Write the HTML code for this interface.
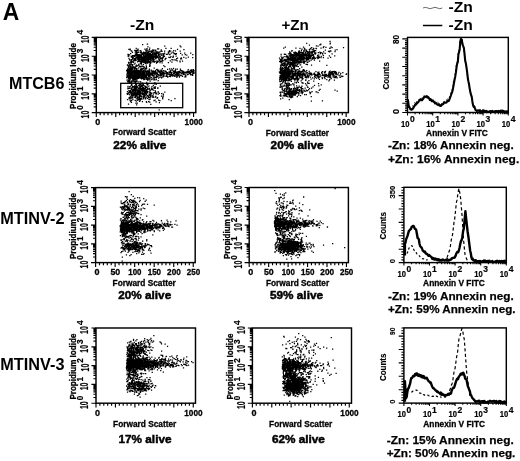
<!DOCTYPE html>
<html lang="en"><head><meta charset="utf-8"><title>Figure A</title>
<style>html,body{margin:0;padding:0;background:#fff;}body{width:520px;height:461px;overflow:hidden;}svg{display:block;filter:blur(0.35px);}</style>
</head><body>
<svg width="520" height="461" viewBox="0 0 520 461" font-family="'Liberation Sans', Arial, Helvetica, sans-serif">
<rect x="96.30" y="37.40" width="99.50" height="75.20" fill="none" stroke="#000" stroke-width="1.45"/>
<path d="M96.30 112.60L96.30 116.90M100.19 112.60L100.19 115.20M104.08 112.60L104.08 115.20M107.97 112.60L107.97 115.20M111.86 112.60L111.86 115.20M115.75 112.60L115.75 116.90M119.64 112.60L119.64 115.20M123.53 112.60L123.53 115.20M127.42 112.60L127.42 115.20M131.31 112.60L131.31 115.20M135.21 112.60L135.21 116.90M139.10 112.60L139.10 115.20M142.99 112.60L142.99 115.20M146.88 112.60L146.88 115.20M150.77 112.60L150.77 115.20M154.66 112.60L154.66 116.90M158.55 112.60L158.55 115.20M162.44 112.60L162.44 115.20M166.33 112.60L166.33 115.20M170.22 112.60L170.22 115.20M174.11 112.60L174.11 116.90M178.00 112.60L178.00 115.20M181.89 112.60L181.89 115.20M185.78 112.60L185.78 115.20M189.67 112.60L189.67 115.20M193.56 112.60L193.56 116.90M91.70 112.60L96.30 112.60M93.70 106.94L96.30 106.94M93.70 103.63L96.30 103.63M93.70 101.28L96.30 101.28M93.70 99.46L96.30 99.46M93.70 97.97L96.30 97.97M93.70 96.71L96.30 96.71M93.70 95.62L96.30 95.62M93.70 94.66L96.30 94.66M91.70 93.80L96.30 93.80M93.70 88.14L96.30 88.14M93.70 84.83L96.30 84.83M93.70 82.48L96.30 82.48M93.70 80.66L96.30 80.66M93.70 79.17L96.30 79.17M93.70 77.91L96.30 77.91M93.70 76.82L96.30 76.82M93.70 75.86L96.30 75.86M91.70 75.00L96.30 75.00M93.70 69.34L96.30 69.34M93.70 66.03L96.30 66.03M93.70 63.68L96.30 63.68M93.70 61.86L96.30 61.86M93.70 60.37L96.30 60.37M93.70 59.11L96.30 59.11M93.70 58.02L96.30 58.02M93.70 57.06L96.30 57.06M91.70 56.20L96.30 56.20M93.70 50.54L96.30 50.54M93.70 47.23L96.30 47.23M93.70 44.88L96.30 44.88M93.70 43.06L96.30 43.06M93.70 41.57L96.30 41.57M93.70 40.31L96.30 40.31M93.70 39.22L96.30 39.22M93.70 38.26L96.30 38.26M91.70 37.40L96.30 37.40" stroke="#000" stroke-width="1.15" fill="none"/>
<text x="88.80" y="118.50" font-size="10.2" font-weight="bold" text-anchor="start" fill="#000" textLength="7.80" lengthAdjust="spacingAndGlyphs" transform="rotate(-90 88.80 118.50)"  stroke="#000" stroke-width="0.2">10</text>
<text x="83.30" y="109.70" font-size="9.4" font-weight="bold" text-anchor="start" fill="#000" textLength="4.60" lengthAdjust="spacingAndGlyphs" transform="rotate(-90 83.30 109.70)"  stroke="#000" stroke-width="0.2">0</text>
<text x="88.80" y="99.70" font-size="10.2" font-weight="bold" text-anchor="start" fill="#000" textLength="7.80" lengthAdjust="spacingAndGlyphs" transform="rotate(-90 88.80 99.70)"  stroke="#000" stroke-width="0.2">10</text>
<text x="83.30" y="90.90" font-size="9.4" font-weight="bold" text-anchor="start" fill="#000" textLength="4.60" lengthAdjust="spacingAndGlyphs" transform="rotate(-90 83.30 90.90)"  stroke="#000" stroke-width="0.2">1</text>
<text x="88.80" y="80.90" font-size="10.2" font-weight="bold" text-anchor="start" fill="#000" textLength="7.80" lengthAdjust="spacingAndGlyphs" transform="rotate(-90 88.80 80.90)"  stroke="#000" stroke-width="0.2">10</text>
<text x="83.30" y="72.10" font-size="9.4" font-weight="bold" text-anchor="start" fill="#000" textLength="4.60" lengthAdjust="spacingAndGlyphs" transform="rotate(-90 83.30 72.10)"  stroke="#000" stroke-width="0.2">2</text>
<text x="88.80" y="62.10" font-size="10.2" font-weight="bold" text-anchor="start" fill="#000" textLength="7.80" lengthAdjust="spacingAndGlyphs" transform="rotate(-90 88.80 62.10)"  stroke="#000" stroke-width="0.2">10</text>
<text x="83.30" y="53.30" font-size="9.4" font-weight="bold" text-anchor="start" fill="#000" textLength="4.60" lengthAdjust="spacingAndGlyphs" transform="rotate(-90 83.30 53.30)"  stroke="#000" stroke-width="0.2">3</text>
<text x="88.80" y="43.30" font-size="10.2" font-weight="bold" text-anchor="start" fill="#000" textLength="7.80" lengthAdjust="spacingAndGlyphs" transform="rotate(-90 88.80 43.30)"  stroke="#000" stroke-width="0.2">10</text>
<text x="83.30" y="34.50" font-size="9.4" font-weight="bold" text-anchor="start" fill="#000" textLength="4.60" lengthAdjust="spacingAndGlyphs" transform="rotate(-90 83.30 34.50)"  stroke="#000" stroke-width="0.2">4</text>
<text x="76.30" y="76.00" font-size="9.6" font-weight="bold" text-anchor="middle" fill="#000" textLength="66.00" lengthAdjust="spacingAndGlyphs" transform="rotate(-90 76.30 76.00)"  stroke="#000" stroke-width="0.3">Propidium Iodide</text>
<text x="97.80" y="124.90" font-size="9" font-weight="bold" text-anchor="middle" fill="#000"  stroke="#000" stroke-width="0.3">0</text>
<text x="193.76" y="124.90" font-size="9" font-weight="bold" text-anchor="middle" fill="#000" textLength="18.30" lengthAdjust="spacingAndGlyphs"  stroke="#000" stroke-width="0.3">1000</text>
<text x="144.50" y="135.40" font-size="9.0" font-weight="bold" text-anchor="middle" fill="#000" textLength="63.30" lengthAdjust="spacingAndGlyphs"  stroke="#000" stroke-width="0.3">Forward Scatter</text>
<path d="M143.1 59.3h1.25M155.4 58.4h1.25M155.4 58.0h1.25M142.2 58.0h1.25M130.4 61.6h1.25M147.5 62.2h1.25M137.4 56.1h1.25M162.4 57.9h1.25M148.2 58.4h1.25M147.7 54.9h1.25M139.8 54.9h1.25M148.3 57.5h1.25M141.3 54.0h1.25M136.9 55.8h1.25M149.2 51.4h1.25M135.6 55.9h1.25M144.4 54.3h1.25M152.3 59.2h1.25M151.4 60.2h1.25M137.9 52.3h1.25M150.9 54.5h1.25M135.5 55.3h1.25M157.0 48.8h1.25M143.7 56.2h1.25M128.3 49.3h1.25M143.5 60.9h1.25M155.3 57.0h1.25M147.7 57.9h1.25M150.0 58.9h1.25M147.9 55.9h1.25M127.6 56.3h1.25M150.1 54.6h1.25M133.6 64.1h1.25M148.6 58.8h1.25M146.5 61.4h1.25M145.3 57.5h1.25M137.5 61.3h1.25M141.4 53.4h1.25M144.0 56.2h1.25M148.8 49.5h1.25M138.3 60.1h1.25M143.2 56.4h1.25M146.7 59.2h1.25M145.6 57.2h1.25M152.3 58.7h1.25M154.1 52.9h1.25M145.3 60.6h1.25M157.9 61.2h1.25M135.3 58.9h1.25M152.0 58.7h1.25M147.9 55.1h1.25M155.9 55.0h1.25M143.3 57.1h1.25M163.2 54.8h1.25M144.8 60.8h1.25M146.9 52.6h1.25M142.3 59.8h1.25M162.9 55.1h1.25M151.5 51.2h1.25M137.0 57.5h1.25M152.5 57.1h1.25M137.4 49.2h1.25M170.1 51.0h1.25M141.2 59.5h1.25M147.4 59.4h1.25M159.3 51.9h1.25M136.1 52.5h1.25M134.9 51.2h1.25M145.4 53.0h1.25M147.3 53.8h1.25M154.3 55.8h1.25M159.0 54.2h1.25M149.0 58.4h1.25M147.1 55.1h1.25M158.4 55.5h1.25M140.8 57.0h1.25M158.2 55.2h1.25M154.2 54.9h1.25M148.2 54.7h1.25M143.6 60.0h1.25M144.8 61.1h1.25M152.5 54.8h1.25M128.5 54.5h1.25M154.6 54.3h1.25M143.6 57.2h1.25M145.7 57.5h1.25M150.2 60.5h1.25M137.9 56.7h1.25M130.6 56.2h1.25M139.1 56.7h1.25M146.9 52.7h1.25M146.6 48.9h1.25M137.3 55.0h1.25M141.9 53.7h1.25M160.7 49.8h1.25M148.4 58.4h1.25M151.4 57.9h1.25M137.7 52.1h1.25M153.4 61.4h1.25M157.0 62.3h1.25M149.6 65.8h1.25M150.4 60.1h1.25M142.2 59.5h1.25M145.1 56.5h1.25M143.8 57.6h1.25M137.7 54.7h1.25M161.2 55.3h1.25M151.0 58.5h1.25M146.7 54.2h1.25M127.9 62.4h1.25M145.1 59.3h1.25M132.8 55.7h1.25M158.2 58.2h1.25M164.5 59.5h1.25M146.6 55.6h1.25M161.8 58.9h1.25M139.3 61.7h1.25M144.8 59.2h1.25M145.7 59.0h1.25M151.1 57.5h1.25M140.2 63.5h1.25M139.7 57.6h1.25M152.2 57.0h1.25M144.2 52.6h1.25M149.4 53.3h1.25M149.9 53.6h1.25M135.6 48.3h1.25M152.3 51.6h1.25M138.5 59.7h1.25M147.7 58.0h1.25M145.2 59.4h1.25M155.2 50.1h1.25M144.0 60.0h1.25M140.3 58.2h1.25M143.5 66.8h1.25M138.9 56.9h1.25M142.3 60.7h1.25M137.9 60.6h1.25M148.6 61.1h1.25M145.0 58.8h1.25M147.2 57.3h1.25M146.7 62.0h1.25M145.4 51.8h1.25M151.9 54.1h1.25M150.5 56.6h1.25M143.7 56.5h1.25M155.2 53.1h1.25M147.3 55.2h1.25M128.3 58.4h1.25M150.9 52.4h1.25M139.7 52.5h1.25M150.1 57.2h1.25M158.9 60.4h1.25M136.6 54.2h1.25M144.6 57.3h1.25M145.3 52.8h1.25M143.6 56.2h1.25M145.3 58.7h1.25M144.6 54.8h1.25M155.8 55.7h1.25M131.8 59.0h1.25M135.8 54.4h1.25M149.5 59.1h1.25M141.5 62.0h1.25M152.0 57.8h1.25M140.6 52.4h1.25M135.4 57.6h1.25M159.4 61.4h1.25M166.3 54.3h1.25M129.3 60.2h1.25M138.6 58.7h1.25M151.2 55.9h1.25M152.3 60.2h1.25M156.6 61.4h1.25M156.0 52.6h1.25M153.7 54.0h1.25M155.8 56.5h1.25M143.8 59.3h1.25M138.4 64.2h1.25M145.5 50.1h1.25M158.1 53.6h1.25M143.2 60.8h1.25M157.4 56.2h1.25M138.9 59.0h1.25M159.1 60.3h1.25M151.6 55.6h1.25M139.5 57.5h1.25M163.4 53.7h1.25M131.8 52.3h1.25M131.7 56.5h1.25M144.3 53.3h1.25M140.8 55.2h1.25M149.6 56.0h1.25M141.2 60.1h1.25M152.3 56.2h1.25M141.8 62.0h1.25M148.0 58.9h1.25M154.1 54.1h1.25M170.5 48.3h1.25M149.1 58.8h1.25M143.2 58.7h1.25M144.8 62.0h1.25M145.4 53.4h1.25M136.7 57.3h1.25M152.1 57.8h1.25M152.9 59.7h1.25M149.5 54.9h1.25M145.5 60.9h1.25M162.1 53.8h1.25M147.7 57.1h1.25M153.5 54.0h1.25M154.3 56.5h1.25M153.5 50.1h1.25M145.4 59.0h1.25M131.9 57.5h1.25M143.1 52.1h1.25M134.4 59.3h1.25M146.7 54.5h1.25M140.7 55.1h1.25M145.2 62.5h1.25M148.0 57.9h1.25M137.6 56.0h1.25M144.3 57.0h1.25M153.0 53.8h1.25M145.8 66.6h1.25M144.7 58.0h1.25M141.1 54.1h1.25M135.2 50.7h1.25M153.4 57.3h1.25M142.9 55.2h1.25M144.6 52.9h1.25M153.0 56.0h1.25M146.1 59.7h1.25M139.2 66.4h1.25M147.8 59.4h1.25M134.2 50.3h1.25M140.5 59.2h1.25M147.2 58.0h1.25M130.3 63.3h1.25M142.0 44.7h1.25M142.6 59.5h1.25M145.3 56.3h1.25M139.1 60.2h1.25M145.7 57.4h1.25M132.0 65.7h1.25M151.4 56.2h1.25M152.6 50.4h1.25M155.1 57.7h1.25M150.5 55.6h1.25M147.2 56.5h1.25M151.2 50.9h1.25M148.5 57.2h1.25M144.7 63.4h1.25M141.6 60.0h1.25M140.2 55.7h1.25M142.4 60.2h1.25M146.1 48.9h1.25M147.2 56.8h1.25M140.2 59.5h1.25M150.2 51.1h1.25M147.1 52.1h1.25M141.8 60.7h1.25M150.6 57.9h1.25M145.4 58.5h1.25M137.8 56.7h1.25M165.3 48.3h1.25M148.9 57.8h1.25M142.9 53.5h1.25M134.5 60.6h1.25M145.2 50.0h1.25M157.9 61.1h1.25M137.4 56.4h1.25M147.5 59.7h1.25M156.0 62.7h1.25M141.2 60.8h1.25M138.9 57.6h1.25M129.6 49.1h1.25M128.9 59.6h1.25M147.6 56.5h1.25M149.6 58.5h1.25M127.4 54.4h1.25M151.9 53.7h1.25M149.1 48.1h1.25M135.1 55.1h1.25M142.0 59.0h1.25M145.0 62.2h1.25M145.8 57.7h1.25M142.9 55.3h1.25M150.0 63.1h1.25M149.2 57.6h1.25M133.2 56.5h1.25M152.5 61.5h1.25M143.8 60.4h1.25M140.9 62.0h1.25M129.8 62.2h1.25M141.5 59.4h1.25M145.7 57.6h1.25M130.6 61.5h1.25M152.8 53.8h1.25M156.7 56.7h1.25M148.7 56.1h1.25M138.0 61.0h1.25M143.1 61.8h1.25M153.5 59.3h1.25M151.2 56.2h1.25M168.3 51.8h1.25M164.8 58.4h1.25M155.7 53.5h1.25M153.8 62.0h1.25M131.0 62.4h1.25M148.0 59.4h1.25M136.6 57.5h1.25M145.6 63.1h1.25M156.6 57.5h1.25M162.1 57.5h1.25M136.2 55.2h1.25M142.1 61.1h1.25M133.6 60.6h1.25M143.6 57.6h1.25M138.8 57.9h1.25M147.2 53.0h1.25M141.2 57.8h1.25M141.8 58.2h1.25M142.8 57.3h1.25M158.1 59.2h1.25M142.4 57.4h1.25M129.5 64.8h1.25M164.1 46.1h1.25M147.7 54.8h1.25M153.4 62.2h1.25M153.0 58.0h1.25M155.8 63.0h1.25M147.4 55.2h1.25M150.8 55.5h1.25M137.5 57.7h1.25M147.6 59.0h1.25M137.2 50.7h1.25M146.3 55.3h1.25M139.8 55.0h1.25M134.2 56.4h1.25M167.8 62.5h1.25M132.7 62.3h1.25M157.2 56.0h1.25M146.3 53.1h1.25M145.3 56.0h1.25M145.1 62.5h1.25M134.0 55.3h1.25M147.7 57.0h1.25M138.2 55.1h1.25M149.2 55.7h1.25M144.3 56.6h1.25M142.8 58.8h1.25M147.3 61.9h1.25M148.9 61.9h1.25M159.4 62.6h1.25M147.8 58.3h1.25M156.2 51.7h1.25M145.3 57.8h1.25M137.6 56.5h1.25M145.6 65.2h1.25M136.4 57.2h1.25M160.0 58.3h1.25M149.2 61.7h1.25M135.0 52.8h1.25M142.6 60.3h1.25M157.5 52.1h1.25M162.7 56.1h1.25M130.9 59.7h1.25M146.0 58.9h1.25M153.3 57.4h1.25M139.5 50.9h1.25M144.2 62.0h1.25M148.0 52.6h1.25M130.7 50.9h1.25M146.5 56.7h1.25M146.7 63.2h1.25M145.2 53.9h1.25M142.2 59.9h1.25M136.0 53.8h1.25M155.4 55.8h1.25M139.6 50.7h1.25M143.5 52.6h1.25M148.3 62.0h1.25M149.6 55.8h1.25M161.6 61.2h1.25M146.7 57.8h1.25M140.9 52.7h1.25M145.1 55.9h1.25M134.5 63.2h1.25M148.0 56.1h1.25M164.0 51.2h1.25M146.6 58.8h1.25M154.9 50.9h1.25M151.2 52.1h1.25M148.7 57.9h1.25M147.6 60.1h1.25M152.2 57.0h1.25M143.5 53.9h1.25M155.8 55.4h1.25M143.7 56.7h1.25M131.1 60.8h1.25M142.2 53.0h1.25M147.9 55.8h1.25M145.6 57.3h1.25M147.3 46.9h1.25M134.9 58.3h1.25M149.6 60.8h1.25M148.8 54.4h1.25M144.1 59.8h1.25M141.0 57.6h1.25M159.2 59.3h1.25M148.3 51.9h1.25M138.0 59.9h1.25M161.5 59.9h1.25M147.3 59.8h1.25M136.6 57.9h1.25M146.4 61.2h1.25M145.8 51.0h1.25M140.7 60.3h1.25M152.7 52.1h1.25M150.1 60.3h1.25M141.3 56.6h1.25M150.4 55.0h1.25M140.9 63.0h1.25M148.3 58.7h1.25M140.3 61.6h1.25M142.6 59.5h1.25M144.8 55.5h1.25M152.5 58.8h1.25M149.4 51.1h1.25M149.6 61.8h1.25M147.8 60.5h1.25M132.5 62.1h1.25M132.6 58.2h1.25M153.1 60.5h1.25M144.3 49.2h1.25M132.0 55.5h1.25M147.3 62.9h1.25M147.5 51.4h1.25M139.9 52.9h1.25M140.5 62.4h1.25M131.6 61.4h1.25M140.7 55.5h1.25M133.3 59.6h1.25M136.0 50.3h1.25M136.6 52.6h1.25M140.2 57.0h1.25M155.5 54.8h1.25M135.4 55.9h1.25M132.6 57.8h1.25M136.2 57.4h1.25M148.8 62.4h1.25M145.7 55.3h1.25M143.5 58.3h1.25M144.2 57.7h1.25M133.1 60.9h1.25M144.8 59.9h1.25M155.6 54.7h1.25M148.2 53.5h1.25M156.1 61.0h1.25M138.6 54.6h1.25M148.9 66.3h1.25M134.7 52.8h1.25M138.0 58.4h1.25M157.4 61.2h1.25M149.6 54.5h1.25M145.2 61.1h1.25M159.8 56.1h1.25M145.6 60.3h1.25M133.8 60.4h1.25M131.9 64.7h1.25M161.2 58.4h1.25M146.4 55.1h1.25M144.3 56.8h1.25M157.9 54.6h1.25M149.4 58.1h1.25M146.7 53.7h1.25M158.5 52.4h1.25M154.9 53.2h1.25M136.0 51.1h1.25M148.5 54.9h1.25M130.8 57.2h1.25M153.9 53.4h1.25M145.9 59.2h1.25M154.8 57.9h1.25M134.8 58.3h1.25M146.0 56.8h1.25M134.0 59.1h1.25M150.1 53.8h1.25M148.8 56.6h1.25M144.0 56.6h1.25M136.8 50.1h1.25M156.1 55.8h1.25M147.3 56.5h1.25M139.6 55.3h1.25M138.6 60.9h1.25M146.2 54.6h1.25M135.3 60.2h1.25M140.9 64.2h1.25M138.2 57.7h1.25M158.3 55.3h1.25M141.5 60.3h1.25M134.4 55.4h1.25M159.3 57.6h1.25M142.6 57.1h1.25M151.2 56.8h1.25M135.1 54.6h1.25M155.8 53.6h1.25M135.7 53.9h1.25M142.8 55.1h1.25M130.6 60.0h1.25M146.4 58.0h1.25M156.6 53.5h1.25M152.3 50.8h1.25M145.0 60.4h1.25M141.4 61.1h1.25M148.1 56.5h1.25M149.8 57.3h1.25M127.4 54.9h1.25M154.2 56.8h1.25M168.8 51.4h1.25M141.8 58.4h1.25M146.6 59.2h1.25M159.0 56.3h1.25M149.2 56.6h1.25M146.5 57.6h1.25M146.1 63.2h1.25M160.1 58.0h1.25M154.3 51.8h1.25M135.6 53.8h1.25M151.7 55.5h1.25M145.1 56.7h1.25M135.7 52.4h1.25M139.9 63.2h1.25M152.0 53.4h1.25M137.4 61.4h1.25M143.1 55.5h1.25M136.9 61.9h1.25M137.6 59.6h1.25M160.2 53.8h1.25M144.5 58.5h1.25M140.5 51.0h1.25M139.2 55.8h1.25M152.1 54.3h1.25M130.0 53.7h1.25M145.3 57.4h1.25M134.8 60.3h1.25M147.4 56.3h1.25M152.2 49.8h1.25M142.8 64.6h1.25M137.4 50.3h1.25M155.2 58.8h1.25M150.0 62.7h1.25M146.6 62.1h1.25M139.4 58.2h1.25M145.5 50.6h1.25M159.3 59.6h1.25M146.6 61.9h1.25M153.6 53.6h1.25M140.4 56.3h1.25M151.3 61.9h1.25M137.0 56.4h1.25M147.0 58.0h1.25M142.4 58.7h1.25M146.6 55.0h1.25M139.3 61.4h1.25M172.2 57.4h1.25M133.8 58.5h1.25M147.1 53.2h1.25M147.2 50.3h1.25M145.3 58.2h1.25M147.0 58.5h1.25M128.3 55.9h1.25M164.0 53.1h1.25M138.0 55.6h1.25M152.1 55.9h1.25M131.1 51.2h1.25M137.7 60.3h1.25M172.6 52.6h1.25M152.1 57.3h1.25M161.4 51.3h1.25M160.5 57.9h1.25M129.6 49.9h1.25M154.6 61.4h1.25M142.0 54.7h1.25M145.6 55.4h1.25M145.2 59.1h1.25M148.6 59.3h1.25M144.7 56.7h1.25M146.2 58.1h1.25M149.2 65.4h1.25M149.2 55.6h1.25M162.3 60.7h1.25M138.5 54.8h1.25M149.9 53.1h1.25M149.4 58.9h1.25M142.8 52.8h1.25M150.2 54.7h1.25M149.4 59.3h1.25M142.6 59.4h1.25M161.5 62.8h1.25M175.1 54.3h1.25M167.7 52.0h1.25M169.5 57.7h1.25M149.2 64.2h1.25M175.8 53.6h1.25M174.4 53.6h1.25M163.1 65.7h1.25M174.9 50.9h1.25M192.2 54.6h1.25M176.0 58.6h1.25M174.2 59.9h1.25M179.4 61.0h1.25M172.8 56.1h1.25M161.4 51.4h1.25M175.5 60.1h1.25M176.9 49.4h1.25M187.7 57.2h1.25M170.7 53.1h1.25M160.6 61.4h1.25M169.4 54.5h1.25M149.3 55.7h1.25M179.5 61.8h1.25M176.9 58.0h1.25M184.7 54.6h1.25M165.8 54.3h1.25M180.3 46.8h1.25M168.8 50.5h1.25M192.1 57.7h1.25M158.2 54.7h1.25M169.2 54.3h1.25M172.5 57.1h1.25M171.3 62.2h1.25M185.4 58.2h1.25M186.2 55.1h1.25M154.4 53.6h1.25M183.3 49.6h1.25M180.6 57.9h1.25M170.3 56.6h1.25M181.0 58.8h1.25M180.0 58.9h1.25M181.9 61.2h1.25M162.6 57.3h1.25M160.5 53.8h1.25M173.1 50.7h1.25M165.4 58.4h1.25M179.5 45.8h1.25M173.5 53.4h1.25M157.6 57.3h1.25M167.3 54.2h1.25M169.1 54.5h1.25M190.1 53.1h1.25M158.0 48.8h1.25M173.6 53.8h1.25M169.7 60.8h1.25M147.3 52.0h1.25M171.3 59.6h1.25M180.0 53.4h1.25M168.0 52.8h1.25M184.1 53.1h1.25M158.1 55.6h1.25M175.5 56.1h1.25M163.8 56.4h1.25M183.2 57.3h1.25M160.4 51.0h1.25M176.6 60.8h1.25M156.9 52.8h1.25M168.3 57.4h1.25M160.6 54.2h1.25M181.6 54.8h1.25M172.4 59.8h1.25M164.3 66.6h1.25M172.3 52.1h1.25M179.6 51.2h1.25M162.4 57.4h1.25M128.2 75.2h1.25M129.2 83.1h1.25M134.6 71.5h1.25M160.3 70.7h1.25M152.7 73.5h1.25M156.6 69.4h1.25M175.1 76.2h1.25M154.9 77.5h1.25M139.7 77.9h1.25M156.5 72.9h1.25M144.6 71.2h1.25M151.6 75.8h1.25M135.8 70.5h1.25M156.8 72.8h1.25M139.7 71.7h1.25M129.0 74.5h1.25M143.3 79.7h1.25M163.0 76.4h1.25M189.6 74.2h1.25M126.1 77.6h1.25M142.5 66.6h1.25M141.3 73.8h1.25M140.4 68.8h1.25M134.7 73.1h1.25M134.5 78.7h1.25M128.0 71.9h1.25M136.1 69.5h1.25M192.6 72.9h1.25M137.5 65.7h1.25M141.0 66.1h1.25M129.6 69.4h1.25M140.2 82.0h1.25M170.9 72.4h1.25M169.7 70.3h1.25M129.3 72.6h1.25M130.0 78.0h1.25M145.8 71.4h1.25M146.1 72.0h1.25M136.5 74.4h1.25M162.8 70.8h1.25M139.7 71.2h1.25M132.1 71.0h1.25M143.0 70.6h1.25M128.5 77.2h1.25M128.0 79.1h1.25M140.7 75.7h1.25M127.2 69.0h1.25M155.3 71.9h1.25M129.6 79.0h1.25M128.0 77.8h1.25M137.8 71.2h1.25M137.5 70.8h1.25M131.6 81.8h1.25M133.4 76.0h1.25M159.7 72.6h1.25M139.6 77.9h1.25M131.4 69.2h1.25M133.3 77.3h1.25M139.1 74.4h1.25M134.8 71.2h1.25M141.1 77.7h1.25M136.2 75.3h1.25M134.5 74.4h1.25M130.1 73.1h1.25M147.7 75.8h1.25M129.3 73.2h1.25M161.9 72.7h1.25M137.6 76.9h1.25M134.6 68.2h1.25M135.3 76.0h1.25M139.9 73.1h1.25M137.9 77.3h1.25M171.9 75.9h1.25M135.1 73.8h1.25M167.1 76.6h1.25M140.3 71.2h1.25M135.6 73.0h1.25M142.6 72.5h1.25M129.8 77.1h1.25M133.6 72.8h1.25M134.8 72.3h1.25M132.9 76.5h1.25M128.6 75.0h1.25M132.5 67.2h1.25M168.7 76.3h1.25M128.7 73.5h1.25M147.7 74.4h1.25M136.5 70.8h1.25M163.4 70.7h1.25M145.7 74.3h1.25M152.4 74.9h1.25M126.7 75.9h1.25M133.1 74.2h1.25M126.7 71.6h1.25M162.5 76.8h1.25M151.1 73.6h1.25M134.5 77.5h1.25M161.8 74.0h1.25M164.4 71.9h1.25M126.8 73.8h1.25M130.6 75.5h1.25M153.6 77.3h1.25M153.4 75.8h1.25M132.5 81.1h1.25M179.1 75.8h1.25M152.7 75.6h1.25M127.0 69.0h1.25M137.1 65.9h1.25M154.6 73.2h1.25M150.1 74.5h1.25M141.6 73.7h1.25M136.5 74.9h1.25M133.3 77.4h1.25M131.3 78.0h1.25M140.4 66.5h1.25M133.0 76.5h1.25M128.9 70.6h1.25M141.8 72.6h1.25M129.6 71.2h1.25M154.9 70.6h1.25M128.3 72.8h1.25M127.1 77.2h1.25M130.3 72.5h1.25M133.7 70.0h1.25M134.9 74.4h1.25M127.6 71.5h1.25M128.2 63.3h1.25M137.3 75.3h1.25M176.3 75.7h1.25M145.6 77.8h1.25M131.5 71.6h1.25M126.4 74.8h1.25M130.0 66.7h1.25M163.3 74.9h1.25M161.4 73.1h1.25M133.8 76.4h1.25M135.1 79.7h1.25M135.1 75.0h1.25M142.6 71.7h1.25M160.1 72.3h1.25M139.5 66.8h1.25M129.3 72.2h1.25M149.2 77.3h1.25M137.6 75.1h1.25M137.5 73.4h1.25M151.5 79.0h1.25M156.8 73.8h1.25M132.5 71.4h1.25M134.1 70.1h1.25M147.8 76.6h1.25M132.9 66.8h1.25M142.4 72.5h1.25M133.7 75.6h1.25M191.2 72.0h1.25M159.2 77.1h1.25M132.9 75.7h1.25M186.9 71.5h1.25M134.3 74.3h1.25M126.4 75.9h1.25M127.7 79.0h1.25M135.2 70.5h1.25M142.5 72.1h1.25M128.3 77.1h1.25M128.3 80.9h1.25M131.7 77.4h1.25M139.3 76.0h1.25M131.0 72.1h1.25M143.6 73.0h1.25M136.4 77.0h1.25M141.9 75.2h1.25M154.2 79.8h1.25M128.0 81.4h1.25M135.8 77.9h1.25M155.7 79.5h1.25M155.8 75.5h1.25M130.7 71.9h1.25M169.8 76.7h1.25M167.0 69.3h1.25M129.6 70.5h1.25M134.2 74.2h1.25M128.5 68.0h1.25M152.6 77.9h1.25M144.4 72.1h1.25M141.8 74.2h1.25M148.4 72.3h1.25M130.2 67.0h1.25M128.3 76.1h1.25M128.2 74.5h1.25M132.7 71.5h1.25M135.5 78.1h1.25M149.3 78.3h1.25M185.3 75.1h1.25M139.8 74.0h1.25M158.1 75.2h1.25M148.6 74.1h1.25M138.8 77.2h1.25M167.1 77.1h1.25M127.5 72.4h1.25M143.7 75.6h1.25M129.6 71.0h1.25M135.7 76.7h1.25M126.0 70.6h1.25M138.2 72.3h1.25M126.8 77.2h1.25M132.3 78.0h1.25M132.0 69.7h1.25M142.3 74.5h1.25M145.9 67.6h1.25M134.9 72.5h1.25M181.7 76.4h1.25M133.1 74.2h1.25M146.0 68.8h1.25M141.9 72.8h1.25M133.7 74.4h1.25M139.0 72.0h1.25M134.5 75.7h1.25M142.7 71.2h1.25M129.6 76.6h1.25M151.8 74.7h1.25M181.3 71.8h1.25M127.5 81.0h1.25M143.2 76.6h1.25M137.1 73.4h1.25M127.3 65.5h1.25M131.8 74.5h1.25M129.5 73.0h1.25M136.1 79.1h1.25M144.3 76.6h1.25M152.4 70.7h1.25M144.3 78.7h1.25M134.2 76.8h1.25M130.0 66.3h1.25M177.1 72.9h1.25M133.8 73.7h1.25M148.6 69.5h1.25M127.1 72.7h1.25M134.0 74.3h1.25M144.1 73.5h1.25M177.8 75.5h1.25M133.9 75.4h1.25M129.3 77.7h1.25M159.5 77.0h1.25M141.3 70.2h1.25M144.3 71.6h1.25M152.9 73.5h1.25M155.8 77.8h1.25M155.5 76.5h1.25M140.7 73.2h1.25M128.7 78.0h1.25M155.6 73.9h1.25M126.4 80.2h1.25M127.1 68.8h1.25M182.1 73.7h1.25M129.1 76.4h1.25M129.4 79.2h1.25M156.0 74.0h1.25M146.1 82.3h1.25M158.1 71.6h1.25M128.2 74.5h1.25M127.2 71.3h1.25M127.1 70.6h1.25M136.4 80.9h1.25M130.9 69.4h1.25M132.0 71.3h1.25M154.3 74.5h1.25M133.0 76.2h1.25M129.3 73.6h1.25M166.6 73.3h1.25M132.5 79.7h1.25M139.2 75.2h1.25M144.1 72.5h1.25M143.2 75.3h1.25M134.8 72.1h1.25M165.7 75.5h1.25M132.9 80.2h1.25M128.2 74.2h1.25M129.1 73.6h1.25M127.9 76.5h1.25M134.2 78.4h1.25M151.1 79.5h1.25M131.2 66.8h1.25M149.3 77.0h1.25M137.1 74.7h1.25M128.4 73.5h1.25M128.8 71.6h1.25M129.1 74.7h1.25M139.8 76.0h1.25M176.1 74.7h1.25M130.7 81.2h1.25M132.3 72.2h1.25M132.0 74.7h1.25M136.4 74.1h1.25M134.9 79.0h1.25M141.6 74.0h1.25M149.3 79.5h1.25M136.1 72.9h1.25M136.7 77.0h1.25M136.4 73.1h1.25M131.8 73.9h1.25M135.3 73.8h1.25M162.9 75.2h1.25M173.7 76.4h1.25M146.7 75.1h1.25M133.5 73.9h1.25M164.3 73.7h1.25M143.8 76.0h1.25M153.1 73.6h1.25M150.8 71.0h1.25M148.5 75.9h1.25M145.7 71.6h1.25M132.0 73.0h1.25M138.7 73.0h1.25M130.9 69.3h1.25M178.3 71.7h1.25M159.4 73.2h1.25M129.7 75.5h1.25M161.0 71.3h1.25M166.3 75.7h1.25M159.9 74.3h1.25M129.2 73.7h1.25M158.4 74.9h1.25M137.9 76.6h1.25M149.6 75.2h1.25M138.9 75.4h1.25M148.7 69.0h1.25M140.6 73.9h1.25M135.5 77.0h1.25M130.4 72.5h1.25M151.2 73.3h1.25M133.7 74.0h1.25M146.1 79.4h1.25M130.4 67.9h1.25M135.2 76.6h1.25M137.6 70.1h1.25M136.4 77.7h1.25M159.2 72.2h1.25M177.6 75.0h1.25M133.9 70.4h1.25M154.1 71.3h1.25M172.2 75.3h1.25M162.5 72.3h1.25M138.7 76.5h1.25M140.2 71.5h1.25M148.1 73.5h1.25M148.7 70.8h1.25M155.2 73.9h1.25M127.5 71.8h1.25M128.0 79.1h1.25M127.0 77.1h1.25M150.7 72.8h1.25M136.7 73.8h1.25M134.0 67.1h1.25M133.4 73.5h1.25M165.0 71.2h1.25M126.9 72.1h1.25M166.2 75.1h1.25M130.4 66.8h1.25M141.3 71.2h1.25M143.4 76.2h1.25M158.2 75.4h1.25M126.9 81.9h1.25M141.1 70.2h1.25M132.3 76.2h1.25M132.8 72.1h1.25M138.0 67.8h1.25M137.6 74.5h1.25M146.3 73.0h1.25M165.6 76.3h1.25M177.0 74.7h1.25M158.1 70.0h1.25M132.9 73.8h1.25M162.3 76.9h1.25M128.0 80.5h1.25M156.5 76.2h1.25M131.8 72.6h1.25M149.0 74.3h1.25M132.8 74.2h1.25M142.3 77.9h1.25M174.5 72.1h1.25M158.0 78.0h1.25M135.8 77.0h1.25M130.9 74.4h1.25M127.8 67.7h1.25M148.6 74.7h1.25M161.1 77.6h1.25M182.0 76.2h1.25M132.7 70.2h1.25M179.0 75.9h1.25M139.1 76.6h1.25M127.7 69.8h1.25M132.2 79.2h1.25M177.6 71.7h1.25M144.1 76.5h1.25M147.2 73.1h1.25M134.0 71.2h1.25M129.8 74.6h1.25M133.0 77.9h1.25M141.9 75.4h1.25M144.0 72.9h1.25M127.9 73.9h1.25M128.7 70.6h1.25M147.6 72.4h1.25M129.6 76.8h1.25M167.2 73.0h1.25M129.1 80.1h1.25M139.6 77.5h1.25M128.4 71.5h1.25M140.0 74.1h1.25M130.3 71.6h1.25M131.4 75.1h1.25M139.8 74.1h1.25M139.3 73.3h1.25M142.8 72.8h1.25M129.2 71.2h1.25M126.5 70.0h1.25M170.1 75.2h1.25M143.2 74.1h1.25M150.7 77.5h1.25M131.5 65.2h1.25M145.1 68.6h1.25M159.6 71.3h1.25M176.6 76.3h1.25M182.2 72.3h1.25M131.5 75.7h1.25M148.6 75.3h1.25M130.3 76.5h1.25M133.9 85.8h1.25M138.9 72.0h1.25M156.1 77.3h1.25M130.3 70.3h1.25M163.3 73.9h1.25M134.5 72.2h1.25M193.4 72.5h1.25M161.1 70.2h1.25M172.9 73.6h1.25M143.7 67.8h1.25M160.8 74.7h1.25M190.7 70.6h1.25M184.2 76.8h1.25M131.7 80.1h1.25M131.2 75.0h1.25M139.4 77.2h1.25M149.0 73.0h1.25M157.4 71.3h1.25M182.7 74.4h1.25M147.0 71.0h1.25M134.2 68.1h1.25M144.4 77.3h1.25M134.0 74.4h1.25M145.2 76.5h1.25M127.7 72.9h1.25M147.5 78.3h1.25M128.4 73.2h1.25M129.9 72.7h1.25M189.1 73.0h1.25M144.7 75.4h1.25M135.9 65.0h1.25M161.4 75.2h1.25M129.7 77.6h1.25M138.0 74.6h1.25M128.0 71.0h1.25M165.5 71.6h1.25M170.7 73.5h1.25M127.5 70.7h1.25M134.9 71.0h1.25M145.9 71.1h1.25M173.4 75.3h1.25M134.9 74.9h1.25M148.9 73.6h1.25M137.7 73.7h1.25M153.6 68.0h1.25M133.7 79.4h1.25M129.0 80.8h1.25M143.1 76.7h1.25M146.4 74.6h1.25M154.6 72.8h1.25M158.6 72.6h1.25M150.6 71.2h1.25M132.4 76.2h1.25M157.4 76.5h1.25M128.9 66.0h1.25M152.7 73.1h1.25M133.4 76.5h1.25M130.0 70.4h1.25M133.6 81.7h1.25M128.2 73.5h1.25M192.1 75.3h1.25M130.4 77.1h1.25M146.1 71.9h1.25M133.4 77.2h1.25M142.2 78.1h1.25M153.8 73.3h1.25M140.9 76.7h1.25M145.8 73.4h1.25M160.9 77.8h1.25M134.6 76.3h1.25M127.3 72.6h1.25M153.9 72.5h1.25M128.2 70.2h1.25M146.6 77.9h1.25M155.7 72.9h1.25M182.3 73.6h1.25M158.6 71.4h1.25M130.0 76.9h1.25M148.0 71.1h1.25M128.7 73.0h1.25M139.8 74.7h1.25M147.9 71.1h1.25M132.3 72.0h1.25M156.9 74.5h1.25M153.9 72.4h1.25M171.6 76.2h1.25M146.8 70.8h1.25M128.7 72.0h1.25M132.3 68.3h1.25M144.4 74.8h1.25M130.9 71.1h1.25M148.4 78.9h1.25M149.9 72.9h1.25M162.4 73.6h1.25M128.9 74.0h1.25M127.1 69.1h1.25M128.2 74.6h1.25M133.9 78.6h1.25M130.8 74.4h1.25M159.0 72.1h1.25M126.5 73.9h1.25M136.9 72.9h1.25M145.8 73.1h1.25M140.2 69.4h1.25M131.0 81.9h1.25M190.9 69.9h1.25M138.0 75.4h1.25M150.5 71.2h1.25M136.2 74.6h1.25M130.2 73.3h1.25M130.3 69.2h1.25M130.3 73.2h1.25M185.1 75.9h1.25M127.2 70.7h1.25M132.0 69.3h1.25M129.4 65.9h1.25M126.8 64.9h1.25M134.7 78.8h1.25M128.0 69.6h1.25M129.2 74.4h1.25M174.4 71.7h1.25M138.8 74.5h1.25M142.5 72.2h1.25M130.6 73.7h1.25M150.6 74.3h1.25M159.3 75.2h1.25M128.7 76.3h1.25M135.4 73.9h1.25M161.4 74.3h1.25M169.8 71.5h1.25M127.3 71.3h1.25M139.1 77.9h1.25M130.5 74.0h1.25M128.1 82.0h1.25M140.1 75.2h1.25M133.6 74.0h1.25M144.9 74.8h1.25M130.5 68.5h1.25M129.1 69.0h1.25M147.4 79.6h1.25M141.8 74.5h1.25M137.4 77.1h1.25M141.4 68.9h1.25M139.8 73.9h1.25M137.1 72.6h1.25M137.5 81.8h1.25M127.7 66.2h1.25M141.8 72.1h1.25M149.7 74.2h1.25M148.8 72.5h1.25M138.0 71.5h1.25M147.4 77.4h1.25M136.8 73.4h1.25M128.5 70.2h1.25M138.7 74.1h1.25M134.3 77.0h1.25M136.3 72.7h1.25M139.7 69.8h1.25M133.2 71.5h1.25M153.2 79.8h1.25M134.2 74.8h1.25M145.5 67.8h1.25M131.8 75.8h1.25M142.9 77.4h1.25M136.5 73.1h1.25M145.7 77.1h1.25M127.6 73.0h1.25M127.5 70.2h1.25M134.8 67.1h1.25M143.0 68.6h1.25M129.8 67.1h1.25M140.0 71.9h1.25M134.1 76.7h1.25M143.5 75.7h1.25M149.7 63.6h1.25M135.5 76.2h1.25M142.1 73.8h1.25M142.7 72.0h1.25M139.0 66.0h1.25M132.7 73.2h1.25M132.0 78.2h1.25M143.9 72.1h1.25M128.6 64.7h1.25M137.9 76.4h1.25M142.6 73.7h1.25M141.3 73.4h1.25M131.6 68.4h1.25M136.5 70.8h1.25M148.5 74.5h1.25M135.1 82.8h1.25M134.1 70.6h1.25M137.6 73.8h1.25M138.8 74.9h1.25M148.4 72.5h1.25M137.0 71.3h1.25M133.7 77.0h1.25M143.0 72.1h1.25M151.1 74.8h1.25M145.2 68.4h1.25M136.2 74.0h1.25M140.3 72.3h1.25M126.3 70.7h1.25M138.6 74.8h1.25M127.7 77.0h1.25M136.9 74.8h1.25M138.9 72.0h1.25M128.0 77.9h1.25M137.8 70.8h1.25M132.5 73.2h1.25M138.2 70.7h1.25M136.9 70.9h1.25M137.9 77.0h1.25M130.7 70.3h1.25M147.6 75.2h1.25M136.6 74.4h1.25M143.0 76.2h1.25M139.7 74.5h1.25M139.0 75.8h1.25M138.6 74.4h1.25M141.5 74.6h1.25M138.8 72.1h1.25M130.5 73.1h1.25M140.0 71.6h1.25M134.6 81.6h1.25M136.0 72.1h1.25M134.1 75.7h1.25M133.8 74.9h1.25M131.4 73.8h1.25M130.9 70.0h1.25M137.3 77.7h1.25M133.8 71.9h1.25M148.8 71.5h1.25M137.9 78.3h1.25M141.2 74.7h1.25M132.3 74.2h1.25M136.3 68.7h1.25M126.5 76.6h1.25M141.9 72.7h1.25M147.5 73.2h1.25M139.1 71.4h1.25M130.9 74.2h1.25M132.8 76.8h1.25M135.5 72.8h1.25M144.3 79.3h1.25M131.6 71.8h1.25M136.6 75.3h1.25M138.9 75.1h1.25M136.9 75.7h1.25M128.5 74.6h1.25M128.0 67.4h1.25M134.1 82.0h1.25M153.2 76.0h1.25M143.0 73.8h1.25M152.2 72.0h1.25M130.9 70.0h1.25M136.8 78.8h1.25M141.8 66.2h1.25M137.5 74.8h1.25M131.8 72.5h1.25M136.2 76.1h1.25M135.8 68.5h1.25M129.6 67.8h1.25M133.3 71.7h1.25M137.7 70.9h1.25M141.6 72.9h1.25M153.0 71.7h1.25M135.7 70.1h1.25M136.8 71.6h1.25M137.7 76.3h1.25M141.7 76.3h1.25M145.7 75.7h1.25M129.7 71.9h1.25M131.8 74.4h1.25M148.3 74.1h1.25M142.2 69.1h1.25M130.5 64.5h1.25M137.1 70.5h1.25M141.1 69.1h1.25M143.9 70.1h1.25M146.2 73.9h1.25M135.9 74.9h1.25M142.1 78.4h1.25M137.2 76.3h1.25M138.0 73.4h1.25M155.8 69.7h1.25M131.4 77.3h1.25M128.4 75.5h1.25M139.5 74.0h1.25M145.8 76.2h1.25M135.2 79.9h1.25M131.3 77.0h1.25M145.6 71.5h1.25M143.4 78.1h1.25M135.2 71.0h1.25M137.5 72.0h1.25M140.9 78.8h1.25M137.9 71.0h1.25M131.0 69.5h1.25M140.1 78.0h1.25M132.4 71.5h1.25M127.6 75.6h1.25M149.0 74.6h1.25M133.5 78.5h1.25M132.0 78.4h1.25M139.5 75.7h1.25M142.3 68.4h1.25M138.3 70.5h1.25M135.9 72.3h1.25M138.5 74.1h1.25M147.2 80.3h1.25M131.2 74.1h1.25M126.7 73.3h1.25M134.3 69.2h1.25M138.8 74.3h1.25M130.3 73.8h1.25M137.6 76.6h1.25M133.2 67.5h1.25M133.6 72.3h1.25M132.2 71.3h1.25M153.8 72.6h1.25M148.5 76.0h1.25M133.2 74.1h1.25M153.5 78.7h1.25M133.1 79.5h1.25M138.8 74.4h1.25M142.7 78.9h1.25M134.2 75.1h1.25M140.3 73.2h1.25M135.4 65.9h1.25M134.2 77.4h1.25M136.0 71.6h1.25M140.1 73.1h1.25M133.2 75.8h1.25M140.7 71.0h1.25M175.0 71.3h1.25M157.6 74.7h1.25M174.0 72.9h1.25M156.9 70.5h1.25M165.4 76.3h1.25M174.3 74.8h1.25M168.9 74.5h1.25M178.8 77.1h1.25M160.3 70.0h1.25M176.2 77.3h1.25M193.1 72.8h1.25M178.6 71.7h1.25M160.0 75.5h1.25M165.7 72.6h1.25M163.4 76.0h1.25M179.7 72.3h1.25M174.8 70.1h1.25M165.7 73.5h1.25M179.8 69.2h1.25M170.9 74.2h1.25M174.2 73.4h1.25M176.0 73.7h1.25M175.0 71.7h1.25M159.2 75.0h1.25M169.7 75.5h1.25M152.2 73.8h1.25M166.9 76.6h1.25M186.9 74.6h1.25M162.8 72.7h1.25M187.3 71.1h1.25M168.6 74.4h1.25M173.5 72.1h1.25M189.7 73.6h1.25M173.0 71.0h1.25M155.2 72.5h1.25M170.5 74.1h1.25M177.8 71.7h1.25M187.1 72.9h1.25M169.0 68.8h1.25M172.2 74.6h1.25M180.7 75.2h1.25M172.4 72.1h1.25M189.5 73.0h1.25M185.2 76.8h1.25M176.7 69.2h1.25M182.0 72.4h1.25M151.8 72.9h1.25M188.0 72.4h1.25M169.7 72.6h1.25M179.2 71.1h1.25M174.9 74.5h1.25M163.1 72.8h1.25M185.4 73.1h1.25M175.3 71.6h1.25M168.6 72.9h1.25M181.5 72.3h1.25M172.0 69.9h1.25M173.2 71.5h1.25M178.6 72.7h1.25M171.0 73.3h1.25M180.2 70.3h1.25M160.2 73.7h1.25M165.7 75.8h1.25M177.4 74.1h1.25M168.5 71.9h1.25M176.3 73.8h1.25M170.1 75.1h1.25M163.6 73.3h1.25M149.0 73.4h1.25M180.1 75.4h1.25M177.5 73.6h1.25M186.3 72.6h1.25M166.2 73.8h1.25M170.5 73.7h1.25M174.3 72.9h1.25M174.0 71.2h1.25M185.2 72.1h1.25M171.2 75.3h1.25M172.9 68.4h1.25M161.1 75.8h1.25M161.4 71.5h1.25M188.4 72.2h1.25M177.6 73.9h1.25M176.2 72.6h1.25M162.6 73.3h1.25M183.4 71.9h1.25M189.6 71.8h1.25M170.0 74.6h1.25M177.3 71.6h1.25M167.4 74.2h1.25M166.8 72.6h1.25M178.2 72.0h1.25M182.5 73.2h1.25M177.5 72.0h1.25M183.4 73.5h1.25M170.9 68.9h1.25M151.8 71.7h1.25M185.8 72.1h1.25M175.1 69.2h1.25M150.6 70.0h1.25M180.7 73.3h1.25M171.4 70.4h1.25M179.0 74.0h1.25M161.8 68.6h1.25M187.0 72.7h1.25M175.2 74.4h1.25M192.6 72.9h1.25M178.1 74.0h1.25M175.1 72.3h1.25M174.2 72.5h1.25M191.7 70.0h1.25M182.8 74.3h1.25M192.2 73.4h1.25M190.0 72.0h1.25M185.3 73.2h1.25M189.8 70.4h1.25M188.8 73.4h1.25M187.6 74.4h1.25M188.6 71.4h1.25M187.2 72.1h1.25M191.9 71.7h1.25M192.9 72.8h1.25M193.4 70.7h1.25M190.1 74.6h1.25M191.7 74.3h1.25M184.2 74.6h1.25M192.8 69.5h1.25M193.0 70.8h1.25M188.4 72.1h1.25M190.4 74.9h1.25M188.7 72.1h1.25M191.2 71.7h1.25M184.1 72.5h1.25M185.2 75.1h1.25M192.2 73.7h1.25M191.1 70.8h1.25M191.9 75.4h1.25M182.7 71.4h1.25M187.6 69.6h1.25M183.1 72.7h1.25M192.5 71.6h1.25M186.5 71.5h1.25M193.3 73.4h1.25M189.9 73.5h1.25M190.8 69.9h1.25M193.3 71.0h1.25M192.6 71.9h1.25M190.0 72.4h1.25M192.7 72.9h1.25M181.4 70.5h1.25M126.9 99.6h1.25M132.2 96.2h1.25M144.3 91.2h1.25M139.7 92.0h1.25M141.2 96.6h1.25M144.6 86.5h1.25M159.7 86.0h1.25M138.7 91.6h1.25M137.9 91.6h1.25M147.0 88.6h1.25M143.8 92.0h1.25M140.5 90.1h1.25M137.1 100.4h1.25M130.1 101.6h1.25M137.9 90.3h1.25M142.4 91.6h1.25M138.2 94.2h1.25M129.0 83.0h1.25M149.2 91.6h1.25M145.2 97.5h1.25M128.6 98.8h1.25M141.5 93.7h1.25M127.3 87.8h1.25M129.0 91.7h1.25M130.8 94.5h1.25M146.1 93.4h1.25M139.0 88.7h1.25M139.0 93.6h1.25M133.6 94.3h1.25M140.7 98.0h1.25M130.3 93.3h1.25M135.0 90.2h1.25M144.6 93.7h1.25M134.1 88.3h1.25M142.4 94.8h1.25M148.7 88.3h1.25M139.9 92.9h1.25M145.0 86.8h1.25M136.9 90.8h1.25M137.0 93.5h1.25M136.9 86.9h1.25M134.9 87.9h1.25M152.4 96.7h1.25M140.1 96.0h1.25M148.5 95.2h1.25M135.8 94.6h1.25M140.1 96.0h1.25M134.8 92.8h1.25M145.9 94.7h1.25M142.6 97.7h1.25M141.0 88.5h1.25M142.1 87.4h1.25M134.9 92.0h1.25M135.6 86.6h1.25M150.2 93.7h1.25M143.8 94.2h1.25M128.4 88.4h1.25M136.4 88.0h1.25M135.3 103.2h1.25M142.1 91.8h1.25M145.8 87.3h1.25M147.0 87.0h1.25M130.6 96.1h1.25M145.5 92.8h1.25M145.3 91.7h1.25M142.1 83.6h1.25M149.4 90.6h1.25M134.2 90.7h1.25M132.0 92.2h1.25M128.8 91.4h1.25M137.3 96.7h1.25M129.1 94.8h1.25M132.9 91.1h1.25M135.0 84.8h1.25M138.9 101.4h1.25M134.4 94.3h1.25M135.2 84.3h1.25M138.2 88.9h1.25M134.7 94.6h1.25M139.1 85.0h1.25M140.1 99.1h1.25M134.0 86.5h1.25M138.4 93.3h1.25M157.6 94.0h1.25M129.4 82.2h1.25M139.7 95.6h1.25M142.2 85.2h1.25M134.7 94.2h1.25M135.0 83.1h1.25M144.2 88.5h1.25M130.8 102.3h1.25M142.1 94.7h1.25M142.8 88.8h1.25M144.9 89.0h1.25M139.8 87.8h1.25M145.4 89.2h1.25M134.0 90.0h1.25M133.1 94.4h1.25M130.0 96.9h1.25M134.3 86.5h1.25M149.9 92.6h1.25M137.4 94.5h1.25M143.4 90.1h1.25M132.9 90.1h1.25M133.9 97.2h1.25M135.0 91.7h1.25M135.8 95.8h1.25M141.8 90.6h1.25M139.7 100.1h1.25M132.5 89.7h1.25M142.7 84.5h1.25M140.2 87.1h1.25M145.7 93.2h1.25M129.6 86.6h1.25M131.7 90.6h1.25M143.4 93.8h1.25M133.7 92.5h1.25M141.5 92.8h1.25M130.6 93.9h1.25M136.1 87.0h1.25M143.1 96.2h1.25M128.4 97.8h1.25M143.8 89.1h1.25M131.5 88.2h1.25M154.9 97.1h1.25M147.0 95.8h1.25M135.6 95.1h1.25M134.7 95.5h1.25M133.9 95.1h1.25M133.0 86.5h1.25M134.2 93.5h1.25M138.6 90.8h1.25M149.8 90.2h1.25M130.3 91.9h1.25M143.8 97.2h1.25M138.2 97.8h1.25M135.3 90.1h1.25M135.1 96.7h1.25M128.4 92.4h1.25M134.7 97.7h1.25M129.1 86.9h1.25M140.2 96.3h1.25M127.3 88.9h1.25M136.7 90.2h1.25M155.9 93.8h1.25M138.0 88.5h1.25M145.0 98.9h1.25M154.5 92.7h1.25M144.3 86.2h1.25M142.1 89.6h1.25M137.9 92.6h1.25M141.4 92.5h1.25M142.0 93.5h1.25M135.7 101.1h1.25M154.3 82.5h1.25M140.5 88.5h1.25M143.3 85.5h1.25M153.1 97.0h1.25M127.4 86.4h1.25M136.2 87.3h1.25M134.0 92.6h1.25M136.4 98.6h1.25M138.9 98.3h1.25M139.6 94.7h1.25M132.7 95.5h1.25M151.2 93.0h1.25M143.8 89.0h1.25M131.8 97.4h1.25M131.2 94.7h1.25M146.2 89.5h1.25M139.9 89.1h1.25M130.5 97.9h1.25M137.0 97.7h1.25M131.7 95.7h1.25M138.3 91.9h1.25M138.4 99.7h1.25M130.3 88.3h1.25M139.8 88.4h1.25M141.3 85.6h1.25M128.4 94.2h1.25M140.1 93.6h1.25M134.5 91.7h1.25M143.7 88.7h1.25M142.8 96.8h1.25M129.6 92.6h1.25M143.3 90.6h1.25M139.8 86.4h1.25M141.4 99.0h1.25M138.0 88.8h1.25M134.5 88.6h1.25M148.7 94.2h1.25M144.2 96.2h1.25M150.3 96.6h1.25M144.2 92.8h1.25M138.7 93.6h1.25M138.8 95.3h1.25M129.6 97.1h1.25M142.8 93.8h1.25M137.1 93.6h1.25M143.5 78.2h1.25M151.1 93.4h1.25M145.6 90.0h1.25M155.1 96.3h1.25M131.3 93.4h1.25M142.9 87.6h1.25M133.7 87.2h1.25M133.8 90.4h1.25M140.8 90.5h1.25M154.0 83.9h1.25M131.4 87.5h1.25M134.9 92.2h1.25M136.0 85.2h1.25M131.9 87.0h1.25M146.8 92.4h1.25M133.2 89.6h1.25M135.8 88.8h1.25M135.5 96.8h1.25M147.9 96.3h1.25M140.3 91.4h1.25M135.6 93.7h1.25M131.0 91.8h1.25M132.5 91.3h1.25M132.8 94.8h1.25M145.3 91.1h1.25M142.5 88.2h1.25M138.1 93.8h1.25M126.9 94.4h1.25M144.0 96.0h1.25M153.6 88.4h1.25M131.6 90.2h1.25M128.7 88.4h1.25M142.0 90.9h1.25M138.5 91.0h1.25M144.7 95.2h1.25M141.9 94.2h1.25M142.9 93.3h1.25M147.8 97.7h1.25M138.7 94.9h1.25M150.6 93.8h1.25M146.0 90.3h1.25M141.0 90.3h1.25M135.3 86.6h1.25M137.2 96.6h1.25M133.1 93.1h1.25M137.0 95.0h1.25M150.4 95.7h1.25M139.3 93.9h1.25M126.8 91.6h1.25M154.5 90.7h1.25M144.2 90.7h1.25M134.9 90.0h1.25M130.6 85.7h1.25M151.9 95.8h1.25M138.2 97.6h1.25M127.2 93.3h1.25M136.9 90.1h1.25M132.0 86.6h1.25M145.7 101.7h1.25M132.3 93.7h1.25M138.1 85.7h1.25M130.6 89.7h1.25M157.2 88.4h1.25M147.2 91.6h1.25M139.5 98.7h1.25M151.9 88.8h1.25M137.3 99.1h1.25M136.0 95.5h1.25M146.7 85.0h1.25M140.9 93.9h1.25M140.4 95.5h1.25M145.5 97.3h1.25M142.6 88.7h1.25M136.9 94.9h1.25M146.8 92.1h1.25M153.6 92.5h1.25M157.8 91.8h1.25M138.7 92.7h1.25M136.3 86.4h1.25M138.9 95.3h1.25M149.1 97.6h1.25M135.5 84.4h1.25M133.1 91.0h1.25M143.0 97.9h1.25M140.7 86.0h1.25M150.9 88.2h1.25M130.9 100.3h1.25M144.2 94.1h1.25M148.6 89.3h1.25M150.8 89.0h1.25M126.5 93.5h1.25M146.8 95.5h1.25M138.9 98.2h1.25M141.6 93.4h1.25M129.5 100.7h1.25M148.0 101.7h1.25M146.1 93.9h1.25M131.1 92.3h1.25M134.0 90.2h1.25M131.3 92.0h1.25M132.2 91.7h1.25M143.8 91.7h1.25M142.1 91.9h1.25M152.7 90.1h1.25M137.7 91.5h1.25M138.0 97.6h1.25M131.8 90.7h1.25M135.9 92.9h1.25M141.9 86.4h1.25M138.9 90.5h1.25M135.7 88.9h1.25M146.1 83.9h1.25M132.3 89.9h1.25M139.5 86.0h1.25M147.1 89.0h1.25M147.0 92.6h1.25M135.9 80.9h1.25M128.2 92.6h1.25M133.7 82.0h1.25M132.2 99.6h1.25M139.2 90.8h1.25M140.5 88.9h1.25M140.5 98.3h1.25M133.5 89.5h1.25M151.3 89.7h1.25M138.9 96.9h1.25M131.1 98.0h1.25M144.7 92.2h1.25M142.9 90.8h1.25M131.2 95.0h1.25M144.9 93.3h1.25M143.0 94.5h1.25M135.4 90.8h1.25M134.6 91.7h1.25M141.0 89.1h1.25M140.8 89.0h1.25M148.2 86.0h1.25M140.1 84.6h1.25M149.5 81.2h1.25M147.3 83.6h1.25M134.2 86.0h1.25M133.3 90.4h1.25M134.9 91.2h1.25M143.1 89.8h1.25M137.0 89.9h1.25M139.4 88.2h1.25M136.2 98.9h1.25M140.5 89.5h1.25M129.8 98.8h1.25M150.0 94.9h1.25M137.2 90.3h1.25M130.9 84.5h1.25M137.0 92.1h1.25M139.4 99.2h1.25M140.8 86.7h1.25M143.9 94.8h1.25M136.3 98.5h1.25M136.0 94.8h1.25M133.2 88.1h1.25M154.4 87.1h1.25M138.6 93.8h1.25M139.3 89.4h1.25M147.4 91.5h1.25M147.2 84.3h1.25M146.4 96.0h1.25M148.5 88.9h1.25M132.6 91.5h1.25M146.4 89.7h1.25M149.6 99.1h1.25M144.2 88.7h1.25M153.1 93.1h1.25M128.9 97.4h1.25M138.9 87.1h1.25M143.2 98.9h1.25M156.3 98.0h1.25M133.3 94.9h1.25M152.7 85.4h1.25M136.4 93.3h1.25M128.9 91.1h1.25M146.5 91.3h1.25M134.8 93.1h1.25M130.9 89.0h1.25M138.8 95.5h1.25M139.4 93.1h1.25M131.4 97.8h1.25M139.9 99.1h1.25M129.8 90.6h1.25M149.0 94.3h1.25M137.9 93.3h1.25M135.8 89.3h1.25M136.8 91.9h1.25M134.5 89.4h1.25M139.3 94.5h1.25M142.1 87.6h1.25M130.9 98.0h1.25M134.5 88.3h1.25M146.1 102.4h1.25M128.3 90.6h1.25M136.0 94.4h1.25M146.9 92.2h1.25M141.2 85.2h1.25M155.5 101.8h1.25M151.5 89.4h1.25M133.6 89.9h1.25M127.9 104.1h1.25M155.5 93.1h1.25M137.7 99.5h1.25M158.8 102.5h1.25M153.9 88.2h1.25M154.5 90.5h1.25M162.7 94.0h1.25M154.9 86.9h1.25M151.4 86.6h1.25M137.6 92.5h1.25M156.7 98.1h1.25M162.5 96.6h1.25M146.8 92.6h1.25M168.2 99.6h1.25M160.9 96.2h1.25M150.2 104.3h1.25M149.2 102.1h1.25M144.8 92.6h1.25M155.3 93.8h1.25M149.9 97.0h1.25M155.5 93.3h1.25M152.7 94.8h1.25M152.2 97.4h1.25M149.3 95.9h1.25M153.4 100.6h1.25M148.4 99.7h1.25M151.6 89.5h1.25M157.3 87.8h1.25M150.3 96.4h1.25M149.1 92.6h1.25M155.8 93.1h1.25M154.5 100.2h1.25M145.1 98.7h1.25M159.3 100.6h1.25M161.1 93.6h1.25M162.7 95.0h1.25M162.1 98.9h1.25M154.9 91.8h1.25M157.4 92.0h1.25M154.6 88.4h1.25M147.0 98.3h1.25M136.0 104.8h1.25M158.0 100.0h1.25M170.6 100.5h1.25M153.3 87.2h1.25M158.8 93.4h1.25M151.6 89.7h1.25M136.4 98.4h1.25M164.2 92.0h1.25M131.8 95.6h1.25M150.8 93.7h1.25M174.3 98.7h1.25M141.4 76.6h1.25M135.5 60.4h1.25M146.9 71.6h1.25M140.5 68.4h1.25M144.4 73.2h1.25M158.6 109.9h1.25M138.8 85.1h1.25M130.6 63.2h1.25M134.4 80.2h1.25M157.0 97.7h1.25M137.0 74.2h1.25M144.8 68.5h1.25M138.1 92.4h1.25M146.3 79.2h1.25M144.8 87.5h1.25M147.5 70.9h1.25M132.1 58.1h1.25M132.2 97.9h1.25M141.9 88.4h1.25M146.7 44.2h1.25M138.6 84.0h1.25M137.0 59.2h1.25M128.7 62.8h1.25M144.6 87.9h1.25M129.2 86.7h1.25M141.7 77.0h1.25M135.6 65.2h1.25M129.4 71.2h1.25M157.6 80.5h1.25M134.9 92.2h1.25M157.1 87.8h1.25M137.8 88.0h1.25M140.6 64.0h1.25M139.2 101.1h1.25M140.5 73.0h1.25M153.2 76.1h1.25M139.5 81.6h1.25M153.9 87.9h1.25M134.0 74.0h1.25M130.7 82.7h1.25M136.7 71.4h1.25M130.2 92.2h1.25M135.7 66.6h1.25M145.9 74.5h1.25M145.3 86.6h1.25M131.5 68.9h1.25M146.5 89.7h1.25M132.6 94.9h1.25M129.7 77.0h1.25M134.6 100.4h1.25M136.6 91.9h1.25M140.7 85.3h1.25M139.4 89.4h1.25M138.0 64.8h1.25M149.5 75.8h1.25M131.5 85.0h1.25M144.5 69.9h1.25M141.4 88.6h1.25M136.7 77.8h1.25M133.9 80.0h1.25M141.8 101.5h1.25M133.9 86.7h1.25M135.6 89.8h1.25M141.1 58.5h1.25M134.6 72.7h1.25M141.3 86.6h1.25M143.2 62.5h1.25M135.7 81.4h1.25M136.6 103.2h1.25M132.0 68.0h1.25M136.0 83.7h1.25M146.9 44.1h1.25M134.0 68.4h1.25M162.1 97.5h1.25M130.3 70.2h1.25M144.6 93.7h1.25M131.1 77.5h1.25M142.1 83.2h1.25M134.3 50.7h1.25M155.6 84.4h1.25" stroke="#000" stroke-width="1.25" fill="none"/>
<rect x="120.70" y="83.30" width="62.00" height="24.40" fill="none" stroke="#000" stroke-width="1.3"/>
<rect x="249.00" y="37.40" width="99.40" height="75.20" fill="none" stroke="#000" stroke-width="1.45"/>
<path d="M249.00 112.60L249.00 116.90M252.89 112.60L252.89 115.20M256.77 112.60L256.77 115.20M260.66 112.60L260.66 115.20M264.55 112.60L264.55 115.20M268.43 112.60L268.43 116.90M272.32 112.60L272.32 115.20M276.21 112.60L276.21 115.20M280.09 112.60L280.09 115.20M283.98 112.60L283.98 115.20M287.87 112.60L287.87 116.90M291.75 112.60L291.75 115.20M295.64 112.60L295.64 115.20M299.53 112.60L299.53 115.20M303.41 112.60L303.41 115.20M307.30 112.60L307.30 116.90M311.19 112.60L311.19 115.20M315.07 112.60L315.07 115.20M318.96 112.60L318.96 115.20M322.85 112.60L322.85 115.20M326.73 112.60L326.73 116.90M330.62 112.60L330.62 115.20M334.51 112.60L334.51 115.20M338.39 112.60L338.39 115.20M342.28 112.60L342.28 115.20M346.17 112.60L346.17 116.90M244.40 112.60L249.00 112.60M246.40 106.94L249.00 106.94M246.40 103.63L249.00 103.63M246.40 101.28L249.00 101.28M246.40 99.46L249.00 99.46M246.40 97.97L249.00 97.97M246.40 96.71L249.00 96.71M246.40 95.62L249.00 95.62M246.40 94.66L249.00 94.66M244.40 93.80L249.00 93.80M246.40 88.14L249.00 88.14M246.40 84.83L249.00 84.83M246.40 82.48L249.00 82.48M246.40 80.66L249.00 80.66M246.40 79.17L249.00 79.17M246.40 77.91L249.00 77.91M246.40 76.82L249.00 76.82M246.40 75.86L249.00 75.86M244.40 75.00L249.00 75.00M246.40 69.34L249.00 69.34M246.40 66.03L249.00 66.03M246.40 63.68L249.00 63.68M246.40 61.86L249.00 61.86M246.40 60.37L249.00 60.37M246.40 59.11L249.00 59.11M246.40 58.02L249.00 58.02M246.40 57.06L249.00 57.06M244.40 56.20L249.00 56.20M246.40 50.54L249.00 50.54M246.40 47.23L249.00 47.23M246.40 44.88L249.00 44.88M246.40 43.06L249.00 43.06M246.40 41.57L249.00 41.57M246.40 40.31L249.00 40.31M246.40 39.22L249.00 39.22M246.40 38.26L249.00 38.26M244.40 37.40L249.00 37.40" stroke="#000" stroke-width="1.15" fill="none"/>
<text x="242.20" y="118.50" font-size="10.2" font-weight="bold" text-anchor="start" fill="#000" textLength="7.80" lengthAdjust="spacingAndGlyphs" transform="rotate(-90 242.20 118.50)"  stroke="#000" stroke-width="0.2">10</text>
<text x="236.70" y="109.70" font-size="9.4" font-weight="bold" text-anchor="start" fill="#000" textLength="4.60" lengthAdjust="spacingAndGlyphs" transform="rotate(-90 236.70 109.70)"  stroke="#000" stroke-width="0.2">0</text>
<text x="242.20" y="99.70" font-size="10.2" font-weight="bold" text-anchor="start" fill="#000" textLength="7.80" lengthAdjust="spacingAndGlyphs" transform="rotate(-90 242.20 99.70)"  stroke="#000" stroke-width="0.2">10</text>
<text x="236.70" y="90.90" font-size="9.4" font-weight="bold" text-anchor="start" fill="#000" textLength="4.60" lengthAdjust="spacingAndGlyphs" transform="rotate(-90 236.70 90.90)"  stroke="#000" stroke-width="0.2">1</text>
<text x="242.20" y="80.90" font-size="10.2" font-weight="bold" text-anchor="start" fill="#000" textLength="7.80" lengthAdjust="spacingAndGlyphs" transform="rotate(-90 242.20 80.90)"  stroke="#000" stroke-width="0.2">10</text>
<text x="236.70" y="72.10" font-size="9.4" font-weight="bold" text-anchor="start" fill="#000" textLength="4.60" lengthAdjust="spacingAndGlyphs" transform="rotate(-90 236.70 72.10)"  stroke="#000" stroke-width="0.2">2</text>
<text x="242.20" y="62.10" font-size="10.2" font-weight="bold" text-anchor="start" fill="#000" textLength="7.80" lengthAdjust="spacingAndGlyphs" transform="rotate(-90 242.20 62.10)"  stroke="#000" stroke-width="0.2">10</text>
<text x="236.70" y="53.30" font-size="9.4" font-weight="bold" text-anchor="start" fill="#000" textLength="4.60" lengthAdjust="spacingAndGlyphs" transform="rotate(-90 236.70 53.30)"  stroke="#000" stroke-width="0.2">3</text>
<text x="242.20" y="43.30" font-size="10.2" font-weight="bold" text-anchor="start" fill="#000" textLength="7.80" lengthAdjust="spacingAndGlyphs" transform="rotate(-90 242.20 43.30)"  stroke="#000" stroke-width="0.2">10</text>
<text x="236.70" y="34.50" font-size="9.4" font-weight="bold" text-anchor="start" fill="#000" textLength="4.60" lengthAdjust="spacingAndGlyphs" transform="rotate(-90 236.70 34.50)"  stroke="#000" stroke-width="0.2">4</text>
<text x="229.70" y="76.00" font-size="9.6" font-weight="bold" text-anchor="middle" fill="#000" textLength="66.00" lengthAdjust="spacingAndGlyphs" transform="rotate(-90 229.70 76.00)"  stroke="#000" stroke-width="0.3">Propidium Iodide</text>
<text x="250.50" y="124.90" font-size="9" font-weight="bold" text-anchor="middle" fill="#000"  stroke="#000" stroke-width="0.3">0</text>
<text x="346.37" y="124.90" font-size="9" font-weight="bold" text-anchor="middle" fill="#000" textLength="18.30" lengthAdjust="spacingAndGlyphs"  stroke="#000" stroke-width="0.3">1000</text>
<text x="297.40" y="135.50" font-size="9.0" font-weight="bold" text-anchor="middle" fill="#000" textLength="63.30" lengthAdjust="spacingAndGlyphs"  stroke="#000" stroke-width="0.3">Forward Scatter</text>
<path d="M295.3 60.0h1.25M298.8 55.8h1.25M307.2 51.7h1.25M290.4 53.4h1.25M306.3 60.4h1.25M301.9 58.6h1.25M304.9 58.9h1.25M287.6 58.6h1.25M305.7 57.9h1.25M313.2 48.9h1.25M279.7 59.9h1.25M303.6 58.5h1.25M304.2 54.4h1.25M293.0 58.3h1.25M303.0 50.8h1.25M295.3 60.0h1.25M294.1 55.3h1.25M309.0 61.1h1.25M301.3 54.2h1.25M280.4 60.6h1.25M287.9 63.9h1.25M309.1 51.1h1.25M292.2 61.0h1.25M300.5 54.4h1.25M306.8 64.6h1.25M302.4 52.9h1.25M287.2 58.9h1.25M317.6 58.2h1.25M307.8 59.9h1.25M303.3 51.7h1.25M299.1 57.7h1.25M298.8 55.6h1.25M298.5 55.6h1.25M311.8 51.7h1.25M289.3 59.8h1.25M300.9 52.0h1.25M296.3 54.0h1.25M283.4 66.0h1.25M284.8 61.6h1.25M310.9 51.9h1.25M301.2 55.5h1.25M293.3 52.3h1.25M312.9 54.7h1.25M300.7 58.2h1.25M294.1 60.9h1.25M317.9 57.6h1.25M287.1 58.5h1.25M289.9 57.3h1.25M313.9 53.2h1.25M302.5 57.7h1.25M305.4 58.9h1.25M311.1 47.6h1.25M298.1 58.5h1.25M309.7 57.0h1.25M291.5 55.0h1.25M292.4 64.2h1.25M295.0 54.4h1.25M297.0 58.9h1.25M292.7 57.3h1.25M312.6 50.2h1.25M291.2 59.2h1.25M295.3 48.2h1.25M307.5 56.1h1.25M293.5 57.6h1.25M285.6 66.6h1.25M295.4 60.3h1.25M281.1 57.5h1.25M281.2 59.4h1.25M302.2 56.3h1.25M310.7 55.3h1.25M297.6 58.6h1.25M296.5 62.5h1.25M303.5 54.8h1.25M308.5 56.2h1.25M297.4 61.2h1.25M299.1 63.0h1.25M317.2 58.5h1.25M294.5 55.4h1.25M330.0 57.4h1.25M309.3 53.7h1.25M287.9 53.8h1.25M299.2 56.9h1.25M292.4 57.9h1.25M291.4 59.8h1.25M288.3 57.6h1.25M311.6 58.2h1.25M297.0 64.3h1.25M302.5 55.4h1.25M298.1 53.0h1.25M308.8 56.1h1.25M312.1 57.5h1.25M299.6 61.1h1.25M293.6 61.3h1.25M303.3 59.8h1.25M289.3 65.0h1.25M309.5 58.5h1.25M302.0 56.2h1.25M292.8 55.8h1.25M284.2 56.6h1.25M281.9 61.7h1.25M291.7 60.0h1.25M288.9 58.4h1.25M285.9 55.8h1.25M283.1 48.2h1.25M308.1 54.4h1.25M302.4 55.1h1.25M301.5 56.9h1.25M280.5 61.9h1.25M311.8 52.9h1.25M300.3 57.7h1.25M310.3 56.1h1.25M303.8 63.2h1.25M307.2 55.2h1.25M289.8 58.6h1.25M305.6 56.4h1.25M306.8 53.3h1.25M293.3 63.2h1.25M311.8 59.0h1.25M286.8 59.3h1.25M321.2 52.9h1.25M296.2 52.7h1.25M317.0 55.6h1.25M291.5 56.8h1.25M309.0 53.6h1.25M292.4 61.5h1.25M320.1 52.5h1.25M308.6 55.8h1.25M294.8 52.1h1.25M299.1 55.8h1.25M314.5 58.3h1.25M290.0 59.0h1.25M304.4 58.6h1.25M308.5 55.4h1.25M302.1 52.6h1.25M301.4 49.2h1.25M312.9 57.8h1.25M293.3 61.5h1.25M308.1 57.2h1.25M310.0 55.4h1.25M279.9 60.4h1.25M282.8 63.6h1.25M304.6 54.5h1.25M296.6 53.5h1.25M293.8 58.0h1.25M295.7 59.8h1.25M294.2 52.9h1.25M302.3 62.3h1.25M292.2 57.1h1.25M291.1 60.7h1.25M307.5 52.2h1.25M301.5 59.5h1.25M306.0 57.3h1.25M288.6 56.0h1.25M297.4 57.9h1.25M299.1 55.8h1.25M300.3 62.3h1.25M309.8 56.0h1.25M297.1 61.3h1.25M305.8 56.3h1.25M292.8 62.0h1.25M296.7 58.6h1.25M296.8 53.9h1.25M300.0 64.8h1.25M303.1 63.0h1.25M306.6 59.0h1.25M304.5 58.6h1.25M290.8 54.7h1.25M294.8 59.3h1.25M308.7 49.7h1.25M313.6 57.5h1.25M293.7 60.5h1.25M306.0 50.2h1.25M305.2 55.3h1.25M294.1 56.2h1.25M312.8 58.6h1.25M303.2 58.9h1.25M289.3 56.1h1.25M297.8 55.4h1.25M301.5 59.4h1.25M306.3 57.7h1.25M295.2 57.0h1.25M286.9 57.5h1.25M308.9 58.2h1.25M313.5 57.7h1.25M286.8 57.6h1.25M307.6 54.7h1.25M299.3 53.2h1.25M280.5 54.3h1.25M298.1 55.3h1.25M290.6 60.1h1.25M300.7 62.6h1.25M282.9 63.0h1.25M336.4 49.6h1.25M296.3 63.2h1.25M308.3 54.4h1.25M309.4 56.2h1.25M295.9 59.7h1.25M303.5 57.6h1.25M290.5 62.5h1.25M293.4 59.8h1.25M292.2 61.3h1.25M279.0 61.6h1.25M302.5 58.6h1.25M289.3 61.4h1.25M284.9 61.9h1.25M288.8 55.8h1.25M296.2 58.9h1.25M284.1 59.4h1.25M297.4 54.5h1.25M292.7 66.4h1.25M294.1 65.8h1.25M296.1 62.1h1.25M303.1 58.4h1.25M307.3 57.6h1.25M293.3 52.6h1.25M305.3 54.3h1.25M297.4 59.9h1.25M303.7 57.3h1.25M278.9 58.2h1.25M286.0 60.5h1.25M295.7 66.1h1.25M283.3 60.3h1.25M311.2 53.9h1.25M302.0 55.5h1.25M305.9 59.4h1.25M286.2 61.0h1.25M295.1 54.0h1.25M310.1 48.3h1.25M301.6 56.9h1.25M290.0 60.1h1.25M302.4 55.8h1.25M319.2 52.2h1.25M306.8 58.4h1.25M299.2 55.3h1.25M299.3 57.4h1.25M312.1 58.3h1.25M304.3 55.4h1.25M298.1 58.8h1.25M306.9 57.6h1.25M287.5 64.1h1.25M284.7 59.8h1.25M287.7 57.9h1.25M305.5 51.6h1.25M300.4 58.0h1.25M301.2 55.8h1.25M298.6 53.7h1.25M293.4 57.6h1.25M307.6 59.4h1.25M298.6 57.2h1.25M305.7 55.8h1.25M301.1 55.9h1.25M308.4 53.0h1.25M312.0 55.3h1.25M299.3 53.3h1.25M300.3 62.3h1.25M303.9 58.3h1.25M288.2 58.6h1.25M290.9 57.8h1.25M303.9 54.0h1.25M303.5 60.9h1.25M281.3 61.8h1.25M288.6 59.4h1.25M302.7 53.3h1.25M295.7 60.8h1.25M290.4 58.7h1.25M287.8 59.7h1.25M309.4 49.1h1.25M297.7 59.1h1.25M318.1 55.0h1.25M291.8 62.1h1.25M303.0 59.6h1.25M291.8 54.7h1.25M299.3 60.1h1.25M288.9 55.9h1.25M289.2 59.1h1.25M308.9 54.1h1.25M293.4 60.5h1.25M285.8 59.8h1.25M298.0 56.2h1.25M293.4 54.1h1.25M294.8 58.3h1.25M305.0 52.3h1.25M313.8 60.1h1.25M306.1 60.9h1.25M307.7 52.1h1.25M307.7 57.9h1.25M294.5 60.0h1.25M297.3 57.5h1.25M301.2 56.0h1.25M301.6 59.9h1.25M294.5 58.6h1.25M283.9 54.4h1.25M316.5 57.4h1.25M308.9 54.1h1.25M295.8 56.1h1.25M290.5 63.7h1.25M289.5 60.0h1.25M296.0 55.7h1.25M282.4 61.2h1.25M293.9 67.8h1.25M298.9 54.6h1.25M313.3 56.5h1.25M282.2 61.3h1.25M304.3 61.5h1.25M290.1 65.6h1.25M281.2 60.5h1.25M287.7 62.6h1.25M295.9 58.9h1.25M310.5 52.6h1.25M302.9 54.5h1.25M289.3 55.5h1.25M295.5 64.8h1.25M298.6 50.9h1.25M289.3 61.2h1.25M309.0 51.9h1.25M287.7 63.9h1.25M289.6 59.4h1.25M293.1 55.9h1.25M320.4 48.1h1.25M292.8 58.6h1.25M308.7 57.6h1.25M298.5 54.3h1.25M300.8 56.7h1.25M300.1 56.3h1.25M291.3 56.2h1.25M287.7 57.0h1.25M305.1 54.5h1.25M300.4 52.3h1.25M301.4 57.7h1.25M289.9 62.3h1.25M302.7 61.5h1.25M281.7 58.7h1.25M299.4 48.3h1.25M304.1 48.4h1.25M286.9 56.1h1.25M292.8 61.4h1.25M299.4 54.6h1.25M301.2 57.6h1.25M320.4 57.5h1.25M281.9 65.2h1.25M290.0 56.5h1.25M305.8 55.5h1.25M291.9 59.1h1.25M320.6 56.4h1.25M300.1 56.6h1.25M302.6 59.0h1.25M298.1 54.0h1.25M287.3 62.2h1.25M304.2 55.9h1.25M288.4 58.6h1.25M313.0 56.2h1.25M305.6 55.0h1.25M292.3 62.8h1.25M292.4 55.6h1.25M294.7 62.1h1.25M294.7 53.4h1.25M302.1 57.8h1.25M300.4 59.3h1.25M285.3 66.6h1.25M297.9 60.0h1.25M292.0 54.7h1.25M303.5 51.8h1.25M285.7 56.9h1.25M306.1 58.0h1.25M287.2 63.4h1.25M300.8 50.3h1.25M288.9 62.5h1.25M299.0 59.3h1.25M315.4 48.4h1.25M303.1 57.0h1.25M307.9 52.4h1.25M287.5 61.2h1.25M289.6 58.5h1.25M307.1 52.7h1.25M293.9 62.9h1.25M301.2 55.0h1.25M288.9 58.4h1.25M284.9 60.6h1.25M299.6 59.6h1.25M300.1 54.9h1.25M301.9 57.3h1.25M292.5 58.8h1.25M307.4 54.7h1.25M286.7 61.9h1.25M307.9 52.8h1.25M296.2 60.3h1.25M303.2 53.9h1.25M291.0 58.3h1.25M297.1 55.8h1.25M299.9 57.5h1.25M289.4 55.4h1.25M290.8 55.5h1.25M309.4 54.5h1.25M316.9 55.9h1.25M299.9 60.9h1.25M291.2 57.8h1.25M305.1 61.1h1.25M291.5 50.6h1.25M293.4 55.4h1.25M305.8 51.0h1.25M296.0 65.7h1.25M306.7 55.1h1.25M289.0 53.4h1.25M287.6 60.7h1.25M290.3 55.6h1.25M299.4 57.6h1.25M314.2 58.5h1.25M303.2 55.1h1.25M298.0 52.5h1.25M286.7 57.4h1.25M284.6 60.1h1.25M284.0 63.2h1.25M289.1 51.9h1.25M288.2 58.7h1.25M308.6 58.1h1.25M302.1 55.3h1.25M301.9 53.3h1.25M301.4 60.0h1.25M296.0 54.3h1.25M304.7 53.9h1.25M299.7 61.4h1.25M287.7 63.6h1.25M324.5 53.4h1.25M304.2 57.5h1.25M305.2 53.0h1.25M296.0 62.3h1.25M289.8 66.4h1.25M299.2 62.2h1.25M282.6 60.0h1.25M289.1 58.5h1.25M280.5 56.0h1.25M300.4 59.3h1.25M299.1 56.4h1.25M295.3 62.1h1.25M281.5 58.7h1.25M295.2 63.1h1.25M284.9 60.9h1.25M307.5 61.8h1.25M289.8 65.6h1.25M280.3 67.5h1.25M304.4 55.9h1.25M298.1 55.6h1.25M303.1 56.9h1.25M307.9 57.9h1.25M296.8 53.9h1.25M301.2 55.3h1.25M308.4 53.0h1.25M302.1 59.7h1.25M302.5 61.4h1.25M299.2 53.0h1.25M315.0 58.0h1.25M292.4 56.9h1.25M283.7 63.6h1.25M303.3 59.0h1.25M312.4 55.5h1.25M295.6 55.1h1.25M280.4 61.9h1.25M289.6 59.2h1.25M297.3 60.3h1.25M305.6 54.3h1.25M296.9 55.2h1.25M322.0 53.6h1.25M307.3 58.7h1.25M293.5 56.0h1.25M294.7 57.4h1.25M304.4 54.6h1.25M311.5 49.6h1.25M301.8 54.8h1.25M293.1 55.1h1.25M308.8 45.1h1.25M282.3 58.2h1.25M287.7 62.1h1.25M299.4 60.1h1.25M306.9 51.6h1.25M284.0 60.1h1.25M309.0 55.8h1.25M300.9 61.0h1.25M297.1 64.4h1.25M303.3 50.8h1.25M296.6 66.1h1.25M295.5 56.7h1.25M297.2 59.5h1.25M297.7 66.6h1.25M303.6 61.8h1.25M293.6 58.3h1.25M300.9 52.7h1.25M294.7 59.9h1.25M296.8 53.5h1.25M298.4 61.6h1.25M308.7 56.8h1.25M301.9 55.8h1.25M300.2 54.4h1.25M312.2 54.8h1.25M305.7 55.9h1.25M293.6 62.0h1.25M285.1 54.3h1.25M310.9 65.0h1.25M282.6 57.1h1.25M295.9 57.0h1.25M296.0 62.9h1.25M285.1 61.4h1.25M304.3 54.7h1.25M299.7 59.0h1.25M302.4 56.0h1.25M315.0 50.6h1.25M306.6 56.0h1.25M297.7 61.9h1.25M297.4 61.8h1.25M300.7 58.7h1.25M302.2 57.9h1.25M304.3 49.7h1.25M304.5 50.2h1.25M291.7 65.1h1.25M322.7 55.6h1.25M312.8 51.9h1.25M310.2 58.2h1.25M289.8 54.8h1.25M290.5 59.5h1.25M286.7 56.0h1.25M318.0 56.7h1.25M283.7 60.0h1.25M298.1 53.4h1.25M290.4 58.9h1.25M300.9 61.2h1.25M287.4 57.9h1.25M289.5 52.7h1.25M301.0 52.0h1.25M297.2 60.9h1.25M288.9 59.6h1.25M296.7 54.6h1.25M303.2 55.8h1.25M307.5 55.1h1.25M300.7 54.3h1.25M301.5 53.7h1.25M281.2 62.2h1.25M313.2 51.9h1.25M296.8 58.3h1.25M294.2 60.3h1.25M308.0 59.6h1.25M298.0 63.1h1.25M317.5 55.0h1.25M304.0 54.6h1.25M295.7 56.3h1.25M290.1 55.6h1.25M295.4 61.8h1.25M306.3 59.9h1.25M314.8 53.5h1.25M297.6 55.6h1.25M310.6 56.4h1.25M300.1 59.3h1.25M299.8 54.6h1.25M300.8 58.8h1.25M299.3 56.0h1.25M279.6 59.5h1.25M302.3 57.3h1.25M279.9 60.9h1.25M296.4 60.4h1.25M295.9 56.2h1.25M309.1 56.6h1.25M299.2 52.0h1.25M298.7 58.6h1.25M297.2 57.4h1.25M305.6 54.3h1.25M283.7 54.0h1.25M279.8 60.6h1.25M310.6 56.2h1.25M292.3 61.8h1.25M291.1 64.4h1.25M280.4 60.5h1.25M292.8 60.1h1.25M285.9 56.8h1.25M308.0 58.8h1.25M309.6 52.2h1.25M281.8 58.3h1.25M311.5 55.1h1.25M299.4 58.9h1.25M295.4 53.1h1.25M279.8 61.7h1.25M301.5 56.3h1.25M312.3 55.4h1.25M307.5 57.6h1.25M300.5 56.2h1.25M299.1 55.8h1.25M306.6 54.9h1.25M302.2 58.9h1.25M291.1 51.1h1.25M308.3 54.7h1.25M308.6 55.7h1.25M310.6 60.1h1.25M293.7 62.6h1.25M302.7 57.2h1.25M293.9 59.4h1.25M299.4 58.7h1.25M315.3 53.0h1.25M288.1 58.8h1.25M293.9 53.9h1.25M285.8 61.7h1.25M293.5 58.0h1.25M308.2 55.5h1.25M298.1 51.3h1.25M279.6 69.3h1.25M284.7 64.5h1.25M287.5 68.3h1.25M295.5 66.1h1.25M297.0 62.0h1.25M291.8 57.0h1.25M286.2 64.2h1.25M280.2 59.4h1.25M290.6 67.4h1.25M284.2 62.7h1.25M289.1 64.4h1.25M292.6 63.5h1.25M280.5 67.2h1.25M289.0 66.5h1.25M289.2 62.8h1.25M284.1 60.8h1.25M281.4 63.6h1.25M292.2 66.5h1.25M279.9 67.4h1.25M290.1 64.8h1.25M291.3 63.7h1.25M288.2 71.7h1.25M286.2 56.0h1.25M283.2 60.3h1.25M283.6 65.4h1.25M290.2 64.5h1.25M283.8 65.6h1.25M285.9 67.8h1.25M286.1 64.7h1.25M280.3 62.7h1.25M290.0 65.3h1.25M290.5 59.0h1.25M288.0 66.9h1.25M279.9 65.2h1.25M290.0 63.3h1.25M292.0 69.1h1.25M290.4 72.1h1.25M287.4 69.3h1.25M287.9 67.4h1.25M279.4 72.9h1.25M285.7 68.4h1.25M291.4 68.6h1.25M294.3 63.8h1.25M281.9 65.3h1.25M285.7 71.5h1.25M288.2 67.4h1.25M292.9 62.0h1.25M298.8 62.3h1.25M285.3 67.6h1.25M280.4 62.3h1.25M281.1 64.4h1.25M286.9 64.6h1.25M290.7 70.1h1.25M289.3 60.0h1.25M286.9 61.6h1.25M287.0 64.3h1.25M292.1 62.6h1.25M285.7 66.6h1.25M282.9 65.6h1.25M285.0 68.1h1.25M280.3 66.7h1.25M279.9 70.4h1.25M283.0 71.0h1.25M293.0 65.3h1.25M281.7 71.1h1.25M292.4 71.8h1.25M284.6 68.9h1.25M281.3 64.4h1.25M280.0 60.3h1.25M286.0 65.6h1.25M281.8 64.6h1.25M286.7 65.0h1.25M286.8 64.0h1.25M287.5 64.0h1.25M280.6 73.2h1.25M293.6 63.6h1.25M281.6 69.6h1.25M279.8 69.1h1.25M281.2 68.6h1.25M287.5 62.3h1.25M279.7 68.6h1.25M291.2 64.4h1.25M284.4 65.5h1.25M283.4 64.2h1.25M280.6 62.7h1.25M285.5 68.6h1.25M288.0 69.1h1.25M285.4 59.4h1.25M282.2 61.2h1.25M289.7 63.6h1.25M322.8 57.5h1.25M325.3 47.4h1.25M313.7 51.6h1.25M317.4 46.0h1.25M319.0 61.1h1.25M318.5 56.8h1.25M342.9 47.6h1.25M322.1 54.0h1.25M318.8 57.6h1.25M323.0 51.9h1.25M319.8 53.6h1.25M312.9 56.6h1.25M329.6 50.9h1.25M328.8 55.8h1.25M324.7 50.0h1.25M331.5 47.7h1.25M331.5 53.9h1.25M320.2 44.1h1.25M334.4 51.6h1.25M315.8 48.7h1.25M329.4 41.3h1.25M326.2 65.4h1.25M314.9 52.8h1.25M330.3 51.0h1.25M314.6 54.1h1.25M334.6 50.2h1.25M329.7 43.2h1.25M313.6 50.7h1.25M314.0 50.8h1.25M328.2 51.3h1.25M328.9 51.9h1.25M315.8 45.9h1.25M334.1 55.8h1.25M311.2 52.3h1.25M312.3 51.7h1.25M320.2 44.7h1.25M322.7 47.5h1.25M309.1 57.8h1.25M322.7 47.4h1.25M311.4 53.8h1.25M303.7 48.8h1.25M329.5 48.0h1.25M319.2 44.9h1.25M317.8 52.5h1.25M330.5 46.8h1.25M311.8 51.5h1.25M312.5 51.8h1.25M306.1 43.3h1.25M327.4 58.0h1.25M312.9 48.4h1.25M317.6 57.5h1.25M323.3 46.7h1.25M327.9 51.4h1.25M329.1 48.4h1.25M329.5 43.8h1.25M286.3 78.7h1.25M286.4 73.3h1.25M305.3 71.9h1.25M303.3 73.9h1.25M286.9 72.8h1.25M311.2 75.2h1.25M288.8 73.9h1.25M286.2 73.5h1.25M282.1 72.1h1.25M301.6 74.6h1.25M301.7 75.2h1.25M310.1 73.0h1.25M293.4 73.7h1.25M295.0 69.8h1.25M294.1 78.8h1.25M295.3 71.9h1.25M281.1 77.7h1.25M285.0 75.2h1.25M284.0 76.2h1.25M326.5 75.8h1.25M296.0 77.3h1.25M297.5 75.7h1.25M300.5 75.9h1.25M298.6 74.3h1.25M287.6 76.6h1.25M314.4 75.5h1.25M302.5 72.9h1.25M296.8 72.3h1.25M287.3 76.7h1.25M298.0 73.1h1.25M285.9 72.0h1.25M286.1 76.6h1.25M282.2 72.3h1.25M303.9 75.5h1.25M290.0 77.0h1.25M282.9 80.0h1.25M284.8 71.7h1.25M305.3 79.8h1.25M289.1 76.3h1.25M280.3 79.1h1.25M282.4 76.9h1.25M279.6 72.6h1.25M290.9 76.8h1.25M283.9 69.8h1.25M294.2 82.0h1.25M290.2 77.5h1.25M280.0 69.1h1.25M280.4 73.1h1.25M289.5 76.1h1.25M313.7 73.2h1.25M291.7 72.3h1.25M299.4 73.6h1.25M283.6 70.8h1.25M288.8 78.7h1.25M301.6 79.6h1.25M295.2 76.1h1.25M281.7 74.6h1.25M282.9 77.1h1.25M291.9 75.5h1.25M289.3 79.2h1.25M280.3 75.5h1.25M281.5 73.4h1.25M281.7 76.5h1.25M314.1 74.8h1.25M280.2 76.5h1.25M302.7 69.7h1.25M300.3 75.8h1.25M317.3 76.4h1.25M310.8 73.3h1.25M283.7 77.6h1.25M323.7 75.4h1.25M286.1 80.4h1.25M280.6 74.3h1.25M284.5 78.7h1.25M284.0 74.0h1.25M317.7 78.1h1.25M284.4 78.0h1.25M288.2 79.4h1.25M324.0 75.0h1.25M298.7 74.6h1.25M298.5 71.1h1.25M282.3 76.3h1.25M280.6 76.0h1.25M287.8 80.6h1.25M282.1 75.0h1.25M294.6 79.3h1.25M298.4 72.1h1.25M295.4 70.9h1.25M280.9 80.4h1.25M281.8 73.4h1.25M284.9 77.8h1.25M290.6 74.2h1.25M284.8 79.6h1.25M328.3 73.7h1.25M302.2 74.4h1.25M296.6 75.0h1.25M296.2 73.5h1.25M309.9 77.0h1.25M288.7 65.8h1.25M294.6 73.2h1.25M318.1 76.1h1.25M282.4 75.7h1.25M298.4 78.3h1.25M296.9 80.7h1.25M306.1 70.7h1.25M298.9 76.1h1.25M286.6 74.3h1.25M289.0 72.2h1.25M289.6 79.5h1.25M325.3 76.6h1.25M295.6 74.0h1.25M292.2 73.6h1.25M282.2 68.4h1.25M283.4 76.2h1.25M314.6 77.4h1.25M288.2 76.4h1.25M280.6 77.4h1.25M288.9 72.2h1.25M280.1 78.2h1.25M285.2 70.0h1.25M285.2 69.4h1.25M310.7 74.7h1.25M292.9 76.8h1.25M281.0 75.7h1.25M279.6 86.9h1.25M292.4 78.7h1.25M280.8 73.4h1.25M304.6 77.3h1.25M282.1 67.4h1.25M286.0 77.0h1.25M291.5 76.0h1.25M280.4 72.6h1.25M300.0 73.8h1.25M281.5 75.7h1.25M302.0 71.1h1.25M283.4 72.8h1.25M318.3 72.1h1.25M331.8 71.7h1.25M304.6 71.9h1.25M289.1 70.1h1.25M317.6 73.4h1.25M291.2 76.4h1.25M279.5 77.0h1.25M295.1 71.0h1.25M298.2 78.3h1.25M285.5 77.2h1.25M281.2 75.5h1.25M286.7 72.0h1.25M335.6 72.5h1.25M287.3 80.9h1.25M285.4 74.8h1.25M310.4 79.0h1.25M294.0 78.9h1.25M286.8 70.7h1.25M299.9 77.6h1.25M280.2 84.0h1.25M307.3 75.9h1.25M283.0 79.0h1.25M279.6 75.5h1.25M284.4 79.5h1.25M287.5 71.4h1.25M299.6 74.6h1.25M283.3 78.5h1.25M302.1 74.3h1.25M293.0 75.2h1.25M287.0 72.2h1.25M314.0 74.5h1.25M318.9 77.1h1.25M287.6 77.6h1.25M315.2 74.9h1.25M314.5 75.8h1.25M302.5 73.4h1.25M292.9 77.0h1.25M281.7 72.1h1.25M289.4 79.4h1.25M280.6 73.1h1.25M284.7 72.8h1.25M284.0 74.3h1.25M287.8 70.0h1.25M306.8 75.0h1.25M288.7 80.5h1.25M283.0 75.2h1.25M306.6 72.5h1.25M281.4 72.7h1.25M289.3 73.9h1.25M281.9 72.7h1.25M340.1 73.3h1.25M283.0 74.5h1.25M318.4 76.9h1.25M293.2 73.5h1.25M288.7 73.4h1.25M304.2 74.2h1.25M307.5 75.3h1.25M287.1 74.6h1.25M298.3 74.6h1.25M287.9 76.8h1.25M285.9 73.1h1.25M287.1 70.9h1.25M289.4 70.8h1.25M298.0 79.5h1.25M292.0 74.3h1.25M330.6 78.5h1.25M285.8 67.6h1.25M308.2 73.5h1.25M295.1 78.8h1.25M296.4 79.4h1.25M303.2 73.0h1.25M303.8 74.8h1.25M309.8 74.5h1.25M318.8 73.5h1.25M288.4 74.2h1.25M308.9 75.2h1.25M289.3 75.4h1.25M283.6 74.5h1.25M286.1 69.5h1.25M280.8 70.3h1.25M309.3 72.8h1.25M280.5 76.0h1.25M317.1 76.8h1.25M293.2 76.0h1.25M296.3 69.8h1.25M284.6 67.4h1.25M284.5 75.4h1.25M284.2 76.1h1.25M307.3 75.4h1.25M311.1 74.7h1.25M294.4 70.2h1.25M286.0 78.1h1.25M289.5 77.1h1.25M296.7 79.2h1.25M287.5 75.4h1.25M298.2 73.7h1.25M285.5 80.6h1.25M294.3 75.7h1.25M300.5 80.8h1.25M313.7 78.8h1.25M300.3 72.1h1.25M287.6 78.8h1.25M288.5 70.1h1.25M317.1 75.8h1.25M315.8 75.8h1.25M283.4 76.6h1.25M282.5 74.2h1.25M281.1 69.3h1.25M293.5 79.4h1.25M324.5 76.4h1.25M296.8 76.8h1.25M279.8 71.3h1.25M297.3 72.9h1.25M321.4 73.7h1.25M281.2 81.1h1.25M281.5 71.0h1.25M304.9 75.3h1.25M338.5 75.5h1.25M283.2 78.0h1.25M284.1 71.9h1.25M308.1 76.6h1.25M322.7 75.4h1.25M301.6 75.7h1.25M333.7 77.5h1.25M287.4 74.8h1.25M287.2 75.2h1.25M291.8 72.5h1.25M296.3 77.6h1.25M307.1 76.8h1.25M288.6 77.2h1.25M345.5 74.3h1.25M291.9 73.5h1.25M288.0 72.8h1.25M292.5 74.6h1.25M287.1 70.8h1.25M286.4 74.9h1.25M291.3 75.7h1.25M299.4 76.5h1.25M290.7 81.4h1.25M285.8 73.8h1.25M303.6 71.2h1.25M302.2 76.2h1.25M301.7 71.7h1.25M325.2 75.3h1.25M292.9 73.9h1.25M323.7 74.9h1.25M304.0 75.1h1.25M294.1 80.0h1.25M279.2 77.7h1.25M284.9 71.6h1.25M301.6 75.6h1.25M295.8 76.2h1.25M303.1 74.8h1.25M281.4 71.7h1.25M296.4 75.6h1.25M339.4 77.4h1.25M322.1 74.6h1.25M294.9 73.4h1.25M298.7 75.5h1.25M335.9 72.9h1.25M288.4 84.6h1.25M282.3 70.1h1.25M290.1 76.7h1.25M287.6 74.6h1.25M282.7 72.5h1.25M312.6 74.0h1.25M286.5 77.3h1.25M281.3 68.8h1.25M307.6 77.7h1.25M283.1 77.0h1.25M292.1 75.7h1.25M299.8 75.9h1.25M281.2 80.1h1.25M282.1 77.1h1.25M288.9 69.9h1.25M281.2 74.0h1.25M286.5 72.1h1.25M281.7 75.5h1.25M313.8 73.0h1.25M283.1 77.7h1.25M299.3 76.6h1.25M280.4 71.8h1.25M313.5 74.2h1.25M321.7 78.7h1.25M288.0 76.6h1.25M292.3 75.8h1.25M281.9 77.9h1.25M313.7 74.2h1.25M284.6 76.1h1.25M299.7 73.2h1.25M300.6 74.4h1.25M286.0 73.1h1.25M293.4 74.1h1.25M294.5 74.3h1.25M287.8 74.9h1.25M292.1 71.5h1.25M294.6 72.9h1.25M280.8 81.1h1.25M308.6 71.4h1.25M288.4 77.2h1.25M305.6 77.6h1.25M291.1 78.1h1.25M288.1 74.1h1.25M303.9 75.3h1.25M282.3 76.0h1.25M292.9 77.7h1.25M283.0 78.5h1.25M279.7 78.2h1.25M294.3 78.5h1.25M282.5 79.5h1.25M287.3 76.4h1.25M315.0 74.5h1.25M284.4 80.5h1.25M283.7 74.5h1.25M298.8 76.9h1.25M280.8 72.4h1.25M296.8 73.7h1.25M279.5 78.4h1.25M283.0 68.6h1.25M309.1 73.1h1.25M318.8 79.4h1.25M294.3 80.0h1.25M286.0 74.2h1.25M318.4 74.7h1.25M282.8 81.3h1.25M303.7 70.1h1.25M288.8 71.9h1.25M284.1 77.1h1.25M306.3 73.9h1.25M284.8 77.0h1.25M332.8 75.2h1.25M284.3 78.7h1.25M319.4 74.5h1.25M298.0 74.9h1.25M283.9 76.8h1.25M293.1 74.4h1.25M286.5 77.4h1.25M295.1 73.2h1.25M339.8 74.9h1.25M324.4 76.6h1.25M287.8 74.6h1.25M281.8 75.8h1.25M291.1 79.4h1.25M309.7 73.8h1.25M339.7 77.0h1.25M285.7 71.9h1.25M297.8 71.5h1.25M300.1 74.0h1.25M292.4 77.0h1.25M284.3 74.2h1.25M341.2 76.6h1.25M292.2 72.0h1.25M291.2 77.5h1.25M286.0 76.1h1.25M284.4 77.4h1.25M287.8 73.7h1.25M288.9 74.5h1.25M288.2 76.6h1.25M292.2 70.7h1.25M302.0 73.9h1.25M283.6 76.2h1.25M288.3 74.7h1.25M304.6 77.4h1.25M282.8 74.7h1.25M284.0 69.7h1.25M284.0 70.1h1.25M293.7 74.2h1.25M282.8 76.0h1.25M279.7 68.3h1.25M284.4 75.1h1.25M294.7 74.8h1.25M285.7 70.0h1.25M289.1 78.8h1.25M297.3 73.7h1.25M290.2 72.9h1.25M284.9 71.2h1.25M341.1 76.0h1.25M282.0 71.0h1.25M288.1 72.9h1.25M293.2 76.2h1.25M297.0 74.7h1.25M279.3 72.8h1.25M297.8 72.0h1.25M279.4 77.8h1.25M290.7 79.7h1.25M283.8 72.7h1.25M296.3 75.5h1.25M284.2 71.7h1.25M303.7 70.9h1.25M279.1 79.8h1.25M316.2 75.0h1.25M287.2 73.8h1.25M279.1 79.3h1.25M324.6 74.6h1.25M297.3 69.6h1.25M285.0 72.1h1.25M279.9 73.3h1.25M297.4 74.2h1.25M281.3 79.1h1.25M283.2 80.5h1.25M286.9 71.8h1.25M285.3 70.1h1.25M290.1 71.4h1.25M321.4 72.1h1.25M284.4 71.8h1.25M283.7 79.4h1.25M280.6 86.0h1.25M290.6 69.1h1.25M298.4 72.0h1.25M283.4 76.8h1.25M286.2 73.8h1.25M314.0 73.9h1.25M324.4 75.4h1.25M309.2 73.7h1.25M283.1 70.5h1.25M283.4 75.7h1.25M297.3 71.7h1.25M285.9 76.7h1.25M301.7 75.6h1.25M308.6 72.8h1.25M306.7 75.9h1.25M288.9 75.0h1.25M301.4 78.1h1.25M301.0 77.3h1.25M286.7 74.3h1.25M284.7 81.5h1.25M282.2 76.8h1.25M295.0 71.3h1.25M298.9 71.6h1.25M284.4 76.3h1.25M305.9 77.8h1.25M290.6 67.6h1.25M299.4 71.3h1.25M286.9 68.7h1.25M279.5 76.0h1.25M279.6 71.3h1.25M317.5 74.7h1.25M297.0 79.9h1.25M283.6 73.0h1.25M291.0 71.4h1.25M318.9 74.0h1.25M281.5 72.8h1.25M315.3 71.7h1.25M289.5 76.5h1.25M306.2 73.2h1.25M282.7 73.1h1.25M298.6 74.7h1.25M288.9 76.6h1.25M286.9 67.8h1.25M289.1 80.2h1.25M283.0 77.5h1.25M280.6 78.6h1.25M281.9 72.5h1.25M304.6 73.8h1.25M286.9 77.3h1.25M306.6 76.0h1.25M342.2 76.4h1.25M297.7 73.8h1.25M286.4 74.5h1.25M292.7 71.7h1.25M289.5 74.7h1.25M299.3 76.8h1.25M290.4 73.6h1.25M282.8 71.9h1.25M293.0 74.2h1.25M285.8 72.0h1.25M305.3 76.5h1.25M289.1 73.2h1.25M301.2 67.2h1.25M318.4 74.1h1.25M280.7 75.9h1.25M282.0 73.6h1.25M279.6 81.6h1.25M288.9 78.7h1.25M304.7 75.8h1.25M289.3 80.3h1.25M283.1 74.3h1.25M313.9 76.7h1.25M292.7 77.0h1.25M330.6 73.1h1.25M309.8 73.2h1.25M279.2 81.4h1.25M299.0 68.7h1.25M309.4 73.7h1.25M324.4 78.7h1.25M331.0 73.6h1.25M328.6 74.8h1.25M331.2 72.9h1.25M331.2 71.7h1.25M326.2 79.7h1.25M329.0 76.9h1.25M332.2 72.4h1.25M332.2 74.6h1.25M328.5 73.6h1.25M332.3 73.3h1.25M332.1 75.0h1.25M323.9 72.9h1.25M325.9 74.3h1.25M335.8 76.5h1.25M333.4 73.8h1.25M332.4 76.8h1.25M324.9 71.4h1.25M335.8 74.1h1.25M327.9 76.0h1.25M332.0 74.4h1.25M327.4 77.3h1.25M329.2 71.9h1.25M329.9 74.6h1.25M332.1 74.0h1.25M329.7 74.0h1.25M333.8 80.2h1.25M324.5 72.9h1.25M322.1 74.4h1.25M329.6 71.0h1.25M325.4 76.0h1.25M330.6 73.4h1.25M330.1 75.9h1.25M324.5 71.9h1.25M321.0 72.7h1.25M327.8 75.6h1.25M321.5 77.7h1.25M329.0 79.6h1.25M326.0 75.5h1.25M335.1 77.5h1.25M331.1 73.7h1.25M331.1 74.1h1.25M338.3 72.3h1.25M332.4 71.6h1.25M328.4 72.3h1.25M335.1 71.6h1.25M323.6 76.0h1.25M330.1 77.3h1.25M333.5 75.5h1.25M346.0 73.8h1.25M328.7 73.5h1.25M334.2 76.5h1.25M335.0 74.0h1.25M329.6 73.7h1.25M328.3 80.8h1.25M335.2 72.9h1.25M332.7 76.9h1.25M317.2 72.3h1.25M332.6 73.8h1.25M322.0 71.7h1.25M321.5 75.5h1.25M323.7 77.7h1.25M329.5 74.5h1.25M327.2 75.4h1.25M336.6 77.9h1.25M337.7 73.8h1.25M315.8 78.0h1.25M328.8 75.6h1.25M329.3 77.7h1.25M333.9 72.7h1.25M335.3 76.2h1.25M328.0 74.5h1.25M328.3 74.5h1.25M334.0 71.9h1.25M329.0 73.8h1.25M336.5 74.7h1.25M329.9 75.6h1.25M335.0 77.2h1.25M324.1 75.5h1.25M333.6 71.3h1.25M329.6 73.3h1.25M332.7 76.9h1.25M329.9 72.5h1.25M319.8 76.1h1.25M324.1 71.8h1.25M342.2 72.7h1.25M331.3 73.3h1.25M328.8 71.6h1.25M331.1 72.5h1.25M329.0 73.6h1.25M289.7 95.2h1.25M284.8 91.1h1.25M298.8 89.6h1.25M283.6 91.5h1.25M290.6 89.6h1.25M301.0 92.1h1.25M287.4 94.2h1.25M296.7 88.8h1.25M292.1 94.1h1.25M290.7 97.6h1.25M293.1 94.7h1.25M291.8 92.3h1.25M289.5 93.4h1.25M303.6 90.9h1.25M300.7 88.0h1.25M289.5 90.0h1.25M288.9 90.0h1.25M296.7 96.5h1.25M284.2 95.5h1.25M291.4 97.2h1.25M295.6 91.3h1.25M301.1 88.5h1.25M295.7 89.5h1.25M293.6 95.1h1.25M292.6 92.4h1.25M291.6 97.1h1.25M291.2 91.2h1.25M294.1 92.2h1.25M289.1 96.8h1.25M288.6 91.5h1.25M286.2 96.4h1.25M299.3 90.6h1.25M290.7 92.0h1.25M287.6 94.2h1.25M287.7 91.3h1.25M289.4 92.3h1.25M294.6 92.8h1.25M288.7 99.7h1.25M294.0 88.8h1.25M288.0 92.4h1.25M297.8 90.6h1.25M295.1 93.2h1.25M288.6 94.8h1.25M302.0 92.3h1.25M290.2 93.4h1.25M294.8 88.7h1.25M299.7 90.8h1.25M300.8 91.2h1.25M297.5 90.0h1.25M295.2 92.5h1.25M295.0 92.4h1.25M287.7 92.5h1.25M279.9 95.3h1.25M294.9 92.0h1.25M292.4 90.6h1.25M286.1 96.1h1.25M289.9 91.1h1.25M288.7 88.8h1.25M292.9 94.0h1.25M286.0 90.1h1.25M291.5 95.4h1.25M285.5 95.9h1.25M292.0 91.1h1.25M288.9 91.5h1.25M289.1 93.4h1.25M283.8 90.1h1.25M297.0 89.5h1.25M295.4 89.6h1.25M293.3 93.9h1.25M295.7 93.7h1.25M279.5 92.5h1.25M300.5 89.0h1.25M287.1 92.4h1.25M291.6 94.2h1.25M302.4 92.1h1.25M292.4 91.9h1.25M294.7 90.6h1.25M288.3 90.4h1.25M292.7 93.5h1.25M292.3 92.3h1.25M285.7 93.1h1.25M285.7 93.4h1.25M280.4 96.1h1.25M282.2 98.2h1.25M296.3 92.1h1.25M283.3 92.8h1.25M288.7 94.0h1.25M290.9 93.8h1.25M279.8 92.7h1.25M286.2 93.1h1.25M285.0 94.6h1.25M306.0 85.1h1.25M280.0 96.1h1.25M293.0 95.0h1.25M290.2 96.8h1.25M286.9 91.9h1.25M293.0 88.6h1.25M287.7 92.3h1.25M296.5 88.6h1.25M288.1 92.1h1.25M291.5 92.4h1.25M282.6 95.9h1.25M300.8 87.7h1.25M290.8 94.0h1.25M304.0 94.7h1.25M288.5 93.1h1.25M291.1 96.7h1.25M290.3 94.1h1.25M289.0 95.9h1.25M291.3 93.9h1.25M285.1 95.0h1.25M292.5 93.6h1.25M284.2 91.0h1.25M286.5 93.2h1.25M283.7 93.1h1.25M291.9 91.5h1.25M290.1 94.5h1.25M283.3 95.7h1.25M293.2 91.5h1.25M280.1 95.7h1.25M290.1 97.7h1.25M289.4 90.2h1.25M301.1 90.5h1.25M287.6 94.8h1.25M297.6 87.8h1.25M292.8 93.8h1.25M285.2 94.6h1.25M296.6 92.6h1.25M297.8 92.8h1.25M281.8 89.3h1.25M289.4 93.0h1.25M279.7 92.1h1.25M298.2 94.8h1.25M287.4 93.4h1.25M281.6 92.3h1.25M301.7 93.5h1.25M285.6 94.5h1.25M288.4 93.4h1.25M291.5 93.0h1.25M285.6 95.1h1.25M299.9 95.5h1.25M298.8 91.5h1.25M288.5 91.0h1.25M297.7 95.2h1.25M289.6 94.2h1.25M295.2 91.5h1.25M286.4 93.0h1.25M287.2 88.1h1.25M291.0 94.0h1.25M291.8 95.0h1.25M288.3 91.6h1.25M287.3 93.9h1.25M291.3 92.9h1.25M297.9 92.7h1.25M286.6 92.0h1.25M285.6 94.3h1.25M292.8 93.6h1.25M289.3 93.9h1.25M293.2 95.1h1.25M280.1 94.1h1.25M286.5 93.8h1.25M288.6 91.0h1.25M294.3 93.1h1.25M290.8 94.4h1.25M291.5 95.8h1.25M284.1 94.1h1.25M300.5 87.6h1.25M291.1 93.5h1.25M298.0 90.6h1.25M295.4 91.8h1.25M290.2 94.3h1.25M306.2 90.8h1.25M295.7 90.9h1.25M293.8 91.3h1.25M298.1 90.4h1.25M293.3 90.2h1.25M288.3 90.8h1.25M295.7 87.8h1.25M284.2 96.1h1.25M293.7 91.1h1.25M290.3 97.0h1.25M293.9 92.5h1.25M281.3 91.8h1.25M298.3 93.4h1.25M286.1 94.1h1.25M292.1 96.8h1.25M288.9 90.2h1.25M289.0 96.4h1.25M294.0 91.7h1.25M294.2 93.3h1.25M287.9 88.1h1.25M294.6 94.1h1.25M289.2 95.9h1.25M293.2 94.1h1.25M284.8 91.2h1.25M287.4 96.9h1.25M281.5 89.2h1.25M292.4 92.8h1.25M293.5 94.7h1.25M288.3 91.4h1.25M297.0 90.7h1.25M285.6 89.1h1.25M301.0 89.8h1.25M290.8 96.2h1.25M295.2 93.7h1.25M289.2 94.9h1.25M301.6 91.1h1.25M291.8 91.9h1.25M296.2 93.0h1.25M295.3 90.3h1.25M284.5 93.7h1.25M297.6 92.7h1.25M305.6 90.1h1.25M279.3 95.7h1.25M294.8 92.9h1.25M290.1 89.3h1.25M300.4 92.8h1.25M291.9 93.5h1.25M291.4 91.9h1.25M288.6 91.9h1.25M285.4 86.2h1.25M283.4 86.1h1.25M286.2 87.7h1.25M280.9 80.8h1.25M286.2 90.1h1.25M290.8 88.6h1.25M286.1 89.9h1.25M285.7 87.0h1.25M285.7 89.0h1.25M288.5 85.6h1.25M287.0 89.0h1.25M291.0 77.9h1.25M288.3 92.0h1.25M286.0 83.7h1.25M285.9 86.3h1.25M281.7 87.8h1.25M288.3 83.6h1.25M281.0 86.8h1.25M287.4 85.1h1.25M286.2 79.9h1.25M282.2 86.2h1.25M289.7 84.9h1.25M279.8 84.1h1.25M280.7 86.8h1.25M286.9 83.2h1.25M286.1 93.5h1.25M283.8 85.1h1.25M283.7 85.1h1.25M279.8 85.0h1.25M287.7 86.0h1.25M288.7 87.9h1.25M281.6 78.8h1.25M285.6 91.3h1.25M287.5 83.2h1.25M285.1 83.0h1.25M285.5 85.1h1.25M285.2 88.6h1.25M288.7 83.3h1.25M283.8 88.9h1.25M281.4 83.5h1.25M286.8 85.3h1.25M292.0 83.9h1.25M288.5 83.7h1.25M281.0 81.1h1.25M287.2 83.2h1.25M281.9 89.9h1.25M282.2 82.7h1.25M282.4 82.0h1.25M289.3 88.9h1.25M288.8 85.4h1.25M310.9 88.0h1.25M299.4 87.3h1.25M290.5 84.9h1.25M311.4 91.7h1.25M309.6 93.6h1.25M305.8 85.2h1.25M287.3 86.9h1.25M307.0 90.5h1.25M289.8 94.1h1.25M294.7 95.0h1.25M336.6 91.2h1.25M301.4 91.7h1.25M310.6 96.5h1.25M302.5 83.1h1.25M312.4 86.8h1.25M321.8 100.9h1.25M288.7 92.4h1.25M318.6 90.3h1.25M282.7 90.6h1.25M304.5 91.4h1.25M279.5 87.4h1.25M292.6 89.2h1.25M310.0 92.5h1.25M309.0 92.1h1.25M318.2 85.9h1.25M319.5 89.3h1.25M315.5 91.8h1.25M293.7 94.6h1.25M308.9 88.6h1.25M293.3 84.1h1.25M294.7 94.6h1.25M296.9 87.3h1.25M304.5 88.0h1.25M316.9 74.1h1.25M301.4 82.6h1.25M301.8 83.0h1.25M317.5 92.6h1.25M306.2 85.1h1.25M301.3 86.0h1.25M320.6 84.9h1.25M286.5 84.7h1.25M295.8 82.5h1.25M308.3 80.7h1.25M317.9 83.7h1.25M303.3 90.2h1.25M310.8 101.0h1.25M313.9 85.3h1.25M296.0 85.9h1.25M301.3 86.4h1.25M316.1 91.8h1.25M298.2 94.8h1.25M313.1 81.2h1.25M306.8 86.9h1.25M334.4 90.2h1.25M325.2 75.2h1.25M307.4 87.4h1.25M308.5 83.3h1.25M306.9 82.2h1.25M308.0 89.7h1.25M297.7 87.5h1.25M296.1 76.5h1.25M295.7 82.9h1.25M294.0 66.9h1.25M309.6 58.0h1.25M287.9 68.2h1.25M288.5 69.2h1.25M295.9 78.3h1.25M291.3 62.5h1.25M300.6 72.9h1.25M307.3 83.3h1.25M302.2 71.6h1.25M296.5 81.0h1.25M288.5 73.3h1.25M290.9 76.4h1.25M292.4 65.4h1.25M286.0 84.8h1.25M288.6 89.7h1.25M302.4 70.3h1.25M299.5 64.9h1.25M279.7 73.7h1.25M284.7 83.3h1.25M285.2 74.0h1.25M304.3 55.7h1.25M280.5 65.3h1.25M286.1 85.0h1.25M286.4 70.3h1.25M284.9 67.4h1.25M306.7 62.7h1.25M287.0 61.8h1.25M288.2 57.5h1.25M283.1 78.8h1.25M280.2 76.0h1.25M286.2 86.9h1.25M293.8 87.0h1.25M280.7 59.7h1.25M297.9 72.7h1.25M284.6 63.6h1.25M302.2 88.6h1.25M293.9 71.8h1.25M284.0 67.6h1.25M300.4 71.9h1.25M285.1 77.9h1.25M305.7 94.6h1.25M286.6 76.1h1.25M292.5 68.9h1.25M288.3 72.6h1.25M290.7 94.6h1.25M295.4 65.3h1.25M284.7 47.0h1.25M284.9 78.6h1.25M295.4 77.6h1.25M289.8 70.8h1.25M284.1 71.7h1.25M293.3 89.5h1.25M295.0 65.4h1.25M292.9 78.0h1.25M280.0 98.9h1.25M304.9 83.6h1.25M292.0 78.2h1.25M298.4 70.4h1.25M283.5 73.8h1.25M285.7 79.1h1.25M296.9 77.9h1.25M312.0 77.9h1.25M286.0 66.1h1.25M302.9 47.1h1.25M291.8 65.3h1.25M286.1 69.2h1.25M293.5 64.5h1.25M288.1 66.6h1.25M291.3 75.9h1.25M283.3 95.0h1.25M287.8 59.0h1.25M284.4 82.7h1.25M280.8 77.7h1.25M304.0 70.8h1.25M288.2 76.1h1.25M302.8 62.3h1.25M299.1 76.3h1.25M302.7 54.6h1.25M291.5 54.5h1.25M290.8 58.2h1.25M297.7 82.4h1.25M298.0 93.0h1.25M293.3 85.1h1.25M287.0 76.8h1.25M305.5 64.4h1.25M278.8 72.1h1.25M301.5 78.3h1.25M295.3 70.7h1.25M285.3 66.4h1.25M284.4 75.2h1.25M302.4 78.7h1.25M280.6 69.1h1.25M298.5 86.2h1.25M296.3 78.5h1.25M288.9 70.2h1.25M305.1 80.3h1.25M293.0 67.5h1.25M284.4 74.8h1.25M291.0 71.2h1.25M289.5 93.5h1.25M286.6 63.5h1.25M298.0 90.6h1.25M293.8 69.0h1.25M301.9 77.2h1.25M301.1 71.4h1.25M289.3 109.7h1.25M283.2 73.4h1.25M289.3 54.4h1.25" stroke="#000" stroke-width="1.25" fill="none"/>
<rect x="95.60" y="187.60" width="99.60" height="75.00" fill="none" stroke="#000" stroke-width="1.45"/>
<path d="M95.60 262.60L95.60 266.90M99.51 262.60L99.51 265.20M103.41 262.60L103.41 265.20M107.32 262.60L107.32 265.20M111.22 262.60L111.22 265.20M115.13 262.60L115.13 266.90M119.04 262.60L119.04 265.20M122.94 262.60L122.94 265.20M126.85 262.60L126.85 265.20M130.75 262.60L130.75 265.20M134.66 262.60L134.66 266.90M138.56 262.60L138.56 265.20M142.47 262.60L142.47 265.20M146.38 262.60L146.38 265.20M150.28 262.60L150.28 265.20M154.19 262.60L154.19 266.90M158.09 262.60L158.09 265.20M162.00 262.60L162.00 265.20M165.91 262.60L165.91 265.20M169.81 262.60L169.81 265.20M173.72 262.60L173.72 266.90M177.62 262.60L177.62 265.20M181.53 262.60L181.53 265.20M185.44 262.60L185.44 265.20M189.34 262.60L189.34 265.20M193.25 262.60L193.25 266.90M91.00 262.60L95.60 262.60M93.00 256.96L95.60 256.96M93.00 253.65L95.60 253.65M93.00 251.31L95.60 251.31M93.00 249.49L95.60 249.49M93.00 248.01L95.60 248.01M93.00 246.75L95.60 246.75M93.00 245.67L95.60 245.67M93.00 244.71L95.60 244.71M91.00 243.85L95.60 243.85M93.00 238.21L95.60 238.21M93.00 234.90L95.60 234.90M93.00 232.56L95.60 232.56M93.00 230.74L95.60 230.74M93.00 229.26L95.60 229.26M93.00 228.00L95.60 228.00M93.00 226.92L95.60 226.92M93.00 225.96L95.60 225.96M91.00 225.10L95.60 225.10M93.00 219.46L95.60 219.46M93.00 216.15L95.60 216.15M93.00 213.81L95.60 213.81M93.00 211.99L95.60 211.99M93.00 210.51L95.60 210.51M93.00 209.25L95.60 209.25M93.00 208.17L95.60 208.17M93.00 207.21L95.60 207.21M91.00 206.35L95.60 206.35M93.00 200.71L95.60 200.71M93.00 197.40L95.60 197.40M93.00 195.06L95.60 195.06M93.00 193.24L95.60 193.24M93.00 191.76L95.60 191.76M93.00 190.50L95.60 190.50M93.00 189.42L95.60 189.42M93.00 188.46L95.60 188.46M91.00 187.60L95.60 187.60" stroke="#000" stroke-width="1.15" fill="none"/>
<text x="88.10" y="268.50" font-size="10.2" font-weight="bold" text-anchor="start" fill="#000" textLength="7.80" lengthAdjust="spacingAndGlyphs" transform="rotate(-90 88.10 268.50)"  stroke="#000" stroke-width="0.2">10</text>
<text x="82.60" y="259.70" font-size="9.4" font-weight="bold" text-anchor="start" fill="#000" textLength="4.60" lengthAdjust="spacingAndGlyphs" transform="rotate(-90 82.60 259.70)"  stroke="#000" stroke-width="0.2">0</text>
<text x="88.10" y="249.75" font-size="10.2" font-weight="bold" text-anchor="start" fill="#000" textLength="7.80" lengthAdjust="spacingAndGlyphs" transform="rotate(-90 88.10 249.75)"  stroke="#000" stroke-width="0.2">10</text>
<text x="82.60" y="240.95" font-size="9.4" font-weight="bold" text-anchor="start" fill="#000" textLength="4.60" lengthAdjust="spacingAndGlyphs" transform="rotate(-90 82.60 240.95)"  stroke="#000" stroke-width="0.2">1</text>
<text x="88.10" y="231.00" font-size="10.2" font-weight="bold" text-anchor="start" fill="#000" textLength="7.80" lengthAdjust="spacingAndGlyphs" transform="rotate(-90 88.10 231.00)"  stroke="#000" stroke-width="0.2">10</text>
<text x="82.60" y="222.20" font-size="9.4" font-weight="bold" text-anchor="start" fill="#000" textLength="4.60" lengthAdjust="spacingAndGlyphs" transform="rotate(-90 82.60 222.20)"  stroke="#000" stroke-width="0.2">2</text>
<text x="88.10" y="212.25" font-size="10.2" font-weight="bold" text-anchor="start" fill="#000" textLength="7.80" lengthAdjust="spacingAndGlyphs" transform="rotate(-90 88.10 212.25)"  stroke="#000" stroke-width="0.2">10</text>
<text x="82.60" y="203.45" font-size="9.4" font-weight="bold" text-anchor="start" fill="#000" textLength="4.60" lengthAdjust="spacingAndGlyphs" transform="rotate(-90 82.60 203.45)"  stroke="#000" stroke-width="0.2">3</text>
<text x="88.10" y="193.50" font-size="10.2" font-weight="bold" text-anchor="start" fill="#000" textLength="7.80" lengthAdjust="spacingAndGlyphs" transform="rotate(-90 88.10 193.50)"  stroke="#000" stroke-width="0.2">10</text>
<text x="82.60" y="184.70" font-size="9.4" font-weight="bold" text-anchor="start" fill="#000" textLength="4.60" lengthAdjust="spacingAndGlyphs" transform="rotate(-90 82.60 184.70)"  stroke="#000" stroke-width="0.2">4</text>
<text x="75.60" y="226.10" font-size="9.6" font-weight="bold" text-anchor="middle" fill="#000" textLength="66.00" lengthAdjust="spacingAndGlyphs" transform="rotate(-90 75.60 226.10)"  stroke="#000" stroke-width="0.3">Propidium Iodide</text>
<text x="97.10" y="274.80" font-size="9" font-weight="bold" text-anchor="middle" fill="#000"  stroke="#000" stroke-width="0.3">0</text>
<text x="115.33" y="274.80" font-size="9" font-weight="bold" text-anchor="middle" fill="#000" textLength="9.80" lengthAdjust="spacingAndGlyphs"  stroke="#000" stroke-width="0.3">50</text>
<text x="134.86" y="274.80" font-size="9" font-weight="bold" text-anchor="middle" fill="#000" textLength="13.20" lengthAdjust="spacingAndGlyphs"  stroke="#000" stroke-width="0.3">100</text>
<text x="154.39" y="274.80" font-size="9" font-weight="bold" text-anchor="middle" fill="#000" textLength="13.40" lengthAdjust="spacingAndGlyphs"  stroke="#000" stroke-width="0.3">150</text>
<text x="173.92" y="274.80" font-size="9" font-weight="bold" text-anchor="middle" fill="#000" textLength="13.70" lengthAdjust="spacingAndGlyphs"  stroke="#000" stroke-width="0.3">200</text>
<text x="193.45" y="274.80" font-size="9" font-weight="bold" text-anchor="middle" fill="#000" textLength="13.40" lengthAdjust="spacingAndGlyphs"  stroke="#000" stroke-width="0.3">250</text>
<text x="144.20" y="285.80" font-size="9.0" font-weight="bold" text-anchor="middle" fill="#000" textLength="63.30" lengthAdjust="spacingAndGlyphs"  stroke="#000" stroke-width="0.3">Forward Scatter</text>
<path d="M132.7 202.0h1.25M130.5 210.6h1.25M128.8 200.3h1.25M128.8 215.3h1.25M126.8 199.3h1.25M124.2 215.9h1.25M120.5 207.5h1.25M134.4 201.3h1.25M131.7 211.6h1.25M131.0 202.5h1.25M123.8 211.2h1.25M125.9 214.5h1.25M123.4 217.1h1.25M135.3 210.4h1.25M120.5 201.1h1.25M129.6 209.4h1.25M131.3 218.1h1.25M123.2 202.7h1.25M123.6 206.3h1.25M122.4 203.5h1.25M127.3 207.4h1.25M138.9 201.5h1.25M138.2 209.2h1.25M134.5 208.3h1.25M121.5 208.2h1.25M135.6 206.0h1.25M124.6 208.9h1.25M131.8 202.2h1.25M135.8 220.0h1.25M125.8 209.6h1.25M122.7 212.7h1.25M127.3 212.4h1.25M121.2 208.8h1.25M124.1 209.4h1.25M127.7 204.4h1.25M123.7 207.4h1.25M132.6 200.3h1.25M128.0 214.0h1.25M126.8 215.6h1.25M130.9 209.8h1.25M131.0 200.4h1.25M137.6 223.0h1.25M130.5 202.7h1.25M127.6 207.1h1.25M127.5 208.0h1.25M126.0 215.3h1.25M120.2 207.1h1.25M132.5 204.3h1.25M123.8 209.4h1.25M125.8 200.6h1.25M124.0 223.3h1.25M131.3 216.3h1.25M136.1 213.1h1.25M133.9 215.8h1.25M137.4 213.3h1.25M129.0 209.9h1.25M126.2 197.8h1.25M129.0 210.9h1.25M126.1 212.7h1.25M134.9 214.2h1.25M126.0 207.2h1.25M132.8 209.2h1.25M134.8 214.9h1.25M122.5 206.8h1.25M135.2 212.1h1.25M137.4 204.9h1.25M121.6 214.4h1.25M146.1 216.0h1.25M130.2 211.9h1.25M130.8 207.9h1.25M138.0 206.4h1.25M125.8 217.4h1.25M129.1 213.2h1.25M126.8 218.1h1.25M128.6 210.0h1.25M121.7 206.6h1.25M129.5 212.9h1.25M121.8 213.1h1.25M125.8 209.6h1.25M130.2 214.4h1.25M132.8 207.7h1.25M133.3 211.7h1.25M123.8 205.0h1.25M124.6 210.4h1.25M128.5 207.7h1.25M121.2 203.6h1.25M124.1 204.9h1.25M134.2 210.8h1.25M122.8 207.3h1.25M134.8 208.6h1.25M133.2 200.0h1.25M125.3 205.5h1.25M129.8 204.7h1.25M126.5 210.3h1.25M133.5 205.5h1.25M134.0 208.5h1.25M137.0 218.7h1.25M126.4 207.2h1.25M132.8 205.1h1.25M125.4 206.7h1.25M124.1 204.0h1.25M130.7 213.4h1.25M132.0 213.4h1.25M128.5 191.7h1.25M130.8 215.9h1.25M119.8 207.1h1.25M128.6 217.5h1.25M124.1 202.3h1.25M127.7 216.6h1.25M127.7 209.3h1.25M129.6 206.2h1.25M134.8 208.8h1.25M135.8 204.5h1.25M123.9 206.5h1.25M126.0 209.7h1.25M137.1 197.6h1.25M130.8 213.9h1.25M135.1 217.1h1.25M123.0 208.4h1.25M133.4 213.7h1.25M132.0 209.9h1.25M132.7 202.6h1.25M131.0 207.5h1.25M126.8 202.2h1.25M131.7 210.5h1.25M132.2 206.8h1.25M125.1 206.8h1.25M137.5 204.9h1.25M130.0 199.5h1.25M127.7 208.6h1.25M127.3 209.0h1.25M127.4 217.9h1.25M120.5 202.9h1.25M130.8 212.8h1.25M128.0 203.9h1.25M125.1 213.6h1.25M120.8 213.2h1.25M128.6 209.2h1.25M137.4 210.8h1.25M131.8 202.2h1.25M122.8 202.6h1.25M131.0 216.9h1.25M131.5 210.4h1.25M134.4 213.0h1.25M124.9 218.1h1.25M135.6 212.5h1.25M128.9 214.2h1.25M130.5 213.0h1.25M132.0 200.9h1.25M128.8 201.8h1.25M140.4 210.0h1.25M127.7 214.1h1.25M141.1 205.5h1.25M131.9 204.5h1.25M128.2 212.5h1.25M131.5 213.0h1.25M124.4 219.7h1.25M126.7 202.8h1.25M136.6 203.4h1.25M135.9 207.8h1.25M128.2 210.8h1.25M127.0 206.2h1.25M123.1 207.4h1.25M133.4 204.4h1.25M124.7 201.3h1.25M134.7 207.7h1.25M132.9 211.1h1.25M121.1 212.3h1.25M127.1 207.8h1.25M126.7 208.9h1.25M131.6 201.3h1.25M133.1 217.3h1.25M133.6 212.2h1.25M126.4 206.1h1.25M124.1 202.1h1.25M127.0 214.7h1.25M123.7 207.0h1.25M127.3 204.6h1.25M124.0 209.0h1.25M130.8 216.8h1.25M128.8 208.8h1.25M133.0 201.6h1.25M121.6 208.9h1.25M131.8 211.4h1.25M129.7 213.6h1.25M132.6 196.4h1.25M135.7 206.9h1.25M131.6 210.1h1.25M131.8 206.2h1.25M140.5 208.8h1.25M134.6 208.9h1.25M144.1 208.6h1.25M142.6 208.1h1.25M134.1 201.0h1.25M145.6 200.2h1.25M139.7 217.9h1.25M137.4 219.6h1.25M134.6 206.2h1.25M136.7 210.7h1.25M143.1 204.1h1.25M133.0 214.8h1.25M144.5 201.4h1.25M139.0 197.8h1.25M134.2 198.3h1.25M135.0 209.8h1.25M146.9 204.3h1.25M140.4 214.6h1.25M153.6 205.0h1.25M143.9 204.0h1.25M130.7 194.5h1.25M139.5 200.3h1.25M124.8 196.5h1.25M134.9 202.3h1.25M131.6 215.3h1.25M134.2 203.0h1.25M134.6 214.7h1.25M141.8 204.3h1.25M143.1 198.7h1.25M135.5 202.4h1.25M138.1 213.5h1.25M147.1 228.0h1.25M165.3 226.3h1.25M148.4 230.1h1.25M133.3 225.3h1.25M125.2 225.4h1.25M141.6 227.1h1.25M136.3 222.8h1.25M120.6 229.5h1.25M123.5 228.0h1.25M150.3 229.0h1.25M127.4 222.6h1.25M124.3 228.7h1.25M158.6 226.0h1.25M141.6 225.9h1.25M125.8 232.7h1.25M143.9 227.7h1.25M140.3 225.1h1.25M132.0 226.0h1.25M129.6 227.2h1.25M130.3 225.1h1.25M122.5 225.1h1.25M122.9 225.4h1.25M151.3 228.8h1.25M119.8 230.2h1.25M134.1 234.4h1.25M125.4 228.0h1.25M121.5 229.8h1.25M124.8 229.9h1.25M161.3 226.5h1.25M146.2 227.2h1.25M120.3 226.9h1.25M124.7 229.5h1.25M137.2 228.4h1.25M148.6 227.2h1.25M122.1 226.4h1.25M122.9 225.5h1.25M145.3 223.3h1.25M150.7 227.5h1.25M132.8 224.0h1.25M127.9 230.9h1.25M120.7 224.9h1.25M161.0 225.5h1.25M130.2 224.8h1.25M139.3 227.0h1.25M124.4 233.6h1.25M122.1 222.6h1.25M120.6 231.9h1.25M128.1 229.7h1.25M137.6 231.1h1.25M124.3 228.6h1.25M138.3 225.1h1.25M122.9 233.6h1.25M121.6 223.4h1.25M137.6 225.9h1.25M142.6 228.0h1.25M121.1 223.6h1.25M155.0 227.9h1.25M126.6 226.6h1.25M132.0 226.5h1.25M140.3 232.3h1.25M123.0 226.4h1.25M142.9 225.5h1.25M122.5 221.1h1.25M133.7 230.5h1.25M120.2 225.2h1.25M130.7 225.3h1.25M149.8 225.2h1.25M150.1 227.2h1.25M123.1 232.6h1.25M123.2 224.0h1.25M124.0 226.3h1.25M136.1 226.4h1.25M123.6 235.7h1.25M151.8 224.8h1.25M124.1 227.0h1.25M126.7 225.4h1.25M134.7 228.3h1.25M149.2 226.8h1.25M135.0 230.2h1.25M131.6 223.8h1.25M125.0 228.6h1.25M127.1 224.6h1.25M131.3 226.5h1.25M158.1 227.9h1.25M142.4 225.9h1.25M131.6 224.6h1.25M139.1 225.3h1.25M167.4 226.3h1.25M168.4 226.6h1.25M125.5 227.1h1.25M129.7 228.8h1.25M119.6 226.3h1.25M136.8 228.9h1.25M154.9 227.1h1.25M156.2 224.5h1.25M157.9 227.8h1.25M121.2 222.6h1.25M125.5 225.3h1.25M142.7 228.7h1.25M121.9 226.8h1.25M124.7 224.1h1.25M123.0 226.8h1.25M124.9 223.5h1.25M127.9 228.6h1.25M131.3 227.8h1.25M122.1 222.9h1.25M134.9 226.5h1.25M121.7 229.5h1.25M124.5 230.2h1.25M120.6 225.1h1.25M122.9 224.4h1.25M143.6 224.9h1.25M126.5 225.1h1.25M132.6 225.5h1.25M128.1 226.9h1.25M126.7 222.1h1.25M136.6 227.6h1.25M122.0 227.6h1.25M122.3 226.1h1.25M133.0 229.9h1.25M135.6 228.9h1.25M137.6 226.6h1.25M145.2 229.1h1.25M142.8 225.7h1.25M120.5 226.7h1.25M142.4 229.4h1.25M139.6 226.9h1.25M119.8 220.0h1.25M124.6 234.3h1.25M155.0 225.0h1.25M125.5 230.3h1.25M125.9 223.7h1.25M126.8 218.6h1.25M132.5 233.7h1.25M119.8 228.1h1.25M124.7 230.6h1.25M130.4 231.3h1.25M123.0 228.1h1.25M122.5 230.3h1.25M138.8 226.4h1.25M126.4 229.3h1.25M140.3 227.9h1.25M126.1 226.5h1.25M127.9 225.7h1.25M126.0 220.5h1.25M133.7 229.3h1.25M128.7 226.8h1.25M133.7 221.4h1.25M124.0 224.1h1.25M143.4 228.5h1.25M125.4 232.5h1.25M137.0 221.5h1.25M126.2 225.9h1.25M126.3 229.0h1.25M123.3 224.7h1.25M142.6 226.2h1.25M150.9 225.6h1.25M122.9 228.1h1.25M124.8 226.5h1.25M131.3 220.2h1.25M123.2 233.8h1.25M125.3 224.4h1.25M124.4 228.6h1.25M133.4 232.8h1.25M128.3 230.7h1.25M141.4 228.7h1.25M147.9 226.9h1.25M150.2 228.2h1.25M141.5 227.9h1.25M131.2 222.1h1.25M124.8 229.1h1.25M136.0 224.0h1.25M129.1 230.9h1.25M125.3 225.6h1.25M125.4 227.6h1.25M129.3 232.1h1.25M121.4 222.6h1.25M149.7 227.1h1.25M126.6 221.2h1.25M120.7 221.6h1.25M127.4 230.3h1.25M122.8 221.9h1.25M124.8 225.2h1.25M120.3 227.3h1.25M121.1 227.8h1.25M127.9 230.1h1.25M121.6 224.5h1.25M127.4 224.4h1.25M124.0 227.4h1.25M171.1 227.2h1.25M126.1 226.0h1.25M141.8 225.1h1.25M130.3 226.5h1.25M127.7 230.2h1.25M137.4 225.6h1.25M154.5 226.2h1.25M134.4 223.9h1.25M128.0 228.9h1.25M132.1 229.5h1.25M132.9 224.6h1.25M122.7 222.8h1.25M156.5 228.2h1.25M131.8 224.3h1.25M129.0 228.7h1.25M122.5 217.4h1.25M132.5 228.3h1.25M128.7 226.5h1.25M122.1 230.9h1.25M139.4 223.6h1.25M139.5 226.7h1.25M125.7 228.1h1.25M128.0 226.2h1.25M123.4 229.8h1.25M144.2 228.2h1.25M145.8 226.4h1.25M124.5 222.7h1.25M123.7 223.6h1.25M128.9 224.7h1.25M148.7 223.9h1.25M129.0 222.3h1.25M122.5 223.3h1.25M129.0 224.7h1.25M133.8 229.4h1.25M130.2 229.2h1.25M143.7 231.2h1.25M162.6 227.2h1.25M121.6 225.5h1.25M128.5 224.7h1.25M131.9 227.3h1.25M123.2 229.7h1.25M121.8 223.4h1.25M130.6 228.7h1.25M132.7 221.0h1.25M123.9 228.2h1.25M153.1 228.3h1.25M130.9 224.7h1.25M151.8 226.2h1.25M163.1 228.0h1.25M125.7 230.3h1.25M127.0 227.4h1.25M151.2 229.8h1.25M124.4 224.7h1.25M142.3 226.9h1.25M135.8 225.9h1.25M124.9 224.3h1.25M121.7 227.7h1.25M123.4 223.2h1.25M132.2 226.2h1.25M131.3 223.6h1.25M137.6 227.0h1.25M121.1 226.1h1.25M121.9 229.9h1.25M136.1 225.7h1.25M125.7 222.3h1.25M134.6 228.5h1.25M167.3 225.7h1.25M125.4 224.3h1.25M130.4 224.9h1.25M149.9 223.4h1.25M136.1 229.4h1.25M124.0 224.1h1.25M146.2 221.5h1.25M123.6 223.9h1.25M151.4 226.9h1.25M137.1 228.6h1.25M120.1 228.0h1.25M155.2 224.4h1.25M139.8 228.8h1.25M135.5 228.2h1.25M135.9 232.5h1.25M123.3 228.1h1.25M129.1 229.8h1.25M125.1 229.0h1.25M121.1 227.2h1.25M150.7 226.4h1.25M160.2 226.2h1.25M126.6 230.8h1.25M126.6 228.1h1.25M145.6 224.3h1.25M126.6 223.5h1.25M121.8 224.4h1.25M140.9 227.2h1.25M141.0 223.3h1.25M140.1 225.9h1.25M123.6 230.6h1.25M145.9 228.7h1.25M123.8 232.0h1.25M140.5 225.3h1.25M142.7 225.1h1.25M147.4 223.8h1.25M122.7 226.2h1.25M136.7 229.7h1.25M127.7 227.2h1.25M144.8 229.7h1.25M120.6 230.9h1.25M121.3 224.7h1.25M121.4 227.5h1.25M122.7 222.2h1.25M121.3 228.7h1.25M125.9 230.1h1.25M125.6 228.8h1.25M124.6 230.2h1.25M120.3 218.7h1.25M130.0 225.4h1.25M121.2 228.5h1.25M127.0 230.3h1.25M135.0 226.8h1.25M153.7 224.4h1.25M141.6 224.8h1.25M120.4 226.5h1.25M127.3 231.2h1.25M151.7 229.7h1.25M130.8 221.8h1.25M129.5 228.8h1.25M125.1 229.0h1.25M135.8 228.3h1.25M121.7 232.2h1.25M147.4 226.4h1.25M132.5 230.6h1.25M119.5 225.8h1.25M128.1 220.9h1.25M120.4 224.5h1.25M125.7 232.5h1.25M131.9 224.8h1.25M122.9 225.7h1.25M122.9 229.4h1.25M131.9 222.2h1.25M124.6 227.8h1.25M132.2 230.0h1.25M139.4 225.8h1.25M156.3 227.2h1.25M138.6 230.3h1.25M127.1 229.4h1.25M124.4 231.1h1.25M123.3 228.4h1.25M124.2 220.6h1.25M143.3 224.6h1.25M123.3 231.5h1.25M124.8 237.4h1.25M120.6 228.0h1.25M147.1 231.2h1.25M139.9 229.1h1.25M130.8 229.6h1.25M123.1 220.0h1.25M127.2 226.5h1.25M143.7 231.0h1.25M119.6 231.8h1.25M133.0 227.5h1.25M140.3 230.9h1.25M129.6 228.5h1.25M124.3 224.5h1.25M124.0 223.6h1.25M152.3 228.8h1.25M138.5 227.8h1.25M146.5 226.8h1.25M126.8 229.3h1.25M144.2 232.0h1.25M132.3 226.8h1.25M120.6 223.4h1.25M126.8 227.8h1.25M121.2 230.1h1.25M121.7 227.6h1.25M136.7 229.5h1.25M145.4 228.8h1.25M133.3 225.9h1.25M152.3 225.6h1.25M127.9 222.6h1.25M169.6 225.2h1.25M122.5 226.2h1.25M120.5 226.5h1.25M127.5 228.6h1.25M144.4 230.3h1.25M139.0 228.1h1.25M131.4 222.0h1.25M123.3 226.6h1.25M121.1 227.3h1.25M122.3 232.7h1.25M163.8 229.1h1.25M131.8 222.4h1.25M122.3 227.4h1.25M123.8 227.9h1.25M157.3 227.9h1.25M122.1 228.3h1.25M149.5 228.5h1.25M128.8 225.4h1.25M127.5 225.4h1.25M124.5 222.5h1.25M120.4 224.6h1.25M121.7 236.6h1.25M158.0 227.0h1.25M140.0 229.1h1.25M123.9 222.8h1.25M127.4 224.9h1.25M121.1 227.0h1.25M123.0 227.6h1.25M131.5 230.7h1.25M123.2 228.1h1.25M137.4 224.5h1.25M134.8 225.9h1.25M138.1 226.9h1.25M121.6 220.6h1.25M124.3 225.7h1.25M121.6 226.4h1.25M122.5 227.5h1.25M138.6 226.0h1.25M126.3 233.6h1.25M125.0 224.3h1.25M135.7 230.8h1.25M122.3 228.9h1.25M126.3 228.7h1.25M126.3 227.6h1.25M132.8 229.7h1.25M123.3 227.0h1.25M121.0 222.2h1.25M128.4 226.6h1.25M120.0 228.9h1.25M121.4 228.6h1.25M133.9 227.1h1.25M142.2 229.4h1.25M120.1 228.0h1.25M128.5 226.2h1.25M141.3 227.7h1.25M126.9 223.1h1.25M124.8 225.4h1.25M129.6 227.3h1.25M129.0 231.3h1.25M130.4 226.1h1.25M126.7 224.9h1.25M129.6 227.0h1.25M128.8 224.9h1.25M127.4 228.5h1.25M151.1 227.8h1.25M124.0 224.1h1.25M127.5 223.8h1.25M142.4 227.3h1.25M126.1 226.8h1.25M143.3 224.1h1.25M147.8 227.9h1.25M129.9 229.4h1.25M140.1 228.4h1.25M121.4 220.2h1.25M126.0 223.5h1.25M130.0 219.3h1.25M150.7 229.5h1.25M120.9 230.3h1.25M132.2 225.9h1.25M122.7 229.2h1.25M126.4 226.6h1.25M142.3 224.5h1.25M141.7 227.6h1.25M122.8 223.1h1.25M123.1 220.1h1.25M133.0 226.7h1.25M136.4 227.1h1.25M128.6 227.3h1.25M135.1 224.2h1.25M132.5 229.4h1.25M127.8 225.1h1.25M125.0 227.1h1.25M138.4 229.5h1.25M143.2 229.1h1.25M135.9 226.7h1.25M123.1 234.3h1.25M143.6 226.9h1.25M146.6 226.5h1.25M159.2 224.4h1.25M149.0 224.9h1.25M122.2 234.4h1.25M130.5 229.7h1.25M121.6 225.9h1.25M142.5 223.7h1.25M158.0 227.9h1.25M122.5 222.7h1.25M137.1 227.2h1.25M141.6 225.7h1.25M138.2 229.4h1.25M141.5 224.8h1.25M145.7 227.9h1.25M136.3 220.1h1.25M155.1 227.5h1.25M128.0 226.9h1.25M122.7 229.4h1.25M131.1 226.5h1.25M129.9 221.5h1.25M129.9 224.0h1.25M125.0 227.4h1.25M127.6 222.1h1.25M131.6 225.5h1.25M124.7 223.2h1.25M128.0 224.1h1.25M125.3 229.8h1.25M160.2 225.9h1.25M134.6 230.2h1.25M130.0 227.5h1.25M124.0 226.7h1.25M121.8 223.6h1.25M133.9 225.3h1.25M130.8 221.1h1.25M134.7 224.4h1.25M126.5 230.6h1.25M135.3 229.5h1.25M133.5 226.0h1.25M125.6 226.3h1.25M129.0 231.7h1.25M130.7 229.8h1.25M126.7 226.4h1.25M146.5 228.2h1.25M140.5 227.5h1.25M121.9 228.8h1.25M125.4 220.1h1.25M123.6 228.7h1.25M124.5 226.1h1.25M139.6 223.7h1.25M131.8 226.1h1.25M137.3 229.9h1.25M131.7 225.9h1.25M156.3 227.3h1.25M138.6 230.0h1.25M121.2 226.2h1.25M143.0 221.8h1.25M135.0 226.7h1.25M120.7 228.2h1.25M136.3 227.8h1.25M126.1 222.4h1.25M162.7 224.5h1.25M130.3 229.9h1.25M137.2 226.5h1.25M131.0 225.3h1.25M139.3 225.6h1.25M156.6 224.2h1.25M125.9 230.4h1.25M128.6 228.4h1.25M154.2 225.5h1.25M126.9 223.8h1.25M127.1 219.2h1.25M146.3 226.8h1.25M136.6 228.5h1.25M149.2 228.0h1.25M141.4 225.7h1.25M151.4 226.9h1.25M133.1 230.2h1.25M120.3 227.0h1.25M139.7 226.2h1.25M123.0 228.8h1.25M123.8 227.4h1.25M133.1 226.6h1.25M120.6 224.5h1.25M123.2 228.8h1.25M135.1 226.1h1.25M121.0 227.5h1.25M155.6 228.8h1.25M119.8 235.6h1.25M145.0 228.4h1.25M125.2 225.2h1.25M124.4 221.8h1.25M121.4 228.0h1.25M134.1 230.1h1.25M132.0 227.0h1.25M151.4 228.7h1.25M148.4 225.8h1.25M123.8 224.1h1.25M133.2 227.3h1.25M130.3 224.5h1.25M120.8 225.2h1.25M141.4 226.7h1.25M127.3 223.8h1.25M145.2 224.8h1.25M125.4 231.9h1.25M136.4 228.4h1.25M146.9 229.2h1.25M125.2 228.4h1.25M144.4 224.0h1.25M130.7 228.0h1.25M121.2 225.3h1.25M126.3 227.7h1.25M151.6 226.7h1.25M125.9 224.8h1.25M153.7 225.8h1.25M129.0 221.2h1.25M124.0 228.5h1.25M126.8 230.3h1.25M134.7 228.0h1.25M124.9 227.4h1.25M149.8 228.4h1.25M130.4 223.6h1.25M122.0 235.3h1.25M127.2 226.7h1.25M140.2 227.7h1.25M134.1 223.1h1.25M121.7 231.2h1.25M124.9 228.4h1.25M120.9 232.6h1.25M137.1 222.8h1.25M127.3 227.7h1.25M121.1 226.1h1.25M138.1 227.4h1.25M131.1 231.5h1.25M131.1 224.3h1.25M121.9 225.7h1.25M143.4 227.3h1.25M148.6 227.5h1.25M138.6 226.9h1.25M130.0 224.8h1.25M135.0 224.7h1.25M136.5 221.8h1.25M121.6 229.8h1.25M137.3 228.4h1.25M136.7 230.2h1.25M143.6 223.8h1.25M133.7 224.4h1.25M137.5 225.3h1.25M136.7 229.8h1.25M149.5 230.5h1.25M129.7 228.6h1.25M125.2 222.7h1.25M149.4 221.6h1.25M151.2 226.0h1.25M126.8 225.8h1.25M150.1 227.3h1.25M140.9 227.7h1.25M141.1 230.2h1.25M138.8 229.7h1.25M125.5 226.4h1.25M135.8 227.4h1.25M134.9 228.4h1.25M123.6 236.5h1.25M134.4 228.8h1.25M130.0 229.9h1.25M142.5 226.0h1.25M124.7 227.8h1.25M145.7 222.7h1.25M136.3 224.2h1.25M129.6 220.7h1.25M137.1 222.2h1.25M126.8 228.5h1.25M142.8 227.7h1.25M140.6 225.3h1.25M132.9 227.2h1.25M143.2 225.8h1.25M131.0 228.2h1.25M127.0 228.2h1.25M144.5 229.4h1.25M133.3 230.7h1.25M139.2 225.2h1.25M126.7 222.5h1.25M162.7 230.4h1.25M141.2 227.4h1.25M133.5 227.1h1.25M146.0 225.7h1.25M129.1 227.5h1.25M122.7 226.5h1.25M137.1 227.3h1.25M143.8 227.9h1.25M132.2 229.4h1.25M143.2 231.8h1.25M128.6 229.8h1.25M144.6 227.9h1.25M152.2 234.9h1.25M128.8 228.5h1.25M122.8 219.9h1.25M132.9 223.5h1.25M130.8 227.1h1.25M130.7 231.3h1.25M136.0 225.2h1.25M122.5 231.2h1.25M146.8 225.2h1.25M139.5 226.5h1.25M139.1 220.9h1.25M140.7 226.1h1.25M139.6 222.7h1.25M139.8 224.0h1.25M139.0 227.8h1.25M164.1 223.3h1.25M134.4 227.9h1.25M136.4 231.5h1.25M133.6 228.0h1.25M143.6 225.5h1.25M142.2 229.2h1.25M124.5 226.6h1.25M138.9 226.2h1.25M131.2 225.5h1.25M123.3 223.6h1.25M137.8 222.0h1.25M123.2 223.9h1.25M131.9 226.9h1.25M134.3 228.9h1.25M137.2 224.5h1.25M138.8 231.3h1.25M129.3 229.3h1.25M133.0 226.4h1.25M144.5 226.1h1.25M159.1 230.9h1.25M131.1 224.8h1.25M143.0 226.8h1.25M147.0 229.9h1.25M130.8 230.5h1.25M136.2 222.9h1.25M143.4 232.7h1.25M144.4 230.2h1.25M120.6 225.4h1.25M128.7 227.1h1.25M131.0 228.4h1.25M140.8 228.6h1.25M132.3 225.3h1.25M135.1 227.6h1.25M149.7 230.8h1.25M121.0 229.0h1.25M125.4 229.1h1.25M133.8 223.9h1.25M127.1 224.7h1.25M135.5 222.4h1.25M126.1 228.8h1.25M139.5 227.4h1.25M127.4 227.4h1.25M143.8 229.1h1.25M153.5 230.7h1.25M137.2 229.3h1.25M142.2 219.7h1.25M139.1 229.2h1.25M130.3 229.4h1.25M146.3 227.5h1.25M132.5 231.9h1.25M156.8 228.2h1.25M130.6 224.7h1.25M133.7 228.3h1.25M149.5 226.6h1.25M137.3 224.8h1.25M123.6 226.1h1.25M143.0 226.5h1.25M141.7 220.2h1.25M136.5 231.7h1.25M131.8 231.1h1.25M124.3 228.6h1.25M148.6 228.3h1.25M142.3 228.0h1.25M138.9 227.3h1.25M133.1 231.1h1.25M135.6 229.5h1.25M146.1 226.4h1.25M122.2 234.2h1.25M152.4 227.4h1.25M136.3 227.5h1.25M125.7 224.3h1.25M126.5 223.8h1.25M136.3 223.4h1.25M151.5 229.1h1.25M139.7 224.0h1.25M134.4 230.4h1.25M134.3 226.3h1.25M139.8 226.3h1.25M126.8 233.1h1.25M139.0 223.4h1.25M133.4 224.0h1.25M130.9 222.0h1.25M144.1 224.6h1.25M136.6 230.0h1.25M135.9 226.4h1.25M128.3 225.5h1.25M135.3 229.6h1.25M137.6 233.8h1.25M131.5 224.7h1.25M123.3 223.7h1.25M145.9 227.4h1.25M143.2 225.7h1.25M148.3 225.2h1.25M147.8 227.8h1.25M125.1 234.4h1.25M139.0 227.4h1.25M130.8 225.1h1.25M153.7 231.7h1.25M157.5 229.8h1.25M144.9 228.0h1.25M134.5 226.3h1.25M126.9 226.8h1.25M132.9 229.7h1.25M140.0 229.4h1.25M124.9 223.1h1.25M122.5 234.7h1.25M129.9 229.4h1.25M133.0 226.4h1.25M132.9 232.9h1.25M132.9 225.9h1.25M134.8 228.0h1.25M129.5 225.1h1.25M142.7 226.4h1.25M138.8 222.5h1.25M136.1 231.7h1.25M125.5 222.2h1.25M148.5 223.3h1.25M141.8 225.6h1.25M135.5 227.4h1.25M130.4 224.9h1.25M124.6 225.0h1.25M139.3 228.2h1.25M136.5 229.4h1.25M136.6 224.3h1.25M146.0 225.3h1.25M121.3 225.8h1.25M139.3 224.7h1.25M143.4 229.6h1.25M158.1 224.2h1.25M164.4 224.7h1.25M151.4 226.2h1.25M158.1 227.6h1.25M158.6 226.5h1.25M159.6 225.0h1.25M155.6 228.1h1.25M165.9 223.9h1.25M167.7 225.1h1.25M169.3 224.4h1.25M139.7 223.1h1.25M163.6 225.5h1.25M152.3 223.3h1.25M170.1 221.9h1.25M151.8 223.6h1.25M159.4 225.5h1.25M154.2 227.4h1.25M169.8 224.3h1.25M167.5 224.8h1.25M159.5 226.8h1.25M157.5 223.8h1.25M153.3 224.5h1.25M149.5 224.9h1.25M164.9 225.8h1.25M150.3 221.6h1.25M163.2 224.0h1.25M156.5 225.4h1.25M152.3 220.4h1.25M166.7 224.9h1.25M164.7 225.8h1.25M149.4 225.7h1.25M169.1 225.1h1.25M160.8 220.6h1.25M158.7 224.7h1.25M163.6 225.5h1.25M148.9 224.7h1.25M167.3 223.3h1.25M160.9 220.9h1.25M156.2 226.0h1.25M153.2 221.2h1.25M161.9 228.4h1.25M166.4 220.2h1.25M157.8 226.8h1.25M159.8 225.0h1.25M156.3 224.2h1.25M159.9 224.6h1.25M166.9 223.5h1.25M174.3 224.3h1.25M160.3 224.6h1.25M171.3 224.6h1.25M171.9 227.1h1.25M150.2 226.2h1.25M139.9 224.8h1.25M155.9 222.4h1.25M159.9 225.4h1.25M161.1 225.9h1.25M157.2 226.9h1.25M150.8 225.7h1.25M159.3 227.9h1.25M176.4 225.0h1.25M175.4 220.9h1.25M161.6 223.2h1.25M135.8 224.3h1.25M145.0 225.1h1.25M167.2 221.7h1.25M158.8 226.3h1.25M155.1 223.6h1.25M146.9 224.2h1.25M165.6 226.2h1.25M145.8 227.3h1.25M124.6 244.4h1.25M143.3 246.6h1.25M126.3 244.4h1.25M130.1 245.2h1.25M133.5 245.5h1.25M130.1 244.2h1.25M132.5 246.3h1.25M140.5 244.0h1.25M150.4 253.0h1.25M124.7 251.0h1.25M131.4 248.9h1.25M142.5 254.3h1.25M126.4 241.3h1.25M122.4 248.8h1.25M128.9 244.9h1.25M135.5 247.9h1.25M124.0 246.4h1.25M147.0 244.1h1.25M122.2 248.4h1.25M120.4 252.5h1.25M137.7 240.0h1.25M130.1 245.7h1.25M133.7 248.9h1.25M127.8 250.0h1.25M143.9 246.7h1.25M131.8 243.8h1.25M122.3 245.5h1.25M126.5 246.4h1.25M138.2 244.3h1.25M131.5 244.9h1.25M140.8 244.1h1.25M135.6 246.2h1.25M135.2 245.2h1.25M144.6 244.8h1.25M138.0 250.3h1.25M130.5 248.8h1.25M137.4 245.1h1.25M127.9 248.0h1.25M129.1 248.9h1.25M137.2 247.7h1.25M129.5 243.8h1.25M122.6 245.1h1.25M133.2 245.8h1.25M129.0 249.2h1.25M129.4 247.2h1.25M127.3 245.8h1.25M147.1 244.6h1.25M130.3 249.5h1.25M136.0 242.3h1.25M126.8 248.5h1.25M132.4 245.1h1.25M136.5 244.4h1.25M139.3 248.2h1.25M121.6 247.3h1.25M124.2 249.7h1.25M120.7 240.2h1.25M133.0 245.9h1.25M132.4 247.8h1.25M141.1 247.0h1.25M136.1 245.3h1.25M125.8 254.9h1.25M133.4 243.1h1.25M136.5 251.6h1.25M129.2 244.1h1.25M139.0 248.7h1.25M136.8 247.8h1.25M132.4 243.7h1.25M133.1 248.0h1.25M138.9 246.6h1.25M136.1 244.7h1.25M127.1 245.6h1.25M127.8 248.0h1.25M129.4 241.2h1.25M148.7 248.9h1.25M134.8 243.2h1.25M125.8 245.9h1.25M126.5 243.7h1.25M123.5 243.2h1.25M123.6 248.7h1.25M148.4 244.6h1.25M134.9 244.7h1.25M147.9 250.2h1.25M124.5 245.3h1.25M133.1 248.5h1.25M135.6 240.8h1.25M132.8 245.6h1.25M141.2 247.6h1.25M133.3 247.5h1.25M141.8 249.8h1.25M140.2 244.2h1.25M131.8 246.8h1.25M135.7 243.0h1.25M141.7 247.9h1.25M131.1 249.2h1.25M144.6 243.5h1.25M130.4 244.4h1.25M132.6 245.0h1.25M134.0 245.5h1.25M133.3 242.0h1.25M133.8 245.4h1.25M129.3 247.8h1.25M125.3 244.3h1.25M137.3 243.2h1.25M141.9 243.9h1.25M136.8 250.2h1.25M136.4 247.6h1.25M135.6 244.6h1.25M129.2 255.5h1.25M124.8 248.0h1.25M139.0 250.3h1.25M128.3 251.4h1.25M140.1 247.1h1.25M139.3 248.0h1.25M129.3 249.9h1.25M126.0 247.2h1.25M151.1 246.5h1.25M123.6 249.9h1.25M132.4 246.9h1.25M135.4 251.2h1.25M128.8 245.0h1.25M145.5 245.9h1.25M138.5 248.1h1.25M126.2 244.4h1.25M122.3 251.2h1.25M135.2 249.2h1.25M126.2 244.5h1.25M121.0 251.7h1.25M127.1 246.7h1.25M127.1 243.1h1.25M130.4 247.4h1.25M136.9 251.2h1.25M122.2 243.0h1.25M136.1 253.7h1.25M143.2 250.4h1.25M140.9 244.3h1.25M126.7 241.3h1.25M132.1 247.2h1.25M124.3 248.8h1.25M137.2 250.5h1.25M135.2 247.5h1.25M137.3 249.8h1.25M127.9 243.9h1.25M130.5 254.5h1.25M142.5 245.8h1.25M135.4 247.8h1.25M140.2 242.8h1.25M127.4 252.3h1.25M127.0 243.4h1.25M131.3 246.6h1.25M136.6 247.4h1.25M125.4 246.2h1.25M127.6 247.0h1.25M138.2 252.8h1.25M129.4 247.5h1.25M132.8 244.7h1.25M134.9 247.4h1.25M142.0 241.1h1.25M140.7 247.7h1.25M138.0 246.1h1.25M135.8 249.3h1.25M139.1 251.6h1.25M128.0 245.6h1.25M132.9 247.3h1.25M130.9 247.0h1.25M138.4 248.1h1.25M149.6 245.5h1.25M129.4 249.6h1.25M128.4 245.8h1.25M134.9 249.8h1.25M131.8 249.0h1.25M130.2 247.6h1.25M123.3 249.4h1.25M135.6 244.0h1.25M132.7 246.2h1.25M137.1 245.6h1.25M128.7 249.1h1.25M128.0 243.2h1.25M121.5 247.3h1.25M138.3 249.1h1.25M131.6 247.1h1.25M127.8 249.8h1.25M134.3 247.9h1.25M128.4 246.9h1.25M130.2 248.0h1.25M123.3 248.0h1.25M136.7 242.4h1.25M134.1 245.4h1.25M125.3 246.1h1.25M132.1 243.7h1.25M131.6 247.1h1.25M140.0 243.7h1.25M123.2 243.4h1.25M140.5 247.0h1.25M129.4 240.8h1.25M138.0 250.3h1.25M120.4 248.1h1.25M139.2 248.2h1.25M130.7 244.3h1.25M139.9 248.9h1.25M134.5 242.5h1.25M134.0 246.5h1.25M129.5 248.8h1.25M134.0 245.0h1.25M128.1 244.3h1.25M135.4 245.5h1.25M135.0 248.7h1.25M141.6 248.9h1.25M121.7 247.0h1.25M132.5 246.1h1.25M144.0 247.6h1.25M141.6 246.7h1.25M132.6 246.2h1.25M137.7 246.1h1.25M121.4 243.8h1.25M135.7 244.6h1.25M133.8 242.1h1.25M138.1 247.1h1.25M131.0 245.9h1.25M134.3 251.5h1.25M134.1 249.4h1.25M146.2 245.1h1.25M124.1 248.7h1.25M135.8 244.8h1.25M137.4 251.4h1.25M136.0 249.4h1.25M132.3 252.3h1.25M128.3 250.4h1.25M131.2 245.1h1.25M131.5 241.5h1.25M133.3 242.3h1.25M148.9 248.0h1.25M139.4 243.8h1.25M135.0 247.4h1.25M146.1 240.9h1.25M124.4 246.9h1.25M138.4 246.1h1.25M149.6 250.7h1.25M140.2 246.6h1.25M132.7 240.2h1.25M134.5 244.3h1.25M136.3 244.3h1.25M135.4 246.0h1.25M133.0 246.8h1.25M139.2 246.3h1.25M140.2 247.6h1.25M150.8 245.5h1.25M144.4 246.0h1.25M138.9 242.9h1.25M142.5 249.4h1.25M142.1 241.0h1.25M127.6 248.7h1.25M129.1 244.1h1.25M131.9 246.8h1.25M138.4 248.4h1.25M136.9 246.1h1.25M129.8 249.1h1.25M126.9 245.1h1.25M141.0 245.8h1.25M136.5 245.8h1.25M126.0 247.7h1.25M144.5 245.8h1.25M144.5 247.4h1.25M141.1 254.3h1.25M143.8 245.8h1.25M136.3 247.3h1.25M136.0 243.3h1.25M122.7 248.5h1.25M122.6 247.5h1.25M138.0 246.8h1.25M131.0 249.0h1.25M141.9 252.2h1.25M129.0 246.3h1.25M141.8 247.3h1.25M129.2 244.3h1.25M129.9 243.8h1.25M143.4 253.5h1.25M121.0 247.7h1.25M120.5 240.3h1.25M138.2 245.0h1.25M144.9 243.7h1.25M134.0 241.6h1.25M129.0 235.9h1.25M124.8 241.2h1.25M130.8 238.2h1.25M136.3 236.3h1.25M124.9 235.0h1.25M130.5 245.2h1.25M120.9 242.3h1.25M130.0 235.3h1.25M133.2 232.6h1.25M125.3 230.6h1.25M126.7 237.0h1.25M127.3 240.3h1.25M123.8 229.0h1.25M125.2 236.6h1.25M132.5 239.3h1.25M127.7 237.1h1.25M137.9 236.8h1.25M141.5 233.7h1.25M128.5 238.0h1.25M128.8 236.2h1.25M134.7 236.4h1.25M131.2 232.9h1.25M134.3 238.7h1.25M131.9 232.0h1.25M125.8 232.3h1.25M123.7 238.5h1.25M135.2 238.0h1.25M140.4 236.8h1.25M125.0 237.9h1.25M123.8 232.3h1.25M122.9 235.9h1.25M125.9 240.5h1.25M134.3 233.6h1.25M127.7 236.3h1.25M126.8 231.9h1.25M122.7 233.2h1.25M123.8 239.7h1.25M120.4 239.9h1.25M145.2 231.8h1.25M132.9 235.4h1.25M133.4 233.5h1.25M129.3 245.1h1.25M129.6 241.2h1.25M123.3 238.5h1.25M134.5 241.7h1.25M135.7 239.4h1.25M135.3 238.9h1.25M122.0 241.5h1.25M130.6 239.6h1.25M128.2 231.7h1.25M126.4 236.6h1.25M132.8 234.5h1.25M125.8 237.0h1.25M129.9 237.4h1.25M122.3 239.5h1.25M126.1 239.6h1.25M125.4 233.0h1.25M146.2 239.5h1.25M138.0 230.4h1.25M129.0 227.5h1.25M133.2 217.0h1.25M127.4 222.9h1.25M125.1 234.4h1.25M124.8 215.8h1.25M136.4 221.7h1.25M121.4 234.9h1.25M135.9 218.0h1.25M129.2 206.1h1.25M121.0 213.2h1.25M129.4 201.5h1.25M134.4 210.7h1.25M121.3 209.0h1.25M125.9 237.1h1.25M127.1 226.6h1.25M138.3 238.4h1.25M133.1 224.1h1.25M124.8 214.3h1.25M132.6 213.1h1.25M126.4 196.6h1.25M132.6 235.6h1.25M125.3 231.2h1.25M125.4 214.4h1.25M126.9 243.8h1.25M135.9 236.3h1.25M135.7 219.1h1.25M122.6 248.0h1.25M120.0 230.4h1.25M130.7 235.5h1.25M123.4 235.3h1.25M129.9 212.1h1.25M132.1 249.7h1.25M128.3 215.3h1.25M134.2 220.4h1.25M131.9 213.6h1.25M123.5 235.6h1.25M124.4 218.7h1.25M125.7 217.9h1.25M121.8 257.1h1.25M126.5 214.9h1.25M121.6 261.0h1.25M123.4 214.5h1.25M120.5 226.7h1.25M132.2 217.8h1.25M132.3 236.9h1.25M123.8 224.1h1.25M126.3 249.2h1.25M128.2 225.4h1.25M122.5 233.7h1.25M131.4 222.3h1.25M130.8 223.2h1.25M124.1 218.6h1.25M134.9 222.9h1.25M121.4 224.5h1.25M135.3 228.3h1.25M126.1 216.7h1.25M122.8 221.9h1.25M125.9 236.1h1.25M131.6 239.1h1.25M122.3 209.8h1.25" stroke="#000" stroke-width="1.25" fill="none"/>
<rect x="249.20" y="187.50" width="99.20" height="75.10" fill="none" stroke="#000" stroke-width="1.45"/>
<path d="M249.20 262.60L249.20 266.90M253.09 262.60L253.09 265.20M256.98 262.60L256.98 265.20M260.87 262.60L260.87 265.20M264.76 262.60L264.76 265.20M268.65 262.60L268.65 266.90M272.54 262.60L272.54 265.20M276.43 262.60L276.43 265.20M280.32 262.60L280.32 265.20M284.21 262.60L284.21 265.20M288.10 262.60L288.10 266.90M291.99 262.60L291.99 265.20M295.88 262.60L295.88 265.20M299.77 262.60L299.77 265.20M303.66 262.60L303.66 265.20M307.55 262.60L307.55 266.90M311.44 262.60L311.44 265.20M315.33 262.60L315.33 265.20M319.22 262.60L319.22 265.20M323.11 262.60L323.11 265.20M327.00 262.60L327.00 266.90M330.89 262.60L330.89 265.20M334.78 262.60L334.78 265.20M338.67 262.60L338.67 265.20M342.56 262.60L342.56 265.20M346.45 262.60L346.45 266.90M244.60 262.60L249.20 262.60M246.60 256.95L249.20 256.95M246.60 253.64L249.20 253.64M246.60 251.30L249.20 251.30M246.60 249.48L249.20 249.48M246.60 247.99L249.20 247.99M246.60 246.73L249.20 246.73M246.60 245.64L249.20 245.64M246.60 244.68L249.20 244.68M244.60 243.83L249.20 243.83M246.60 238.17L249.20 238.17M246.60 234.87L249.20 234.87M246.60 232.52L249.20 232.52M246.60 230.70L249.20 230.70M246.60 229.22L249.20 229.22M246.60 227.96L249.20 227.96M246.60 226.87L249.20 226.87M246.60 225.91L249.20 225.91M244.60 225.05L249.20 225.05M246.60 219.40L249.20 219.40M246.60 216.09L249.20 216.09M246.60 213.75L249.20 213.75M246.60 211.93L249.20 211.93M246.60 210.44L249.20 210.44M246.60 209.18L249.20 209.18M246.60 208.09L249.20 208.09M246.60 207.13L249.20 207.13M244.60 206.28L249.20 206.28M246.60 200.62L249.20 200.62M246.60 197.32L249.20 197.32M246.60 194.97L249.20 194.97M246.60 193.15L249.20 193.15M246.60 191.67L249.20 191.67M246.60 190.41L249.20 190.41M246.60 189.32L249.20 189.32M246.60 188.36L249.20 188.36M244.60 187.50L249.20 187.50" stroke="#000" stroke-width="1.15" fill="none"/>
<text x="242.40" y="268.50" font-size="10.2" font-weight="bold" text-anchor="start" fill="#000" textLength="7.80" lengthAdjust="spacingAndGlyphs" transform="rotate(-90 242.40 268.50)"  stroke="#000" stroke-width="0.2">10</text>
<text x="236.90" y="259.70" font-size="9.4" font-weight="bold" text-anchor="start" fill="#000" textLength="4.60" lengthAdjust="spacingAndGlyphs" transform="rotate(-90 236.90 259.70)"  stroke="#000" stroke-width="0.2">0</text>
<text x="242.40" y="249.73" font-size="10.2" font-weight="bold" text-anchor="start" fill="#000" textLength="7.80" lengthAdjust="spacingAndGlyphs" transform="rotate(-90 242.40 249.73)"  stroke="#000" stroke-width="0.2">10</text>
<text x="236.90" y="240.93" font-size="9.4" font-weight="bold" text-anchor="start" fill="#000" textLength="4.60" lengthAdjust="spacingAndGlyphs" transform="rotate(-90 236.90 240.93)"  stroke="#000" stroke-width="0.2">1</text>
<text x="242.40" y="230.95" font-size="10.2" font-weight="bold" text-anchor="start" fill="#000" textLength="7.80" lengthAdjust="spacingAndGlyphs" transform="rotate(-90 242.40 230.95)"  stroke="#000" stroke-width="0.2">10</text>
<text x="236.90" y="222.15" font-size="9.4" font-weight="bold" text-anchor="start" fill="#000" textLength="4.60" lengthAdjust="spacingAndGlyphs" transform="rotate(-90 236.90 222.15)"  stroke="#000" stroke-width="0.2">2</text>
<text x="242.40" y="212.18" font-size="10.2" font-weight="bold" text-anchor="start" fill="#000" textLength="7.80" lengthAdjust="spacingAndGlyphs" transform="rotate(-90 242.40 212.18)"  stroke="#000" stroke-width="0.2">10</text>
<text x="236.90" y="203.38" font-size="9.4" font-weight="bold" text-anchor="start" fill="#000" textLength="4.60" lengthAdjust="spacingAndGlyphs" transform="rotate(-90 236.90 203.38)"  stroke="#000" stroke-width="0.2">3</text>
<text x="242.40" y="193.40" font-size="10.2" font-weight="bold" text-anchor="start" fill="#000" textLength="7.80" lengthAdjust="spacingAndGlyphs" transform="rotate(-90 242.40 193.40)"  stroke="#000" stroke-width="0.2">10</text>
<text x="236.90" y="184.60" font-size="9.4" font-weight="bold" text-anchor="start" fill="#000" textLength="4.60" lengthAdjust="spacingAndGlyphs" transform="rotate(-90 236.90 184.60)"  stroke="#000" stroke-width="0.2">4</text>
<text x="229.90" y="226.05" font-size="9.6" font-weight="bold" text-anchor="middle" fill="#000" textLength="66.00" lengthAdjust="spacingAndGlyphs" transform="rotate(-90 229.90 226.05)"  stroke="#000" stroke-width="0.3">Propidium Iodide</text>
<text x="250.70" y="274.80" font-size="9" font-weight="bold" text-anchor="middle" fill="#000"  stroke="#000" stroke-width="0.3">0</text>
<text x="268.85" y="274.80" font-size="9" font-weight="bold" text-anchor="middle" fill="#000" textLength="9.80" lengthAdjust="spacingAndGlyphs"  stroke="#000" stroke-width="0.3">50</text>
<text x="288.30" y="274.80" font-size="9" font-weight="bold" text-anchor="middle" fill="#000" textLength="13.20" lengthAdjust="spacingAndGlyphs"  stroke="#000" stroke-width="0.3">100</text>
<text x="307.75" y="274.80" font-size="9" font-weight="bold" text-anchor="middle" fill="#000" textLength="13.40" lengthAdjust="spacingAndGlyphs"  stroke="#000" stroke-width="0.3">150</text>
<text x="327.20" y="274.80" font-size="9" font-weight="bold" text-anchor="middle" fill="#000" textLength="13.70" lengthAdjust="spacingAndGlyphs"  stroke="#000" stroke-width="0.3">200</text>
<text x="346.65" y="274.80" font-size="9" font-weight="bold" text-anchor="middle" fill="#000" textLength="13.40" lengthAdjust="spacingAndGlyphs"  stroke="#000" stroke-width="0.3">250</text>
<text x="297.60" y="285.80" font-size="9.0" font-weight="bold" text-anchor="middle" fill="#000" textLength="63.30" lengthAdjust="spacingAndGlyphs"  stroke="#000" stroke-width="0.3">Forward Scatter</text>
<path d="M282.7 203.9h1.25M287.2 205.4h1.25M300.3 210.0h1.25M301.5 211.3h1.25M283.8 197.8h1.25M283.5 195.6h1.25M274.1 190.5h1.25M278.1 197.9h1.25M289.1 211.7h1.25M278.9 210.0h1.25M289.1 203.4h1.25M279.8 194.2h1.25M279.3 220.2h1.25M285.1 192.8h1.25M286.5 201.5h1.25M282.4 207.2h1.25M278.7 200.6h1.25M281.2 212.4h1.25M291.6 209.0h1.25M278.8 200.0h1.25M289.9 203.4h1.25M275.4 203.0h1.25M280.2 197.0h1.25M288.6 214.4h1.25M286.1 206.8h1.25M283.3 201.4h1.25M282.3 198.5h1.25M279.7 197.5h1.25M280.2 205.6h1.25M282.9 212.8h1.25M282.5 210.3h1.25M276.0 212.4h1.25M292.6 200.0h1.25M278.7 198.9h1.25M289.6 201.9h1.25M288.0 215.9h1.25M280.6 197.3h1.25M290.1 209.8h1.25M282.0 194.8h1.25M281.5 209.3h1.25M281.6 216.3h1.25M278.5 212.4h1.25M291.5 221.5h1.25M289.1 213.8h1.25M286.3 205.1h1.25M282.7 213.9h1.25M276.8 208.1h1.25M277.0 208.0h1.25M280.7 202.8h1.25M283.6 207.0h1.25M276.2 203.9h1.25M285.6 208.0h1.25M282.8 206.0h1.25M278.4 201.8h1.25M292.6 203.9h1.25M290.9 210.2h1.25M275.8 214.1h1.25M277.3 205.4h1.25M279.0 204.4h1.25M290.6 203.2h1.25M290.6 222.5h1.25M279.9 207.4h1.25M275.9 201.5h1.25M292.2 208.4h1.25M285.6 211.6h1.25M279.6 213.5h1.25M275.4 193.4h1.25M279.0 216.2h1.25M286.6 217.5h1.25M292.1 202.5h1.25M283.1 208.6h1.25M281.1 207.8h1.25M282.0 206.4h1.25M287.8 213.3h1.25M283.7 193.9h1.25M282.4 215.0h1.25M277.9 213.2h1.25M288.3 212.3h1.25M282.2 203.1h1.25M285.7 206.5h1.25M298.7 210.5h1.25M292.0 200.9h1.25M302.2 204.6h1.25M278.9 209.0h1.25M293.2 216.9h1.25M287.5 222.7h1.25M289.9 214.1h1.25M283.4 207.0h1.25M291.4 212.5h1.25M291.1 214.1h1.25M293.7 208.7h1.25M280.6 207.2h1.25M307.4 215.8h1.25M284.9 212.0h1.25M300.8 210.6h1.25M288.0 210.8h1.25M298.8 207.9h1.25M296.0 209.1h1.25M295.1 206.2h1.25M280.1 215.4h1.25M294.5 209.5h1.25M283.0 207.7h1.25M285.9 214.2h1.25M309.1 209.9h1.25M298.4 213.9h1.25M283.8 212.6h1.25M298.9 203.0h1.25M279.5 207.1h1.25M290.4 203.0h1.25M293.6 209.4h1.25M294.4 227.8h1.25M301.5 224.6h1.25M278.6 230.1h1.25M292.9 227.3h1.25M302.2 223.4h1.25M276.5 219.6h1.25M274.9 225.7h1.25M306.3 223.3h1.25M304.6 224.0h1.25M274.6 223.3h1.25M282.3 228.3h1.25M287.7 224.0h1.25M276.1 226.6h1.25M280.0 225.5h1.25M277.7 222.5h1.25M275.4 220.3h1.25M288.3 223.1h1.25M319.2 225.4h1.25M294.0 223.6h1.25M286.8 221.6h1.25M282.3 231.9h1.25M275.3 223.0h1.25M278.0 224.3h1.25M295.5 227.5h1.25M277.9 223.0h1.25M308.5 222.4h1.25M291.5 221.8h1.25M276.1 221.6h1.25M282.5 226.9h1.25M278.4 223.7h1.25M274.7 223.0h1.25M300.4 225.3h1.25M275.0 228.3h1.25M303.3 220.9h1.25M288.2 227.6h1.25M276.0 223.9h1.25M275.5 221.4h1.25M277.9 219.0h1.25M284.7 227.7h1.25M293.7 219.5h1.25M295.3 219.6h1.25M274.7 223.5h1.25M280.4 223.2h1.25M276.5 231.0h1.25M285.4 227.7h1.25M276.2 225.6h1.25M279.6 221.6h1.25M281.7 224.2h1.25M315.7 225.8h1.25M275.5 225.3h1.25M310.1 221.2h1.25M305.3 224.8h1.25M290.2 220.4h1.25M276.0 229.3h1.25M303.2 224.7h1.25M289.2 226.4h1.25M275.0 224.9h1.25M306.4 225.2h1.25M289.1 222.6h1.25M274.6 225.3h1.25M277.8 223.1h1.25M282.5 223.9h1.25M274.5 218.5h1.25M289.6 227.3h1.25M275.9 224.5h1.25M279.3 222.9h1.25M274.2 222.8h1.25M295.4 227.2h1.25M316.3 224.5h1.25M275.5 227.3h1.25M282.5 222.3h1.25M290.4 225.7h1.25M283.7 220.7h1.25M278.7 222.1h1.25M282.7 224.9h1.25M285.2 219.2h1.25M275.8 217.8h1.25M275.3 230.3h1.25M281.8 223.0h1.25M281.2 223.2h1.25M281.8 215.3h1.25M274.2 220.7h1.25M275.1 230.1h1.25M276.6 216.4h1.25M279.9 231.2h1.25M276.4 221.4h1.25M294.1 227.5h1.25M278.8 224.7h1.25M294.2 224.6h1.25M285.5 223.5h1.25M275.0 224.9h1.25M292.3 219.8h1.25M290.1 221.4h1.25M275.6 224.0h1.25M275.2 219.2h1.25M304.1 223.4h1.25M274.4 216.1h1.25M297.7 223.8h1.25M280.0 220.5h1.25M279.2 219.9h1.25M275.9 225.2h1.25M284.6 220.7h1.25M283.3 223.0h1.25M280.6 228.5h1.25M278.9 219.9h1.25M274.2 225.8h1.25M277.1 217.0h1.25M290.2 225.7h1.25M282.5 223.1h1.25M277.5 223.0h1.25M276.9 220.8h1.25M283.1 224.1h1.25M277.3 220.1h1.25M280.4 224.2h1.25M275.6 221.7h1.25M289.7 227.8h1.25M276.7 226.0h1.25M284.0 223.6h1.25M300.3 225.9h1.25M281.1 221.0h1.25M275.0 218.2h1.25M274.8 225.0h1.25M307.7 224.3h1.25M275.5 222.1h1.25M289.2 222.6h1.25M274.4 218.4h1.25M287.0 224.5h1.25M279.7 221.3h1.25M288.6 222.8h1.25M288.7 220.6h1.25M291.6 222.0h1.25M277.4 221.1h1.25M277.9 219.5h1.25M275.7 225.7h1.25M276.6 220.3h1.25M287.1 223.0h1.25M282.4 223.8h1.25M286.5 224.9h1.25M288.4 224.9h1.25M302.5 226.1h1.25M295.0 229.7h1.25M295.8 222.2h1.25M289.7 225.8h1.25M279.1 221.8h1.25M278.7 219.9h1.25M274.6 222.6h1.25M280.8 219.0h1.25M275.2 217.3h1.25M275.1 225.8h1.25M289.5 224.8h1.25M284.7 223.3h1.25M304.6 223.7h1.25M289.6 227.3h1.25M274.5 226.3h1.25M280.7 226.1h1.25M278.2 224.0h1.25M276.7 216.5h1.25M296.6 228.1h1.25M281.5 222.8h1.25M295.8 220.8h1.25M285.8 217.9h1.25M274.5 217.8h1.25M279.7 223.0h1.25M305.5 224.5h1.25M291.8 226.2h1.25M274.7 223.6h1.25M280.0 223.0h1.25M299.5 224.7h1.25M279.3 230.4h1.25M292.2 227.9h1.25M288.4 223.9h1.25M278.5 228.6h1.25M275.0 223.7h1.25M293.3 221.7h1.25M288.1 225.8h1.25M274.4 223.0h1.25M291.5 226.6h1.25M295.5 224.7h1.25M277.2 221.8h1.25M279.8 217.0h1.25M279.5 223.9h1.25M297.9 227.7h1.25M302.6 226.4h1.25M293.7 223.0h1.25M275.3 224.1h1.25M277.9 222.8h1.25M286.8 227.7h1.25M277.5 223.9h1.25M277.8 225.6h1.25M300.1 222.7h1.25M280.0 225.6h1.25M286.0 223.1h1.25M288.5 225.9h1.25M290.2 220.6h1.25M274.8 223.3h1.25M275.1 227.7h1.25M279.7 228.1h1.25M294.9 224.1h1.25M287.6 229.6h1.25M306.4 226.1h1.25M276.6 223.4h1.25M274.8 226.4h1.25M300.3 222.4h1.25M284.6 229.2h1.25M277.3 220.5h1.25M283.0 225.2h1.25M282.3 224.2h1.25M275.5 223.4h1.25M313.2 223.8h1.25M282.5 225.7h1.25M294.5 224.1h1.25M283.4 220.9h1.25M276.8 224.8h1.25M294.0 227.1h1.25M276.2 229.3h1.25M294.8 226.1h1.25M275.0 224.0h1.25M276.3 225.8h1.25M292.8 220.5h1.25M318.6 223.2h1.25M277.2 223.8h1.25M292.0 229.7h1.25M278.8 231.8h1.25M285.1 222.0h1.25M285.8 223.6h1.25M278.3 223.4h1.25M284.7 226.8h1.25M291.2 227.5h1.25M282.3 232.7h1.25M296.2 225.0h1.25M273.9 223.7h1.25M289.6 227.4h1.25M281.9 219.6h1.25M279.8 227.3h1.25M281.0 226.0h1.25M289.0 224.2h1.25M284.0 228.4h1.25M300.1 222.6h1.25M278.8 222.7h1.25M298.8 223.3h1.25M274.2 226.3h1.25M280.3 224.0h1.25M274.0 223.3h1.25M281.1 224.5h1.25M273.8 221.9h1.25M278.2 229.8h1.25M296.4 226.2h1.25M284.1 231.3h1.25M286.8 225.5h1.25M280.3 221.2h1.25M304.8 226.7h1.25M278.9 219.8h1.25M296.4 224.2h1.25M277.3 225.2h1.25M274.8 218.1h1.25M298.4 223.3h1.25M289.3 225.3h1.25M279.0 222.3h1.25M290.8 224.7h1.25M278.6 222.0h1.25M277.8 220.2h1.25M308.7 223.1h1.25M275.1 224.6h1.25M310.3 224.2h1.25M276.3 224.0h1.25M277.7 224.0h1.25M280.3 224.3h1.25M288.4 224.9h1.25M275.1 224.2h1.25M279.7 232.6h1.25M277.8 226.0h1.25M281.9 225.0h1.25M290.6 222.5h1.25M284.3 223.9h1.25M282.2 223.7h1.25M279.3 223.3h1.25M279.8 218.6h1.25M283.0 229.1h1.25M274.4 224.3h1.25M318.3 223.0h1.25M281.7 222.9h1.25M290.9 221.2h1.25M289.2 218.2h1.25M276.7 228.7h1.25M281.1 223.3h1.25M274.0 226.0h1.25M279.9 221.4h1.25M316.4 221.4h1.25M299.8 224.2h1.25M279.4 225.3h1.25M290.4 223.6h1.25M292.7 225.0h1.25M285.1 223.2h1.25M278.0 223.4h1.25M308.1 224.2h1.25M283.4 226.3h1.25M276.0 227.3h1.25M285.7 222.5h1.25M279.2 227.6h1.25M304.0 225.7h1.25M278.5 221.4h1.25M274.5 227.0h1.25M283.6 218.1h1.25M287.8 223.7h1.25M279.5 222.2h1.25M315.4 224.7h1.25M275.1 226.4h1.25M293.7 222.2h1.25M288.4 225.1h1.25M275.2 219.1h1.25M285.7 219.8h1.25M296.4 225.7h1.25M281.8 224.1h1.25M285.0 224.9h1.25M275.0 224.9h1.25M293.7 223.0h1.25M275.4 223.8h1.25M278.6 223.0h1.25M305.3 222.9h1.25M287.9 225.1h1.25M288.3 226.5h1.25M275.7 225.9h1.25M276.8 228.8h1.25M278.5 219.1h1.25M303.7 224.9h1.25M277.6 225.6h1.25M278.0 226.7h1.25M298.9 225.4h1.25M283.3 221.7h1.25M280.0 225.4h1.25M284.9 222.5h1.25M287.7 226.0h1.25M306.9 224.7h1.25M275.0 226.4h1.25M277.9 230.8h1.25M278.5 229.3h1.25M289.9 224.3h1.25M279.1 221.5h1.25M278.2 224.8h1.25M283.7 220.9h1.25M289.5 226.2h1.25M284.7 224.0h1.25M275.0 222.0h1.25M282.6 224.3h1.25M304.5 221.3h1.25M277.3 222.6h1.25M277.9 218.7h1.25M277.4 223.9h1.25M294.4 227.2h1.25M280.8 222.4h1.25M279.6 226.7h1.25M278.8 224.3h1.25M275.6 218.1h1.25M318.7 227.5h1.25M322.4 223.7h1.25M295.3 226.1h1.25M298.9 227.8h1.25M288.5 224.7h1.25M306.7 222.9h1.25M288.4 224.6h1.25M285.0 227.3h1.25M275.4 228.4h1.25M294.5 230.6h1.25M286.9 225.7h1.25M274.2 225.1h1.25M312.5 223.0h1.25M293.7 221.9h1.25M275.1 222.5h1.25M279.1 228.7h1.25M278.9 219.5h1.25M294.5 219.8h1.25M302.5 224.9h1.25M280.5 223.1h1.25M286.7 228.8h1.25M275.0 232.8h1.25M317.3 224.0h1.25M280.5 231.4h1.25M280.5 230.8h1.25M290.5 223.6h1.25M308.8 222.4h1.25M284.0 217.7h1.25M303.4 226.2h1.25M278.8 228.9h1.25M283.0 223.9h1.25M280.1 219.5h1.25M311.9 222.5h1.25M275.0 218.0h1.25M320.7 222.7h1.25M285.8 224.9h1.25M283.3 228.3h1.25M307.1 226.0h1.25M283.8 222.6h1.25M307.1 224.7h1.25M286.8 223.1h1.25M275.2 224.8h1.25M275.4 225.2h1.25M277.8 230.2h1.25M283.4 225.2h1.25M306.8 223.5h1.25M293.6 223.7h1.25M293.5 223.2h1.25M280.8 219.7h1.25M288.0 228.4h1.25M276.5 218.5h1.25M277.2 221.8h1.25M281.5 224.4h1.25M291.1 224.4h1.25M275.4 222.8h1.25M274.4 225.4h1.25M275.2 224.2h1.25M287.9 227.5h1.25M274.8 226.8h1.25M280.1 223.8h1.25M284.0 225.2h1.25M274.8 221.9h1.25M280.9 226.2h1.25M282.5 223.7h1.25M276.0 220.5h1.25M276.9 219.7h1.25M276.8 226.5h1.25M275.4 228.0h1.25M276.0 217.9h1.25M276.2 224.0h1.25M274.5 220.5h1.25M282.0 223.9h1.25M289.4 224.2h1.25M278.1 224.1h1.25M296.6 225.2h1.25M283.8 217.9h1.25M289.6 228.7h1.25M275.2 219.0h1.25M275.7 223.7h1.25M317.3 225.2h1.25M285.0 229.1h1.25M279.6 219.3h1.25M276.2 225.5h1.25M299.1 222.6h1.25M277.1 223.2h1.25M284.4 219.5h1.25M280.5 225.9h1.25M275.6 225.7h1.25M279.8 223.9h1.25M275.3 222.7h1.25M300.8 223.1h1.25M284.3 224.8h1.25M288.2 223.5h1.25M304.6 225.6h1.25M292.6 227.2h1.25M280.9 228.3h1.25M279.5 226.7h1.25M283.3 232.1h1.25M281.9 227.5h1.25M279.5 226.1h1.25M278.1 224.3h1.25M288.3 230.6h1.25M283.9 226.3h1.25M313.8 223.5h1.25M282.0 225.9h1.25M274.9 229.0h1.25M288.3 220.8h1.25M305.8 225.9h1.25M283.5 225.7h1.25M293.0 222.6h1.25M292.3 230.4h1.25M275.1 226.6h1.25M280.5 224.8h1.25M303.7 224.0h1.25M304.4 223.5h1.25M313.5 224.1h1.25M276.0 227.7h1.25M279.0 225.4h1.25M294.5 223.1h1.25M282.1 225.3h1.25M281.7 223.7h1.25M302.5 221.0h1.25M278.2 227.5h1.25M303.5 227.1h1.25M277.1 218.4h1.25M288.5 222.2h1.25M290.4 223.1h1.25M288.7 226.1h1.25M281.8 229.0h1.25M277.1 228.6h1.25M280.4 219.0h1.25M282.7 224.4h1.25M287.9 224.0h1.25M290.8 222.2h1.25M291.9 227.0h1.25M287.0 223.9h1.25M275.5 224.7h1.25M282.4 220.0h1.25M280.0 220.9h1.25M292.2 224.0h1.25M276.5 226.0h1.25M279.0 223.7h1.25M282.1 223.6h1.25M284.5 222.7h1.25M282.9 228.2h1.25M275.1 227.9h1.25M284.3 227.7h1.25M282.4 217.7h1.25M282.2 231.0h1.25M279.6 223.1h1.25M279.0 228.2h1.25M288.4 226.3h1.25M286.3 224.6h1.25M287.1 221.6h1.25M281.9 221.5h1.25M286.6 220.5h1.25M285.3 225.1h1.25M291.1 215.2h1.25M290.3 221.5h1.25M293.0 222.1h1.25M283.3 221.9h1.25M274.2 222.4h1.25M286.9 228.6h1.25M286.3 226.5h1.25M281.3 225.3h1.25M281.5 225.6h1.25M281.4 224.2h1.25M290.1 226.6h1.25M285.2 231.5h1.25M288.6 226.0h1.25M282.3 217.3h1.25M285.7 224.6h1.25M288.7 222.4h1.25M284.4 223.8h1.25M278.6 224.1h1.25M281.8 222.6h1.25M286.5 224.0h1.25M291.7 226.0h1.25M284.8 221.4h1.25M274.8 223.0h1.25M296.6 221.1h1.25M293.1 225.9h1.25M288.9 223.2h1.25M275.1 223.7h1.25M283.0 220.2h1.25M288.3 222.6h1.25M297.2 226.2h1.25M292.4 225.9h1.25M286.8 226.6h1.25M281.4 222.5h1.25M284.2 224.8h1.25M290.9 216.7h1.25M282.8 218.9h1.25M300.6 222.5h1.25M285.2 228.8h1.25M285.7 224.6h1.25M292.5 222.8h1.25M296.5 221.4h1.25M290.7 223.5h1.25M276.3 224.8h1.25M296.9 220.8h1.25M300.1 223.9h1.25M280.8 221.1h1.25M290.5 225.7h1.25M289.8 221.9h1.25M297.4 224.3h1.25M287.1 223.6h1.25M295.1 225.0h1.25M293.5 226.0h1.25M300.8 224.3h1.25M287.0 223.0h1.25M281.5 221.7h1.25M283.9 220.4h1.25M291.8 223.1h1.25M282.2 223.9h1.25M280.7 222.8h1.25M299.9 227.4h1.25M295.7 222.8h1.25M288.7 225.9h1.25M278.0 223.8h1.25M276.0 223.5h1.25M281.9 225.7h1.25M292.5 222.2h1.25M289.5 224.2h1.25M292.5 226.5h1.25M290.4 226.6h1.25M283.1 223.8h1.25M298.4 223.7h1.25M281.3 226.3h1.25M286.3 229.8h1.25M296.4 218.0h1.25M282.2 227.1h1.25M285.2 226.8h1.25M290.1 221.2h1.25M278.2 221.7h1.25M277.9 226.2h1.25M278.3 226.5h1.25M290.0 218.4h1.25M287.0 223.7h1.25M283.5 223.4h1.25M279.2 227.6h1.25M277.4 220.5h1.25M277.2 228.6h1.25M291.1 224.0h1.25M281.5 226.4h1.25M292.7 219.6h1.25M299.7 218.0h1.25M293.2 231.4h1.25M283.5 234.2h1.25M287.0 226.9h1.25M284.2 229.2h1.25M293.6 222.8h1.25M282.3 225.7h1.25M291.2 227.7h1.25M298.9 224.7h1.25M288.3 224.3h1.25M285.5 219.8h1.25M290.2 219.8h1.25M283.4 226.9h1.25M282.2 223.4h1.25M287.1 228.4h1.25M278.7 228.6h1.25M282.8 224.8h1.25M287.0 229.6h1.25M289.8 219.9h1.25M283.1 218.5h1.25M285.9 221.4h1.25M281.3 223.9h1.25M298.5 221.3h1.25M280.8 225.0h1.25M296.1 226.6h1.25M290.4 225.4h1.25M275.1 227.0h1.25M284.8 219.6h1.25M288.1 224.8h1.25M279.9 224.4h1.25M282.7 224.6h1.25M308.6 220.5h1.25M303.9 224.1h1.25M302.6 221.8h1.25M297.6 220.1h1.25M306.2 220.4h1.25M312.3 221.1h1.25M303.7 223.0h1.25M311.0 221.5h1.25M310.9 221.4h1.25M299.7 223.6h1.25M304.9 222.1h1.25M302.1 219.0h1.25M317.1 225.6h1.25M312.9 219.5h1.25M303.8 224.4h1.25M304.2 224.6h1.25M298.4 221.4h1.25M305.0 225.6h1.25M297.2 222.9h1.25M312.3 226.0h1.25M310.4 222.9h1.25M311.7 220.9h1.25M311.5 223.0h1.25M308.9 223.6h1.25M308.2 221.7h1.25M312.9 223.0h1.25M308.4 222.7h1.25M304.1 222.1h1.25M297.5 221.8h1.25M299.6 224.0h1.25M304.8 220.6h1.25M303.8 222.9h1.25M311.1 223.3h1.25M304.2 222.7h1.25M301.5 223.1h1.25M308.3 226.3h1.25M306.1 224.2h1.25M312.2 225.5h1.25M302.4 220.8h1.25M308.2 223.0h1.25M305.3 223.7h1.25M306.1 220.5h1.25M303.2 221.8h1.25M304.6 224.1h1.25M305.6 223.4h1.25M311.0 223.7h1.25M300.1 224.4h1.25M304.0 222.0h1.25M319.6 221.1h1.25M297.3 223.1h1.25M295.7 244.1h1.25M291.3 249.6h1.25M298.0 249.3h1.25M290.1 244.3h1.25M296.9 242.2h1.25M285.5 243.7h1.25M290.3 251.7h1.25M278.4 246.7h1.25M291.2 241.9h1.25M291.9 251.8h1.25M293.3 250.0h1.25M283.6 248.3h1.25M295.6 248.0h1.25M293.0 247.2h1.25M289.5 247.8h1.25M287.8 246.3h1.25M279.0 245.3h1.25M288.0 247.3h1.25M289.6 243.1h1.25M285.7 243.3h1.25M289.0 242.7h1.25M284.0 250.6h1.25M294.6 241.9h1.25M296.4 241.8h1.25M303.1 251.5h1.25M287.7 252.7h1.25M287.2 246.0h1.25M291.4 241.1h1.25M290.1 244.4h1.25M283.4 245.8h1.25M297.8 244.8h1.25M283.9 252.1h1.25M287.2 242.3h1.25M300.6 240.0h1.25M288.7 240.0h1.25M292.4 246.2h1.25M302.8 250.3h1.25M295.5 247.9h1.25M290.0 249.1h1.25M282.1 249.4h1.25M284.9 254.5h1.25M290.7 249.1h1.25M283.7 243.6h1.25M285.5 247.0h1.25M286.4 245.9h1.25M287.5 244.2h1.25M296.0 246.1h1.25M283.0 247.4h1.25M295.0 249.9h1.25M292.3 243.5h1.25M297.0 247.2h1.25M278.9 250.0h1.25M285.5 246.5h1.25M279.1 249.5h1.25M291.9 246.3h1.25M289.3 249.3h1.25M298.9 255.6h1.25M301.1 241.7h1.25M291.1 240.9h1.25M280.1 244.4h1.25M282.2 243.2h1.25M290.1 242.6h1.25M288.1 249.4h1.25M283.9 245.1h1.25M286.7 239.2h1.25M296.1 246.4h1.25M282.0 239.7h1.25M294.8 242.7h1.25M298.4 247.0h1.25M294.1 245.2h1.25M302.0 249.2h1.25M294.9 247.9h1.25M283.9 245.2h1.25M293.8 246.9h1.25M293.8 246.2h1.25M287.2 245.6h1.25M293.2 241.0h1.25M299.2 248.8h1.25M288.8 246.1h1.25M293.1 248.3h1.25M286.7 243.7h1.25M288.8 243.5h1.25M294.2 248.3h1.25M298.1 247.2h1.25M285.9 244.6h1.25M279.0 240.0h1.25M278.7 246.7h1.25M292.6 248.7h1.25M294.3 246.8h1.25M294.4 237.9h1.25M291.8 247.7h1.25M285.2 246.6h1.25M296.8 245.0h1.25M283.8 251.2h1.25M283.2 245.1h1.25M279.1 245.7h1.25M299.5 250.3h1.25M295.6 248.2h1.25M288.7 246.1h1.25M286.1 245.9h1.25M280.7 249.5h1.25M293.0 249.4h1.25M300.1 246.3h1.25M288.9 240.8h1.25M303.7 248.9h1.25M292.3 249.5h1.25M282.2 248.5h1.25M291.2 241.0h1.25M290.7 246.2h1.25M290.4 242.8h1.25M302.3 246.2h1.25M301.1 248.2h1.25M302.6 248.3h1.25M291.2 242.4h1.25M298.3 249.7h1.25M290.4 245.5h1.25M288.2 251.2h1.25M282.7 249.7h1.25M287.6 246.6h1.25M281.7 244.2h1.25M287.4 253.5h1.25M291.8 243.0h1.25M296.9 250.2h1.25M286.9 245.1h1.25M282.6 242.6h1.25M275.5 242.8h1.25M287.0 247.1h1.25M289.6 247.6h1.25M287.5 246.0h1.25M280.4 239.4h1.25M285.9 255.1h1.25M282.2 249.4h1.25M295.3 244.0h1.25M283.3 252.1h1.25M300.5 249.1h1.25M298.5 246.9h1.25M276.8 240.8h1.25M289.4 253.8h1.25M294.7 249.2h1.25M290.2 246.3h1.25M290.6 248.0h1.25M280.6 245.0h1.25M283.3 249.3h1.25M274.5 244.7h1.25M287.0 248.5h1.25M288.3 246.1h1.25M286.2 244.2h1.25M277.4 244.5h1.25M292.6 243.9h1.25M284.5 247.6h1.25M295.4 244.9h1.25M288.1 243.5h1.25M291.0 244.2h1.25M297.4 250.2h1.25M291.5 246.2h1.25M291.5 240.9h1.25M280.7 250.7h1.25M298.5 246.8h1.25M287.0 249.5h1.25M293.6 247.2h1.25M295.4 247.3h1.25M288.1 244.8h1.25M293.7 243.5h1.25M287.8 246.5h1.25M283.7 244.7h1.25M280.3 243.3h1.25M281.4 246.9h1.25M292.8 248.2h1.25M290.7 241.8h1.25M292.2 245.4h1.25M282.7 252.3h1.25M301.4 246.6h1.25M286.9 240.9h1.25M300.9 245.2h1.25M282.5 244.1h1.25M282.1 240.9h1.25M296.1 248.0h1.25M295.4 246.5h1.25M290.8 247.2h1.25M280.7 249.0h1.25M302.7 244.7h1.25M277.7 248.6h1.25M289.7 249.4h1.25M288.3 240.3h1.25M292.5 247.1h1.25M294.3 248.4h1.25M282.8 247.2h1.25M301.3 237.7h1.25M300.8 250.3h1.25M284.9 247.5h1.25M297.3 237.5h1.25M289.5 249.0h1.25M296.5 242.7h1.25M296.1 250.1h1.25M288.0 242.1h1.25M274.8 248.0h1.25M295.2 244.3h1.25M300.1 246.4h1.25M296.9 247.1h1.25M287.2 247.4h1.25M279.5 251.5h1.25M288.5 242.0h1.25M292.9 239.6h1.25M288.7 247.8h1.25M295.0 247.8h1.25M282.9 248.9h1.25M291.2 242.6h1.25M291.9 245.2h1.25M299.5 242.9h1.25M292.1 242.7h1.25M293.2 252.1h1.25M282.9 244.6h1.25M289.8 243.4h1.25M278.8 245.4h1.25M284.9 247.0h1.25M288.7 238.7h1.25M283.9 250.3h1.25M299.5 242.8h1.25M289.4 241.4h1.25M281.4 249.0h1.25M293.3 249.9h1.25M284.5 250.5h1.25M280.6 250.4h1.25M299.3 251.4h1.25M293.2 245.6h1.25M285.6 249.7h1.25M291.7 241.9h1.25M285.8 251.3h1.25M280.5 243.4h1.25M295.3 242.8h1.25M287.1 251.4h1.25M274.7 251.9h1.25M291.9 250.3h1.25M287.7 244.4h1.25M281.5 247.6h1.25M299.0 246.1h1.25M287.3 248.6h1.25M291.3 246.1h1.25M296.0 249.7h1.25M297.2 252.3h1.25M279.2 245.7h1.25M308.7 243.2h1.25M301.8 245.1h1.25M283.7 245.1h1.25M283.5 247.5h1.25M293.8 245.8h1.25M283.3 246.8h1.25M297.0 249.3h1.25M294.4 246.8h1.25M293.7 245.5h1.25M282.7 248.0h1.25M282.5 246.5h1.25M289.7 239.3h1.25M285.4 245.8h1.25M292.7 245.2h1.25M294.8 246.9h1.25M281.9 245.8h1.25M275.0 243.9h1.25M289.3 251.3h1.25M287.3 243.8h1.25M274.7 246.2h1.25M308.6 243.0h1.25M288.4 246.6h1.25M277.6 249.8h1.25M282.9 236.6h1.25M283.5 251.0h1.25M283.6 252.5h1.25M277.5 247.2h1.25M281.7 240.8h1.25M290.3 245.8h1.25M283.3 250.2h1.25M287.1 251.0h1.25M279.7 245.8h1.25M292.1 246.6h1.25M289.9 245.9h1.25M286.2 248.6h1.25M284.3 241.4h1.25M288.9 235.7h1.25M292.0 247.4h1.25M285.7 249.6h1.25M289.4 250.5h1.25M284.4 242.5h1.25M291.6 243.3h1.25M284.0 249.4h1.25M299.6 243.7h1.25M293.3 247.3h1.25M287.9 243.5h1.25M287.9 247.1h1.25M282.7 255.6h1.25M280.5 244.3h1.25M311.2 251.1h1.25M278.2 244.8h1.25M293.3 242.9h1.25M292.0 249.5h1.25M284.9 250.9h1.25M284.5 250.2h1.25M294.0 246.8h1.25M284.5 240.9h1.25M287.5 248.0h1.25M291.5 244.6h1.25M279.5 253.0h1.25M284.1 245.0h1.25M281.4 246.0h1.25M278.6 248.2h1.25M285.1 251.2h1.25M297.0 246.4h1.25M287.5 245.3h1.25M275.4 243.5h1.25M292.7 242.4h1.25M295.1 245.4h1.25M301.8 248.6h1.25M291.4 245.7h1.25M291.8 244.7h1.25M298.3 242.4h1.25M282.3 248.1h1.25M303.4 250.5h1.25M296.4 242.8h1.25M286.4 248.4h1.25M290.5 240.6h1.25M289.2 245.9h1.25M291.8 245.9h1.25M289.9 245.7h1.25M280.7 252.4h1.25M278.9 247.5h1.25M297.5 249.4h1.25M296.8 248.5h1.25M281.0 249.9h1.25M288.0 247.5h1.25M295.5 235.9h1.25M283.5 249.0h1.25M286.4 246.1h1.25M294.8 245.3h1.25M292.8 246.6h1.25M284.5 250.5h1.25M287.1 250.6h1.25M286.1 246.2h1.25M286.1 247.2h1.25M299.8 244.5h1.25M287.9 248.6h1.25M293.3 254.1h1.25M288.3 245.9h1.25M301.3 245.2h1.25M288.6 248.8h1.25M289.6 244.0h1.25M287.4 246.1h1.25M294.7 251.2h1.25M275.8 247.4h1.25M287.7 250.5h1.25M280.9 240.9h1.25M282.8 243.5h1.25M286.4 252.3h1.25M300.6 244.1h1.25M279.2 247.7h1.25M287.5 245.5h1.25M276.0 250.7h1.25M301.2 240.3h1.25M287.9 249.8h1.25M292.3 241.3h1.25M287.4 244.2h1.25M303.4 249.6h1.25M296.0 244.0h1.25M290.6 241.1h1.25M291.6 248.4h1.25M279.6 245.3h1.25M279.8 247.5h1.25M305.4 244.7h1.25M286.4 247.9h1.25M291.7 250.6h1.25M296.3 249.4h1.25M300.2 242.0h1.25M280.4 247.5h1.25M296.8 246.1h1.25M297.3 242.4h1.25M289.6 248.1h1.25M291.4 251.1h1.25M279.7 251.8h1.25M291.1 246.7h1.25M288.9 243.5h1.25M294.8 250.0h1.25M286.8 247.7h1.25M293.3 250.6h1.25M300.5 245.7h1.25M279.5 249.3h1.25M283.5 248.6h1.25M301.3 247.2h1.25M282.5 251.7h1.25M279.8 247.5h1.25M302.4 248.6h1.25M288.2 243.2h1.25M291.0 245.8h1.25M285.9 247.3h1.25M286.3 247.6h1.25M289.9 246.1h1.25M288.6 245.3h1.25M291.7 252.8h1.25M296.0 251.4h1.25M285.6 246.4h1.25M282.2 249.6h1.25M294.8 241.7h1.25M285.4 244.1h1.25M291.9 254.5h1.25M279.8 243.0h1.25M290.6 247.6h1.25M282.7 246.2h1.25M289.1 244.9h1.25M285.6 247.2h1.25M276.3 242.0h1.25M280.4 246.4h1.25M280.1 249.6h1.25M286.2 247.3h1.25M288.0 252.0h1.25M292.5 245.6h1.25M295.3 245.4h1.25M283.2 246.6h1.25M291.2 252.9h1.25M298.0 239.1h1.25M284.7 249.9h1.25M284.8 246.6h1.25M291.9 249.0h1.25M287.2 242.6h1.25M280.1 244.8h1.25M295.9 249.9h1.25M297.7 254.3h1.25M290.6 253.3h1.25M291.7 249.3h1.25M298.4 243.1h1.25M297.4 243.5h1.25M295.8 245.0h1.25M306.5 247.3h1.25M295.8 243.5h1.25M282.5 249.2h1.25M288.1 245.3h1.25M301.1 246.5h1.25M287.9 255.0h1.25M282.3 249.2h1.25M295.9 241.9h1.25M293.1 241.1h1.25M302.3 251.7h1.25M291.4 251.2h1.25M287.5 248.5h1.25M288.8 248.2h1.25M282.1 253.3h1.25M307.3 249.2h1.25M286.8 253.4h1.25M282.5 249.6h1.25M308.6 246.9h1.25M278.1 242.9h1.25M300.4 247.5h1.25M276.1 246.0h1.25M292.4 248.7h1.25M280.5 244.7h1.25M309.4 243.0h1.25M313.3 246.6h1.25M300.8 246.9h1.25M297.6 248.1h1.25M297.0 249.1h1.25M293.6 248.3h1.25M293.5 250.5h1.25M295.2 248.6h1.25M297.8 246.6h1.25M290.7 247.8h1.25M288.5 243.1h1.25M295.1 246.7h1.25M283.9 246.0h1.25M291.1 242.6h1.25M285.5 249.8h1.25M291.4 242.1h1.25M286.1 243.0h1.25M297.8 245.4h1.25M298.3 246.9h1.25M293.0 244.8h1.25M283.0 241.3h1.25M284.1 246.9h1.25M288.6 246.7h1.25M291.2 244.5h1.25M295.3 255.6h1.25M294.6 245.7h1.25M282.7 240.0h1.25M293.2 245.9h1.25M299.1 246.6h1.25M285.7 248.3h1.25M288.9 240.6h1.25M306.6 246.3h1.25M284.9 250.4h1.25M283.1 248.6h1.25M290.2 245.5h1.25M284.9 249.4h1.25M275.4 243.2h1.25M291.1 239.2h1.25M284.4 245.3h1.25M281.7 243.1h1.25M298.9 246.8h1.25M287.6 251.9h1.25M281.5 243.9h1.25M290.6 246.9h1.25M292.2 243.7h1.25M300.9 238.9h1.25M295.7 243.6h1.25M286.5 247.8h1.25M297.5 247.1h1.25M298.7 247.2h1.25M276.4 242.6h1.25M282.3 250.2h1.25M295.0 246.6h1.25M299.0 254.6h1.25M290.9 254.0h1.25M286.9 251.4h1.25M297.9 239.4h1.25M289.0 247.9h1.25M277.0 245.0h1.25M294.0 244.4h1.25M275.1 247.8h1.25M282.1 247.6h1.25M287.3 247.1h1.25M301.2 246.3h1.25M287.0 245.3h1.25M286.1 249.1h1.25M286.6 242.2h1.25M293.0 244.0h1.25M294.5 243.5h1.25M287.9 245.6h1.25M280.3 248.9h1.25M277.9 239.6h1.25M292.2 252.7h1.25M286.0 245.4h1.25M290.3 250.7h1.25M290.4 256.5h1.25M285.4 245.4h1.25M297.6 243.5h1.25M291.6 238.9h1.25M288.5 248.7h1.25M286.9 243.4h1.25M287.4 249.5h1.25M301.8 245.8h1.25M284.9 246.5h1.25M288.9 247.0h1.25M297.1 248.4h1.25M300.3 252.7h1.25M284.1 251.2h1.25M280.3 248.5h1.25M292.1 248.3h1.25M279.0 241.4h1.25M281.7 245.1h1.25M284.5 246.8h1.25M283.8 247.4h1.25M293.1 245.6h1.25M296.6 244.1h1.25M300.0 247.3h1.25M297.9 243.7h1.25M284.9 241.6h1.25M289.0 253.6h1.25M289.1 250.9h1.25M290.2 240.9h1.25M289.2 248.7h1.25M283.6 247.6h1.25M284.1 243.9h1.25M293.1 252.6h1.25M279.6 244.3h1.25M310.6 244.5h1.25M290.7 249.3h1.25M284.1 249.4h1.25M287.1 248.3h1.25M284.2 249.1h1.25M293.5 239.5h1.25M288.0 241.2h1.25M292.1 243.6h1.25M294.6 241.6h1.25M279.3 248.2h1.25M295.8 250.3h1.25M289.0 245.4h1.25M294.9 247.9h1.25M294.0 251.5h1.25M300.0 241.8h1.25M291.0 251.1h1.25M286.2 244.5h1.25M293.2 240.8h1.25M286.0 254.5h1.25M295.6 242.1h1.25M304.7 248.9h1.25M291.6 250.9h1.25M295.2 245.7h1.25M303.9 246.6h1.25M287.2 245.3h1.25M284.5 248.2h1.25M294.6 242.5h1.25M284.8 244.0h1.25M300.6 243.2h1.25M291.5 243.7h1.25M293.0 246.5h1.25M287.0 246.2h1.25M288.3 244.3h1.25M285.7 240.8h1.25M292.5 249.2h1.25M293.9 244.7h1.25M293.8 249.1h1.25M287.8 244.7h1.25M282.0 241.2h1.25M294.4 242.7h1.25M277.9 251.4h1.25M299.3 245.7h1.25M286.7 247.3h1.25M297.6 246.2h1.25M281.5 246.0h1.25M294.0 246.5h1.25M297.3 257.6h1.25M293.4 248.1h1.25M292.1 244.8h1.25M306.1 246.3h1.25M293.2 247.9h1.25M312.7 252.4h1.25M286.1 251.4h1.25M293.3 241.6h1.25M297.9 245.3h1.25M291.8 248.4h1.25M295.0 243.6h1.25M307.1 244.4h1.25M288.5 249.0h1.25M287.0 248.5h1.25M287.8 246.1h1.25M322.9 245.0h1.25M298.2 245.9h1.25M296.3 254.9h1.25M293.8 242.9h1.25M293.6 246.7h1.25M298.2 252.0h1.25M312.5 245.4h1.25M301.9 242.2h1.25M303.4 249.8h1.25M304.2 251.6h1.25M286.4 245.3h1.25M291.0 250.4h1.25M296.9 241.7h1.25M312.6 244.4h1.25M289.4 248.2h1.25M310.8 246.8h1.25M305.6 243.1h1.25M292.3 244.5h1.25M284.0 245.6h1.25M310.3 244.9h1.25M300.4 246.4h1.25M292.0 249.3h1.25M301.1 240.5h1.25M291.0 258.9h1.25M289.2 245.6h1.25M292.9 246.3h1.25M309.9 248.0h1.25M296.8 242.1h1.25M292.7 253.0h1.25M296.6 244.6h1.25M292.7 247.0h1.25M280.2 239.2h1.25M288.0 240.0h1.25M292.1 239.1h1.25M281.7 242.4h1.25M289.7 236.4h1.25M282.8 238.3h1.25M284.0 237.4h1.25M296.6 234.5h1.25M287.7 234.6h1.25M286.0 230.4h1.25M283.4 236.7h1.25M281.6 236.8h1.25M286.7 238.7h1.25M276.1 234.6h1.25M278.4 238.0h1.25M305.8 236.3h1.25M287.9 230.1h1.25M281.4 229.1h1.25M284.3 234.1h1.25M295.3 234.9h1.25M286.7 240.8h1.25M289.6 236.5h1.25M295.9 236.7h1.25M286.6 238.9h1.25M282.8 237.0h1.25M284.1 238.6h1.25M292.2 241.8h1.25M298.6 234.5h1.25M291.3 234.3h1.25M299.7 229.4h1.25M295.3 234.1h1.25M305.8 236.4h1.25M288.8 232.5h1.25M302.1 233.3h1.25M293.7 239.4h1.25M291.1 233.5h1.25M276.6 239.2h1.25M282.8 239.8h1.25M285.7 238.9h1.25M291.1 234.7h1.25M286.7 236.6h1.25M302.6 245.6h1.25M291.1 239.3h1.25M291.8 228.8h1.25M277.5 239.4h1.25M285.5 239.4h1.25M298.5 233.1h1.25M278.2 235.1h1.25M289.9 232.9h1.25M285.2 235.2h1.25M288.5 240.0h1.25M287.4 238.3h1.25M283.2 235.5h1.25M293.7 237.0h1.25M282.1 235.2h1.25M296.7 237.3h1.25M275.7 233.5h1.25M281.5 235.3h1.25M284.3 235.8h1.25M294.0 237.1h1.25M291.2 231.6h1.25M282.0 242.8h1.25M289.2 233.5h1.25M300.3 239.7h1.25M281.6 233.3h1.25M287.5 231.0h1.25M279.2 242.4h1.25M295.1 235.5h1.25M276.8 235.7h1.25M300.1 233.4h1.25M275.0 219.7h1.25M277.4 238.2h1.25M279.0 230.4h1.25M284.6 227.9h1.25M280.2 232.6h1.25M275.6 223.6h1.25M275.3 249.2h1.25M281.2 234.7h1.25M280.5 224.6h1.25M280.2 240.3h1.25M279.8 244.4h1.25M276.3 221.7h1.25M276.6 234.3h1.25M283.9 237.1h1.25M280.9 229.8h1.25M273.8 222.8h1.25M284.0 231.9h1.25M280.4 239.2h1.25M287.1 227.4h1.25M274.5 215.9h1.25M278.5 239.4h1.25M285.6 229.6h1.25M278.2 215.5h1.25M284.2 226.9h1.25M279.6 240.0h1.25M277.4 215.5h1.25M278.7 226.0h1.25M279.7 238.5h1.25M276.2 209.2h1.25M281.6 243.0h1.25M286.2 259.1h1.25M281.5 218.9h1.25M276.1 227.5h1.25M283.1 240.3h1.25M282.0 245.3h1.25M279.8 233.8h1.25M275.7 230.4h1.25M279.1 230.2h1.25M276.6 246.8h1.25M274.2 252.2h1.25M275.4 218.0h1.25M278.9 224.3h1.25M277.1 237.6h1.25M276.7 233.7h1.25M279.7 243.5h1.25M279.0 249.0h1.25M282.1 222.8h1.25M278.6 229.4h1.25M279.6 234.9h1.25M283.1 224.6h1.25" stroke="#000" stroke-width="1.25" fill="none"/>
<path d="M334.5 188.5h1.3M326.8 227h1.3M332 243.7h1.3M344 247.7h1.3M303 197h1.3" stroke="#000" stroke-width="1.3"/>
<rect x="96.00" y="328.00" width="99.50" height="75.20" fill="none" stroke="#000" stroke-width="1.45"/>
<path d="M96.00 403.20L96.00 407.50M99.89 403.20L99.89 405.80M103.78 403.20L103.78 405.80M107.67 403.20L107.67 405.80M111.56 403.20L111.56 405.80M115.45 403.20L115.45 407.50M119.34 403.20L119.34 405.80M123.23 403.20L123.23 405.80M127.12 403.20L127.12 405.80M131.01 403.20L131.01 405.80M134.91 403.20L134.91 407.50M138.80 403.20L138.80 405.80M142.69 403.20L142.69 405.80M146.58 403.20L146.58 405.80M150.47 403.20L150.47 405.80M154.36 403.20L154.36 407.50M158.25 403.20L158.25 405.80M162.14 403.20L162.14 405.80M166.03 403.20L166.03 405.80M169.92 403.20L169.92 405.80M173.81 403.20L173.81 407.50M177.70 403.20L177.70 405.80M181.59 403.20L181.59 405.80M185.48 403.20L185.48 405.80M189.37 403.20L189.37 405.80M193.26 403.20L193.26 407.50M91.40 403.20L96.00 403.20M93.40 397.54L96.00 397.54M93.40 394.23L96.00 394.23M93.40 391.88L96.00 391.88M93.40 390.06L96.00 390.06M93.40 388.57L96.00 388.57M93.40 387.31L96.00 387.31M93.40 386.22L96.00 386.22M93.40 385.26L96.00 385.26M91.40 384.40L96.00 384.40M93.40 378.74L96.00 378.74M93.40 375.43L96.00 375.43M93.40 373.08L96.00 373.08M93.40 371.26L96.00 371.26M93.40 369.77L96.00 369.77M93.40 368.51L96.00 368.51M93.40 367.42L96.00 367.42M93.40 366.46L96.00 366.46M91.40 365.60L96.00 365.60M93.40 359.94L96.00 359.94M93.40 356.63L96.00 356.63M93.40 354.28L96.00 354.28M93.40 352.46L96.00 352.46M93.40 350.97L96.00 350.97M93.40 349.71L96.00 349.71M93.40 348.62L96.00 348.62M93.40 347.66L96.00 347.66M91.40 346.80L96.00 346.80M93.40 341.14L96.00 341.14M93.40 337.83L96.00 337.83M93.40 335.48L96.00 335.48M93.40 333.66L96.00 333.66M93.40 332.17L96.00 332.17M93.40 330.91L96.00 330.91M93.40 329.82L96.00 329.82M93.40 328.86L96.00 328.86M91.40 328.00L96.00 328.00" stroke="#000" stroke-width="1.15" fill="none"/>
<text x="88.50" y="409.10" font-size="10.2" font-weight="bold" text-anchor="start" fill="#000" textLength="7.80" lengthAdjust="spacingAndGlyphs" transform="rotate(-90 88.50 409.10)"  stroke="#000" stroke-width="0.2">10</text>
<text x="83.00" y="400.30" font-size="9.4" font-weight="bold" text-anchor="start" fill="#000" textLength="4.60" lengthAdjust="spacingAndGlyphs" transform="rotate(-90 83.00 400.30)"  stroke="#000" stroke-width="0.2">0</text>
<text x="88.50" y="390.30" font-size="10.2" font-weight="bold" text-anchor="start" fill="#000" textLength="7.80" lengthAdjust="spacingAndGlyphs" transform="rotate(-90 88.50 390.30)"  stroke="#000" stroke-width="0.2">10</text>
<text x="83.00" y="381.50" font-size="9.4" font-weight="bold" text-anchor="start" fill="#000" textLength="4.60" lengthAdjust="spacingAndGlyphs" transform="rotate(-90 83.00 381.50)"  stroke="#000" stroke-width="0.2">1</text>
<text x="88.50" y="371.50" font-size="10.2" font-weight="bold" text-anchor="start" fill="#000" textLength="7.80" lengthAdjust="spacingAndGlyphs" transform="rotate(-90 88.50 371.50)"  stroke="#000" stroke-width="0.2">10</text>
<text x="83.00" y="362.70" font-size="9.4" font-weight="bold" text-anchor="start" fill="#000" textLength="4.60" lengthAdjust="spacingAndGlyphs" transform="rotate(-90 83.00 362.70)"  stroke="#000" stroke-width="0.2">2</text>
<text x="88.50" y="352.70" font-size="10.2" font-weight="bold" text-anchor="start" fill="#000" textLength="7.80" lengthAdjust="spacingAndGlyphs" transform="rotate(-90 88.50 352.70)"  stroke="#000" stroke-width="0.2">10</text>
<text x="83.00" y="343.90" font-size="9.4" font-weight="bold" text-anchor="start" fill="#000" textLength="4.60" lengthAdjust="spacingAndGlyphs" transform="rotate(-90 83.00 343.90)"  stroke="#000" stroke-width="0.2">3</text>
<text x="88.50" y="333.90" font-size="10.2" font-weight="bold" text-anchor="start" fill="#000" textLength="7.80" lengthAdjust="spacingAndGlyphs" transform="rotate(-90 88.50 333.90)"  stroke="#000" stroke-width="0.2">10</text>
<text x="83.00" y="325.10" font-size="9.4" font-weight="bold" text-anchor="start" fill="#000" textLength="4.60" lengthAdjust="spacingAndGlyphs" transform="rotate(-90 83.00 325.10)"  stroke="#000" stroke-width="0.2">4</text>
<text x="76.00" y="366.60" font-size="9.6" font-weight="bold" text-anchor="middle" fill="#000" textLength="66.00" lengthAdjust="spacingAndGlyphs" transform="rotate(-90 76.00 366.60)"  stroke="#000" stroke-width="0.3">Propidium Iodide</text>
<text x="97.50" y="415.50" font-size="9" font-weight="bold" text-anchor="middle" fill="#000"  stroke="#000" stroke-width="0.3">0</text>
<text x="193.46" y="415.50" font-size="9" font-weight="bold" text-anchor="middle" fill="#000" textLength="18.30" lengthAdjust="spacingAndGlyphs"  stroke="#000" stroke-width="0.3">1000</text>
<text x="144.70" y="426.50" font-size="9.0" font-weight="bold" text-anchor="middle" fill="#000" textLength="63.30" lengthAdjust="spacingAndGlyphs"  stroke="#000" stroke-width="0.3">Forward Scatter</text>
<path d="M132.7 353.1h1.25M138.5 359.8h1.25M137.1 348.8h1.25M130.8 349.0h1.25M129.5 348.1h1.25M134.2 354.6h1.25M130.3 346.0h1.25M139.9 350.9h1.25M137.7 349.7h1.25M138.1 343.6h1.25M135.8 344.1h1.25M129.5 356.9h1.25M135.0 349.9h1.25M139.0 358.7h1.25M136.6 347.5h1.25M140.9 351.5h1.25M140.6 344.6h1.25M139.1 349.9h1.25M138.9 354.8h1.25M135.2 340.9h1.25M132.9 339.3h1.25M135.8 349.1h1.25M141.7 348.0h1.25M129.2 351.0h1.25M132.5 344.7h1.25M140.0 349.5h1.25M132.1 347.5h1.25M134.5 349.7h1.25M145.8 352.2h1.25M136.4 348.8h1.25M131.0 351.5h1.25M143.2 346.3h1.25M138.2 345.2h1.25M149.1 353.1h1.25M133.4 354.7h1.25M128.4 344.8h1.25M128.5 355.9h1.25M138.1 351.9h1.25M131.6 350.9h1.25M144.4 354.4h1.25M137.4 347.0h1.25M131.1 353.1h1.25M137.3 345.9h1.25M134.5 352.7h1.25M150.3 338.4h1.25M142.7 355.9h1.25M144.0 353.5h1.25M132.3 349.2h1.25M127.1 349.3h1.25M133.8 355.3h1.25M129.3 344.2h1.25M134.1 345.4h1.25M132.9 358.7h1.25M138.8 352.9h1.25M137.2 350.2h1.25M132.3 348.7h1.25M137.7 347.9h1.25M128.1 350.1h1.25M128.8 353.9h1.25M137.8 358.2h1.25M147.1 350.3h1.25M132.9 353.0h1.25M128.5 349.9h1.25M135.7 349.7h1.25M141.5 349.3h1.25M133.5 351.0h1.25M141.5 350.6h1.25M127.0 342.9h1.25M137.4 347.5h1.25M141.1 343.6h1.25M135.7 348.7h1.25M134.5 354.3h1.25M144.2 344.1h1.25M131.5 348.2h1.25M141.0 352.8h1.25M151.3 350.4h1.25M130.5 348.3h1.25M140.1 342.6h1.25M149.0 347.7h1.25M141.8 347.3h1.25M130.8 352.6h1.25M141.2 351.6h1.25M132.7 345.7h1.25M133.9 351.4h1.25M143.9 351.6h1.25M130.6 348.4h1.25M130.7 351.7h1.25M132.2 353.4h1.25M145.2 354.7h1.25M139.1 348.2h1.25M137.5 352.6h1.25M145.4 346.4h1.25M130.2 357.4h1.25M140.2 345.7h1.25M136.1 352.0h1.25M138.6 345.6h1.25M135.7 349.6h1.25M131.2 346.7h1.25M134.2 353.9h1.25M140.6 349.7h1.25M142.8 346.2h1.25M138.1 355.3h1.25M134.5 354.7h1.25M144.6 353.3h1.25M132.8 347.5h1.25M136.7 355.9h1.25M137.8 351.2h1.25M143.6 347.6h1.25M133.1 351.0h1.25M133.4 352.4h1.25M144.6 346.1h1.25M139.6 360.9h1.25M128.5 348.8h1.25M129.6 348.4h1.25M140.2 348.5h1.25M147.6 340.4h1.25M130.9 356.7h1.25M137.7 352.8h1.25M129.0 356.8h1.25M148.3 350.7h1.25M136.5 347.0h1.25M129.2 345.7h1.25M137.0 348.7h1.25M128.7 348.5h1.25M143.4 350.7h1.25M132.1 351.9h1.25M130.7 350.8h1.25M136.1 350.8h1.25M139.7 355.5h1.25M139.3 351.7h1.25M131.3 354.6h1.25M142.7 348.6h1.25M138.4 359.3h1.25M129.5 342.2h1.25M146.3 355.1h1.25M131.2 345.0h1.25M133.4 353.4h1.25M136.6 348.0h1.25M137.3 352.2h1.25M137.5 350.3h1.25M133.6 353.2h1.25M132.7 348.8h1.25M135.2 349.9h1.25M136.7 350.8h1.25M139.8 350.4h1.25M142.6 351.3h1.25M139.4 347.9h1.25M142.7 349.9h1.25M143.6 343.3h1.25M142.0 350.6h1.25M132.0 352.1h1.25M140.3 345.7h1.25M137.4 352.9h1.25M133.0 350.1h1.25M135.7 347.6h1.25M136.9 353.6h1.25M145.5 354.5h1.25M134.1 346.5h1.25M137.2 352.7h1.25M136.1 355.1h1.25M144.0 345.6h1.25M132.9 340.3h1.25M142.9 352.5h1.25M141.1 350.3h1.25M126.8 350.8h1.25M133.1 348.2h1.25M148.5 346.1h1.25M140.0 353.5h1.25M135.1 350.1h1.25M136.6 350.6h1.25M136.0 352.8h1.25M135.2 344.5h1.25M129.8 353.1h1.25M140.7 347.4h1.25M128.3 348.6h1.25M136.9 345.6h1.25M133.1 355.9h1.25M131.9 359.1h1.25M131.6 347.4h1.25M133.9 352.7h1.25M136.5 350.7h1.25M131.4 352.9h1.25M142.7 346.0h1.25M136.0 345.0h1.25M140.5 352.3h1.25M132.9 354.2h1.25M128.8 355.4h1.25M128.5 348.0h1.25M128.1 346.4h1.25M127.3 347.1h1.25M130.3 341.3h1.25M147.5 347.0h1.25M133.2 343.8h1.25M128.9 351.2h1.25M131.5 351.5h1.25M152.3 347.7h1.25M131.0 353.2h1.25M135.0 352.4h1.25M142.3 357.0h1.25M132.6 354.1h1.25M130.6 348.9h1.25M132.7 348.7h1.25M133.6 345.6h1.25M144.0 360.2h1.25M132.0 346.4h1.25M140.6 350.2h1.25M137.9 347.1h1.25M145.8 346.1h1.25M139.7 342.2h1.25M136.0 353.6h1.25M136.2 349.9h1.25M137.2 352.2h1.25M134.5 348.8h1.25M133.8 352.0h1.25M132.0 352.7h1.25M136.5 346.1h1.25M131.4 343.0h1.25M132.0 345.6h1.25M138.1 349.5h1.25M141.0 352.4h1.25M145.1 347.6h1.25M136.2 355.0h1.25M132.6 349.9h1.25M130.7 353.9h1.25M135.9 349.5h1.25M133.5 353.6h1.25M143.0 350.9h1.25M135.0 343.5h1.25M136.6 347.8h1.25M138.9 353.6h1.25M134.0 354.2h1.25M138.2 347.8h1.25M145.6 357.5h1.25M128.8 350.0h1.25M131.2 352.9h1.25M138.3 350.7h1.25M139.5 350.0h1.25M128.7 352.4h1.25M133.6 342.4h1.25M145.3 349.0h1.25M131.0 354.5h1.25M139.7 347.0h1.25M126.7 348.1h1.25M134.2 347.4h1.25M137.8 350.4h1.25M142.8 352.7h1.25M143.2 353.4h1.25M134.6 348.7h1.25M139.7 349.0h1.25M142.0 344.2h1.25M149.0 344.6h1.25M166.9 346.4h1.25M137.6 347.1h1.25M150.4 341.8h1.25M150.2 346.8h1.25M139.8 344.2h1.25M143.6 340.7h1.25M153.0 341.1h1.25M150.3 349.9h1.25M146.6 339.6h1.25M143.0 341.8h1.25M152.1 342.0h1.25M137.9 342.6h1.25M149.4 339.5h1.25M148.0 342.3h1.25M160.9 343.8h1.25M135.9 343.7h1.25M144.0 340.3h1.25M147.8 340.5h1.25M161.0 351.1h1.25M136.3 339.5h1.25M149.1 343.7h1.25M144.6 346.8h1.25M145.3 342.2h1.25M151.0 340.3h1.25M148.3 343.8h1.25M141.0 341.4h1.25M144.4 351.0h1.25M164.5 344.1h1.25M147.1 341.8h1.25M145.9 347.0h1.25M144.1 338.7h1.25M160.3 342.7h1.25M159.4 341.9h1.25M153.2 335.6h1.25M160.8 368.7h1.25M131.2 360.2h1.25M140.4 363.5h1.25M130.3 359.3h1.25M145.4 360.8h1.25M141.5 361.7h1.25M130.4 363.2h1.25M130.6 357.1h1.25M132.6 361.4h1.25M151.4 363.2h1.25M157.3 364.8h1.25M166.0 363.8h1.25M148.3 362.7h1.25M156.2 361.7h1.25M134.7 366.4h1.25M130.6 364.7h1.25M128.9 363.7h1.25M134.9 363.0h1.25M130.3 369.3h1.25M140.4 369.1h1.25M129.3 369.4h1.25M139.2 359.6h1.25M149.8 364.5h1.25M131.0 361.0h1.25M127.1 365.3h1.25M133.9 360.4h1.25M132.0 362.6h1.25M136.9 364.5h1.25M126.3 360.0h1.25M126.6 364.9h1.25M155.8 364.4h1.25M133.8 365.3h1.25M133.9 365.1h1.25M185.1 362.0h1.25M129.2 366.6h1.25M152.4 367.6h1.25M129.7 359.4h1.25M138.6 364.7h1.25M129.0 360.2h1.25M128.6 365.0h1.25M134.3 356.8h1.25M137.1 366.5h1.25M147.8 367.7h1.25M127.1 363.6h1.25M139.7 366.2h1.25M132.5 372.4h1.25M127.9 368.7h1.25M130.4 368.6h1.25M134.2 363.2h1.25M131.0 362.7h1.25M153.9 363.4h1.25M130.0 365.3h1.25M139.3 364.9h1.25M129.0 362.6h1.25M148.3 366.2h1.25M137.7 364.5h1.25M139.6 367.4h1.25M139.8 361.7h1.25M145.8 365.6h1.25M140.8 363.1h1.25M138.1 363.7h1.25M129.0 361.6h1.25M128.8 365.9h1.25M129.8 363.4h1.25M131.8 363.7h1.25M151.2 363.2h1.25M128.8 359.7h1.25M169.5 365.7h1.25M137.1 361.4h1.25M150.5 360.1h1.25M128.0 364.3h1.25M133.2 367.8h1.25M139.8 361.4h1.25M138.7 364.4h1.25M142.4 369.3h1.25M130.1 365.8h1.25M136.0 362.9h1.25M142.0 365.7h1.25M129.2 363.2h1.25M137.3 368.7h1.25M130.6 365.1h1.25M129.8 363.1h1.25M127.4 361.0h1.25M143.1 365.0h1.25M128.3 364.1h1.25M134.7 364.1h1.25M133.4 370.8h1.25M142.6 359.1h1.25M138.5 369.2h1.25M127.6 360.8h1.25M131.2 365.8h1.25M128.9 364.6h1.25M138.8 364.7h1.25M127.8 368.0h1.25M134.8 358.0h1.25M136.9 363.0h1.25M135.3 365.8h1.25M144.5 364.9h1.25M126.1 363.4h1.25M131.6 360.4h1.25M144.6 362.4h1.25M125.8 367.4h1.25M130.6 364.2h1.25M127.3 360.0h1.25M135.6 367.4h1.25M134.5 364.8h1.25M177.7 365.4h1.25M126.4 364.8h1.25M132.3 364.6h1.25M138.0 361.3h1.25M135.1 369.2h1.25M128.0 366.5h1.25M133.9 363.4h1.25M137.6 363.4h1.25M152.8 362.8h1.25M126.2 368.9h1.25M141.4 369.8h1.25M132.4 365.1h1.25M151.1 363.8h1.25M131.4 368.0h1.25M156.4 366.3h1.25M133.2 357.4h1.25M154.8 367.6h1.25M143.5 365.0h1.25M127.4 361.4h1.25M157.3 364.2h1.25M128.5 365.3h1.25M142.7 366.4h1.25M139.1 361.1h1.25M131.0 358.9h1.25M138.1 363.8h1.25M168.9 363.6h1.25M127.4 359.1h1.25M139.6 363.1h1.25M129.8 367.1h1.25M127.5 363.1h1.25M161.3 365.8h1.25M138.6 369.0h1.25M130.6 363.3h1.25M147.4 364.1h1.25M135.6 366.4h1.25M134.2 365.4h1.25M159.6 366.7h1.25M147.5 364.8h1.25M141.7 364.0h1.25M143.2 362.9h1.25M137.2 364.7h1.25M141.4 369.0h1.25M150.1 362.7h1.25M128.6 361.8h1.25M131.2 365.6h1.25M128.0 362.0h1.25M139.4 367.1h1.25M127.0 364.0h1.25M142.4 362.3h1.25M134.8 364.9h1.25M133.3 361.4h1.25M131.5 367.8h1.25M145.2 361.8h1.25M129.9 366.8h1.25M157.2 362.6h1.25M148.2 363.7h1.25M126.4 368.1h1.25M136.6 365.6h1.25M129.8 367.5h1.25M139.1 367.4h1.25M131.7 360.9h1.25M153.1 363.5h1.25M127.1 362.8h1.25M142.0 366.3h1.25M163.3 363.2h1.25M135.6 363.8h1.25M163.9 363.1h1.25M127.4 366.4h1.25M130.9 364.9h1.25M131.9 363.4h1.25M147.6 365.2h1.25M164.8 367.0h1.25M151.5 366.3h1.25M126.6 364.3h1.25M146.5 359.5h1.25M138.7 365.9h1.25M157.5 364.3h1.25M144.4 370.5h1.25M140.3 366.5h1.25M131.9 359.2h1.25M159.6 365.9h1.25M130.6 357.2h1.25M126.6 363.1h1.25M128.2 364.8h1.25M130.6 362.3h1.25M173.2 364.2h1.25M140.5 361.5h1.25M135.6 362.5h1.25M128.5 364.2h1.25M161.2 361.2h1.25M133.1 360.7h1.25M149.3 365.1h1.25M130.7 360.1h1.25M136.5 366.1h1.25M138.7 366.3h1.25M127.8 367.8h1.25M134.3 364.8h1.25M134.0 366.1h1.25M132.8 370.9h1.25M152.4 363.5h1.25M126.4 362.7h1.25M166.6 363.4h1.25M139.1 363.5h1.25M145.0 363.4h1.25M127.9 361.5h1.25M131.3 362.4h1.25M148.8 365.1h1.25M133.7 365.9h1.25M129.1 370.6h1.25M148.3 362.7h1.25M154.7 364.0h1.25M158.8 365.0h1.25M129.2 360.0h1.25M138.6 359.1h1.25M130.0 363.0h1.25M141.7 363.6h1.25M132.6 366.5h1.25M135.5 366.7h1.25M149.2 361.7h1.25M127.2 366.4h1.25M157.1 365.6h1.25M126.7 363.9h1.25M131.0 358.1h1.25M135.4 359.2h1.25M132.1 360.3h1.25M153.0 364.4h1.25M147.8 362.0h1.25M152.7 363.1h1.25M183.2 364.4h1.25M151.7 362.3h1.25M132.2 361.8h1.25M127.7 365.2h1.25M129.2 368.9h1.25M138.4 365.3h1.25M162.7 364.5h1.25M130.6 360.1h1.25M129.5 368.4h1.25M127.1 360.8h1.25M126.6 370.9h1.25M126.9 362.7h1.25M141.9 365.8h1.25M132.1 365.5h1.25M128.7 361.6h1.25M142.6 366.8h1.25M142.6 359.9h1.25M154.1 362.0h1.25M133.8 364.4h1.25M163.0 365.0h1.25M134.6 371.4h1.25M126.5 370.1h1.25M156.5 363.5h1.25M126.7 367.7h1.25M166.8 364.1h1.25M152.1 362.0h1.25M131.8 364.7h1.25M130.1 359.5h1.25M133.8 361.9h1.25M127.6 365.4h1.25M131.5 367.9h1.25M139.9 367.3h1.25M131.3 364.2h1.25M140.1 366.1h1.25M140.2 364.0h1.25M141.6 364.1h1.25M130.0 367.3h1.25M136.4 362.6h1.25M138.2 361.4h1.25M132.0 367.3h1.25M135.0 364.3h1.25M129.7 359.8h1.25M129.4 360.4h1.25M176.2 363.1h1.25M140.7 359.8h1.25M142.4 366.3h1.25M127.9 368.2h1.25M135.4 367.7h1.25M152.7 365.6h1.25M182.9 367.9h1.25M126.6 366.2h1.25M133.1 363.5h1.25M164.8 359.9h1.25M127.6 359.9h1.25M142.8 362.7h1.25M128.9 364.7h1.25M132.0 362.3h1.25M129.9 365.3h1.25M132.7 371.4h1.25M137.6 366.3h1.25M142.9 365.1h1.25M128.2 367.1h1.25M132.8 363.8h1.25M134.4 359.9h1.25M159.9 366.6h1.25M134.4 360.3h1.25M133.1 370.0h1.25M130.0 367.3h1.25M141.2 362.2h1.25M137.5 357.8h1.25M140.4 367.7h1.25M135.3 363.5h1.25M143.4 360.7h1.25M171.7 364.5h1.25M132.9 364.2h1.25M136.3 364.8h1.25M125.9 368.7h1.25M142.5 367.8h1.25M136.8 363.4h1.25M129.4 361.4h1.25M136.5 361.4h1.25M136.9 366.9h1.25M128.0 360.0h1.25M127.5 367.1h1.25M159.7 363.4h1.25M139.4 366.3h1.25M127.9 368.5h1.25M173.3 364.0h1.25M146.8 367.0h1.25M152.5 365.4h1.25M138.9 362.7h1.25M137.8 361.8h1.25M135.3 365.4h1.25M135.8 365.5h1.25M130.8 358.5h1.25M127.7 371.1h1.25M134.3 363.8h1.25M133.1 360.4h1.25M143.9 365.7h1.25M176.3 363.3h1.25M134.6 365.8h1.25M163.0 365.9h1.25M129.1 367.2h1.25M130.8 367.2h1.25M144.7 365.3h1.25M128.3 368.2h1.25M134.9 373.5h1.25M138.7 368.9h1.25M144.6 360.8h1.25M129.3 361.5h1.25M136.3 366.7h1.25M129.1 363.2h1.25M129.6 369.8h1.25M148.2 362.8h1.25M145.1 362.6h1.25M136.7 365.1h1.25M129.0 363.8h1.25M154.3 363.1h1.25M129.2 363.1h1.25M139.5 369.6h1.25M130.7 364.9h1.25M130.1 369.3h1.25M134.3 361.8h1.25M137.2 371.2h1.25M134.4 364.9h1.25M138.0 364.1h1.25M135.4 367.5h1.25M142.8 365.2h1.25M153.7 361.5h1.25M132.3 367.2h1.25M128.0 362.7h1.25M126.9 359.9h1.25M146.2 363.6h1.25M154.4 364.0h1.25M141.7 361.9h1.25M136.3 364.9h1.25M129.2 372.3h1.25M144.0 367.0h1.25M132.2 363.1h1.25M149.2 364.6h1.25M133.3 366.8h1.25M127.8 368.8h1.25M132.1 364.6h1.25M132.0 359.2h1.25M139.1 366.1h1.25M145.4 360.8h1.25M137.9 357.6h1.25M139.8 360.9h1.25M148.9 359.6h1.25M148.1 365.6h1.25M128.2 354.1h1.25M160.6 362.3h1.25M129.0 373.3h1.25M132.1 369.1h1.25M160.8 363.7h1.25M155.5 366.2h1.25M138.2 361.2h1.25M134.1 363.7h1.25M127.6 363.7h1.25M131.4 360.3h1.25M129.1 361.6h1.25M129.9 361.3h1.25M127.2 364.6h1.25M130.1 366.5h1.25M144.4 366.4h1.25M130.1 364.5h1.25M131.7 364.4h1.25M135.9 363.9h1.25M135.1 361.8h1.25M141.9 364.3h1.25M129.1 362.8h1.25M175.1 364.1h1.25M130.6 361.5h1.25M127.4 362.8h1.25M134.2 370.5h1.25M127.2 361.8h1.25M147.3 363.5h1.25M132.0 366.4h1.25M176.0 363.2h1.25M132.9 370.1h1.25M131.3 366.8h1.25M137.5 360.4h1.25M140.7 361.8h1.25M134.3 360.7h1.25M139.2 365.2h1.25M135.6 366.5h1.25M160.5 360.6h1.25M149.4 365.4h1.25M135.6 362.4h1.25M165.1 366.5h1.25M128.6 362.3h1.25M130.2 368.2h1.25M153.8 362.9h1.25M154.0 360.5h1.25M126.6 367.2h1.25M128.1 362.4h1.25M141.4 362.9h1.25M133.8 364.8h1.25M154.4 364.4h1.25M142.7 364.1h1.25M135.0 367.3h1.25M130.6 362.4h1.25M131.4 367.1h1.25M150.7 367.9h1.25M131.6 366.1h1.25M131.3 360.3h1.25M129.2 358.5h1.25M127.3 360.0h1.25M148.3 362.5h1.25M135.1 363.2h1.25M157.0 366.5h1.25M137.5 362.6h1.25M164.7 360.5h1.25M139.1 363.5h1.25M127.5 363.1h1.25M129.9 359.3h1.25M126.6 356.3h1.25M143.9 368.0h1.25M140.1 365.8h1.25M138.6 365.2h1.25M132.9 365.4h1.25M184.5 364.5h1.25M178.3 365.6h1.25M135.1 360.8h1.25M129.7 370.5h1.25M130.1 368.1h1.25M136.6 365.3h1.25M145.1 364.4h1.25M185.7 365.4h1.25M131.5 359.8h1.25M135.8 365.9h1.25M171.0 365.5h1.25M144.2 359.5h1.25M131.9 363.1h1.25M162.9 365.8h1.25M143.3 366.0h1.25M140.0 363.5h1.25M145.3 361.6h1.25M129.7 362.8h1.25M146.7 363.8h1.25M129.8 360.6h1.25M152.6 363.8h1.25M141.2 362.3h1.25M130.5 366.1h1.25M151.2 364.0h1.25M128.2 374.2h1.25M151.0 362.5h1.25M135.2 372.2h1.25M127.3 355.6h1.25M136.4 363.6h1.25M154.6 363.6h1.25M140.0 360.2h1.25M128.5 364.2h1.25M145.7 367.1h1.25M138.9 361.3h1.25M142.2 367.2h1.25M135.2 363.9h1.25M146.9 361.6h1.25M130.9 365.1h1.25M127.8 362.2h1.25M138.3 363.3h1.25M127.7 368.0h1.25M142.1 368.2h1.25M138.3 362.8h1.25M128.2 367.7h1.25M127.0 361.7h1.25M171.0 364.4h1.25M130.1 359.3h1.25M141.8 363.9h1.25M138.5 359.9h1.25M137.5 367.9h1.25M134.8 367.2h1.25M141.7 358.4h1.25M150.4 365.1h1.25M134.7 363.8h1.25M151.7 368.6h1.25M130.6 367.1h1.25M134.3 366.0h1.25M167.1 363.4h1.25M150.0 364.8h1.25M179.4 361.4h1.25M146.3 364.6h1.25M129.0 364.9h1.25M127.4 359.8h1.25M145.3 361.6h1.25M155.9 363.0h1.25M138.3 368.1h1.25M126.8 358.3h1.25M140.3 359.3h1.25M143.4 359.5h1.25M135.2 363.3h1.25M137.8 366.5h1.25M147.3 364.7h1.25M134.0 366.4h1.25M128.7 365.0h1.25M144.3 363.2h1.25M173.2 366.5h1.25M131.3 358.7h1.25M134.2 364.2h1.25M128.7 366.4h1.25M134.6 364.7h1.25M126.3 362.6h1.25M129.3 364.2h1.25M136.1 366.3h1.25M142.6 363.1h1.25M146.5 364.1h1.25M128.3 359.4h1.25M155.7 364.5h1.25M156.3 364.0h1.25M126.8 359.2h1.25M126.6 373.2h1.25M133.7 364.2h1.25M132.8 367.5h1.25M144.2 362.6h1.25M136.6 359.7h1.25M151.4 363.5h1.25M126.7 362.4h1.25M127.9 365.3h1.25M138.5 359.3h1.25M134.7 360.0h1.25M169.9 364.6h1.25M139.0 363.6h1.25M139.6 360.7h1.25M137.0 360.2h1.25M135.5 359.7h1.25M135.4 367.2h1.25M153.8 360.8h1.25M135.1 360.9h1.25M129.3 364.7h1.25M134.4 364.0h1.25M145.5 365.3h1.25M135.3 359.3h1.25M163.0 364.1h1.25M127.9 368.9h1.25M142.4 364.2h1.25M134.8 370.4h1.25M126.9 365.8h1.25M144.6 366.3h1.25M131.4 370.8h1.25M144.8 367.1h1.25M136.7 359.1h1.25M145.9 364.9h1.25M126.0 366.2h1.25M126.3 363.5h1.25M162.4 364.0h1.25M134.0 361.2h1.25M133.6 369.3h1.25M172.2 367.2h1.25M165.1 363.0h1.25M128.4 360.4h1.25M139.2 366.0h1.25M126.9 359.0h1.25M149.9 362.0h1.25M127.4 361.6h1.25M128.7 359.7h1.25M127.2 361.6h1.25M130.2 360.7h1.25M128.3 367.9h1.25M150.0 362.5h1.25M183.3 364.2h1.25M135.7 369.7h1.25M127.7 363.2h1.25M130.6 364.0h1.25M139.5 368.2h1.25M128.5 364.7h1.25M167.3 364.9h1.25M131.1 362.1h1.25M129.5 364.1h1.25M127.6 368.1h1.25M133.1 364.2h1.25M130.4 359.7h1.25M133.2 363.6h1.25M132.9 364.1h1.25M126.8 364.2h1.25M165.6 363.1h1.25M134.0 364.8h1.25M129.5 364.1h1.25M133.4 366.1h1.25M132.5 361.9h1.25M136.2 362.7h1.25M126.2 360.5h1.25M128.3 362.5h1.25M168.7 366.1h1.25M128.7 369.4h1.25M143.4 360.4h1.25M132.1 364.9h1.25M154.1 363.9h1.25M141.6 366.0h1.25M127.0 367.3h1.25M140.7 365.1h1.25M128.8 367.6h1.25M130.6 368.6h1.25M136.9 360.7h1.25M137.2 363.8h1.25M140.3 366.7h1.25M127.8 367.5h1.25M176.2 365.3h1.25M136.7 365.2h1.25M149.6 363.2h1.25M175.5 366.1h1.25M134.8 367.5h1.25M127.6 367.3h1.25M139.6 362.1h1.25M147.9 362.4h1.25M142.3 363.7h1.25M142.1 362.8h1.25M126.8 367.4h1.25M144.8 362.8h1.25M130.5 368.2h1.25M181.6 365.7h1.25M135.7 369.4h1.25M138.1 366.7h1.25M137.0 364.0h1.25M143.4 363.4h1.25M131.2 360.9h1.25M134.0 366.3h1.25M167.9 364.7h1.25M134.1 361.2h1.25M129.2 361.5h1.25M128.4 373.3h1.25M131.0 363.6h1.25M133.9 362.5h1.25M136.4 367.8h1.25M127.2 365.8h1.25M134.9 365.3h1.25M132.0 362.0h1.25M127.8 362.4h1.25M147.3 364.8h1.25M158.5 364.8h1.25M126.8 360.4h1.25M170.6 365.1h1.25M146.7 362.2h1.25M152.7 364.8h1.25M135.9 369.0h1.25M142.1 364.4h1.25M140.0 368.7h1.25M161.2 365.1h1.25M135.1 362.7h1.25M130.7 368.3h1.25M156.7 367.3h1.25M148.8 363.0h1.25M141.4 358.6h1.25M147.1 362.7h1.25M133.1 365.6h1.25M142.8 364.5h1.25M136.8 362.7h1.25M129.7 367.7h1.25M133.3 365.4h1.25M154.0 365.3h1.25M129.9 360.4h1.25M135.4 364.1h1.25M138.4 363.2h1.25M185.0 362.2h1.25M128.6 363.1h1.25M162.3 364.9h1.25M159.4 364.7h1.25M126.8 361.6h1.25M186.4 363.2h1.25M140.8 369.7h1.25M149.3 364.5h1.25M139.3 368.9h1.25M130.1 364.4h1.25M187.9 365.2h1.25M128.1 365.6h1.25M145.9 365.0h1.25M130.2 364.0h1.25M144.9 370.7h1.25M143.2 357.9h1.25M150.9 363.1h1.25M137.4 361.7h1.25M153.1 364.6h1.25M132.1 364.3h1.25M146.8 355.4h1.25M144.3 362.1h1.25M133.1 368.5h1.25M140.5 369.2h1.25M150.0 362.2h1.25M145.9 367.4h1.25M134.2 371.1h1.25M148.0 366.4h1.25M138.1 357.3h1.25M131.9 364.6h1.25M135.4 358.5h1.25M137.5 359.4h1.25M145.2 360.4h1.25M141.4 369.6h1.25M137.7 367.9h1.25M128.7 362.9h1.25M138.1 364.5h1.25M137.6 358.5h1.25M159.3 363.3h1.25M143.6 364.0h1.25M162.6 364.6h1.25M130.3 359.1h1.25M131.5 362.2h1.25M141.5 364.2h1.25M135.0 361.8h1.25M145.0 362.4h1.25M143.8 363.6h1.25M128.2 366.2h1.25M142.9 365.4h1.25M135.3 365.9h1.25M130.9 366.1h1.25M156.6 363.5h1.25M143.8 361.7h1.25M142.5 366.9h1.25M148.4 367.6h1.25M145.7 363.0h1.25M136.0 359.0h1.25M130.6 368.9h1.25M152.5 362.0h1.25M129.2 361.6h1.25M136.7 363.2h1.25M128.4 362.9h1.25M145.0 361.0h1.25M149.7 367.2h1.25M138.7 363.4h1.25M131.5 361.1h1.25M127.6 359.3h1.25M130.4 368.6h1.25M144.2 363.8h1.25M147.2 366.3h1.25M135.5 359.5h1.25M139.3 359.1h1.25M150.2 369.6h1.25M134.6 351.7h1.25M143.9 363.4h1.25M150.1 367.9h1.25M157.1 367.0h1.25M148.8 362.4h1.25M156.3 363.0h1.25M150.4 369.7h1.25M140.7 365.2h1.25M146.7 362.6h1.25M138.9 368.8h1.25M139.4 364.3h1.25M145.3 363.6h1.25M131.2 364.2h1.25M133.7 362.5h1.25M127.3 366.5h1.25M142.9 363.0h1.25M130.3 366.1h1.25M142.1 363.6h1.25M152.4 365.0h1.25M138.5 361.1h1.25M127.1 364.4h1.25M147.0 366.8h1.25M131.5 361.9h1.25M131.8 363.6h1.25M143.4 359.2h1.25M136.5 361.2h1.25M146.4 362.5h1.25M148.3 367.9h1.25M144.2 365.6h1.25M151.1 361.5h1.25M141.9 363.0h1.25M134.1 360.3h1.25M137.8 361.2h1.25M155.2 360.7h1.25M148.5 363.8h1.25M134.1 366.6h1.25M135.6 360.8h1.25M141.9 367.0h1.25M128.0 364.9h1.25M134.3 363.3h1.25M133.1 361.1h1.25M137.8 362.5h1.25M136.4 365.2h1.25M134.7 360.2h1.25M131.7 364.1h1.25M159.9 365.9h1.25M142.2 362.4h1.25M140.2 363.1h1.25M130.9 365.2h1.25M144.2 367.2h1.25M130.9 366.4h1.25M133.6 364.0h1.25M151.2 357.0h1.25M146.7 361.4h1.25M128.9 364.1h1.25M129.4 362.9h1.25M132.1 362.1h1.25M136.0 360.0h1.25M135.5 361.7h1.25M146.5 365.1h1.25M137.1 368.6h1.25M137.1 360.7h1.25M136.2 363.6h1.25M129.3 374.1h1.25M147.5 363.1h1.25M153.1 364.3h1.25M132.4 359.4h1.25M140.6 368.0h1.25M140.9 366.1h1.25M146.3 365.9h1.25M153.3 359.7h1.25M140.5 364.0h1.25M138.1 364.8h1.25M129.4 366.3h1.25M159.1 359.8h1.25M149.7 366.1h1.25M128.2 365.1h1.25M128.6 365.3h1.25M139.3 359.9h1.25M138.5 359.2h1.25M129.4 357.6h1.25M136.6 369.6h1.25M142.7 366.9h1.25M135.1 366.3h1.25M141.5 362.5h1.25M147.1 360.8h1.25M140.0 364.4h1.25M136.7 356.5h1.25M137.1 361.8h1.25M129.3 355.8h1.25M135.2 369.8h1.25M153.1 367.1h1.25M140.9 362.9h1.25M135.7 362.4h1.25M141.3 366.6h1.25M146.0 359.1h1.25M135.1 365.8h1.25M149.4 362.6h1.25M142.1 367.8h1.25M146.7 357.4h1.25M146.0 367.0h1.25M137.1 363.3h1.25M141.9 360.6h1.25M140.3 369.1h1.25M134.2 364.9h1.25M135.8 367.2h1.25M131.1 362.1h1.25M128.2 363.7h1.25M147.5 365.6h1.25M131.3 362.9h1.25M140.5 361.2h1.25M135.4 368.9h1.25M142.6 362.9h1.25M134.7 363.2h1.25M139.0 362.4h1.25M137.7 365.0h1.25M154.3 361.9h1.25M144.7 358.3h1.25M127.8 366.0h1.25M134.8 366.5h1.25M142.5 366.5h1.25M137.2 362.7h1.25M139.9 364.2h1.25M142.7 368.5h1.25M141.6 363.8h1.25M132.2 365.0h1.25M134.2 370.3h1.25M136.2 367.1h1.25M153.4 360.8h1.25M147.5 360.7h1.25M132.7 362.4h1.25M143.7 366.6h1.25M148.5 370.8h1.25M162.7 372.2h1.25M130.7 369.8h1.25M148.0 362.1h1.25M135.3 362.3h1.25M152.0 360.8h1.25M144.2 353.9h1.25M135.0 363.2h1.25M140.6 366.1h1.25M132.3 361.0h1.25M140.1 367.2h1.25M146.6 358.2h1.25M134.2 361.6h1.25M130.7 359.8h1.25M155.6 366.1h1.25M145.2 359.0h1.25M135.2 358.6h1.25M138.2 364.6h1.25M144.1 359.3h1.25M132.9 360.6h1.25M133.7 367.9h1.25M149.9 362.8h1.25M150.0 361.0h1.25M136.9 365.5h1.25M144.1 359.3h1.25M137.0 362.2h1.25M150.3 366.9h1.25M134.8 361.3h1.25M141.5 363.3h1.25M144.8 360.9h1.25M154.9 366.6h1.25M180.2 359.6h1.25M171.8 361.9h1.25M160.9 359.7h1.25M161.5 361.5h1.25M176.5 355.5h1.25M170.0 359.8h1.25M191.0 361.6h1.25M159.4 361.3h1.25M169.4 356.7h1.25M171.1 362.7h1.25M162.9 363.0h1.25M175.2 366.3h1.25M158.4 361.5h1.25M150.4 360.1h1.25M163.2 361.0h1.25M171.2 356.0h1.25M154.3 362.6h1.25M159.6 359.7h1.25M180.6 360.0h1.25M171.7 360.0h1.25M165.8 356.4h1.25M168.1 360.9h1.25M156.5 360.7h1.25M164.1 362.0h1.25M165.1 364.8h1.25M142.0 358.8h1.25M164.9 362.0h1.25M145.6 366.4h1.25M176.6 359.5h1.25M168.1 361.2h1.25M170.3 365.6h1.25M172.1 365.9h1.25M164.1 359.3h1.25M164.7 358.3h1.25M165.3 360.3h1.25M176.9 358.8h1.25M175.9 357.2h1.25M148.7 365.2h1.25M186.3 365.6h1.25M172.7 365.5h1.25M187.8 361.6h1.25M186.1 356.8h1.25M167.9 365.2h1.25M176.7 361.2h1.25M167.9 362.9h1.25M159.8 361.8h1.25M165.5 356.5h1.25M167.9 360.9h1.25M180.8 364.5h1.25M160.5 361.3h1.25M154.8 365.7h1.25M164.6 360.5h1.25M174.8 359.4h1.25M149.6 358.4h1.25M160.4 355.1h1.25M185.2 364.0h1.25M161.3 355.4h1.25M182.5 361.9h1.25M183.3 358.2h1.25M172.3 362.4h1.25M185.5 360.3h1.25M158.0 362.8h1.25M162.0 355.4h1.25M156.5 367.2h1.25M164.7 359.2h1.25M166.9 361.2h1.25M176.4 359.5h1.25M172.2 357.7h1.25M158.1 358.0h1.25M162.8 364.1h1.25M165.7 365.6h1.25M162.2 359.2h1.25M173.8 362.9h1.25M162.5 362.7h1.25M166.9 363.3h1.25M192.4 362.5h1.25M174.8 364.2h1.25M168.9 360.9h1.25M186.5 361.2h1.25M178.1 360.7h1.25M163.4 359.7h1.25M179.8 361.8h1.25M162.1 356.6h1.25M172.4 362.9h1.25M161.2 358.6h1.25M177.0 358.5h1.25M182.9 359.7h1.25M173.5 358.6h1.25M153.6 368.8h1.25M156.9 365.3h1.25M147.2 364.8h1.25M142.2 359.1h1.25M164.7 366.3h1.25M153.5 359.7h1.25M149.7 362.0h1.25M162.8 359.7h1.25M141.5 365.5h1.25M138.9 365.2h1.25M151.2 365.5h1.25M156.6 359.7h1.25M147.3 359.7h1.25M159.4 367.1h1.25M159.9 366.3h1.25M142.4 361.4h1.25M144.0 367.1h1.25M160.0 366.4h1.25M139.7 364.4h1.25M139.7 365.4h1.25M148.4 357.0h1.25M155.3 365.3h1.25M139.7 369.0h1.25M161.9 361.6h1.25M146.5 364.0h1.25M144.8 361.1h1.25M140.4 366.5h1.25M166.8 365.3h1.25M133.3 366.5h1.25M151.3 368.3h1.25M154.5 358.1h1.25M140.2 359.9h1.25M139.5 365.0h1.25M148.7 366.0h1.25M163.4 364.1h1.25M147.0 368.9h1.25M169.8 367.0h1.25M138.5 364.1h1.25M140.6 362.8h1.25M141.9 360.6h1.25M144.1 368.8h1.25M162.6 363.8h1.25M150.1 361.0h1.25M140.5 363.7h1.25M138.3 367.0h1.25M142.0 361.5h1.25M151.6 372.4h1.25M158.6 357.4h1.25M151.7 369.7h1.25M149.4 362.2h1.25M150.1 362.7h1.25M135.4 360.1h1.25M151.9 369.5h1.25M150.1 365.2h1.25M146.3 361.8h1.25M151.2 363.6h1.25M154.9 364.3h1.25M148.3 369.2h1.25M158.2 362.6h1.25M156.8 362.7h1.25M153.0 365.8h1.25M145.9 365.8h1.25M132.8 363.2h1.25M156.9 369.8h1.25M154.8 364.1h1.25M132.1 363.9h1.25M168.0 359.1h1.25M147.4 362.9h1.25M142.5 367.5h1.25M149.6 364.5h1.25M161.1 362.7h1.25M157.6 363.4h1.25M146.8 363.2h1.25M144.0 367.9h1.25M142.1 366.4h1.25M138.0 363.1h1.25M145.7 362.5h1.25M158.2 368.3h1.25M155.2 362.3h1.25M146.5 364.0h1.25M136.1 363.2h1.25M148.7 361.2h1.25M156.8 363.3h1.25M152.5 366.3h1.25M159.6 364.9h1.25M140.8 360.5h1.25M144.9 370.2h1.25M144.3 367.7h1.25M152.6 365.4h1.25M160.1 370.7h1.25M134.1 353.5h1.25M132.8 357.6h1.25M137.7 361.9h1.25M126.2 354.3h1.25M135.4 358.6h1.25M129.0 355.0h1.25M127.9 354.6h1.25M133.5 355.6h1.25M135.0 356.1h1.25M127.8 356.7h1.25M137.4 358.0h1.25M129.5 358.5h1.25M130.9 353.0h1.25M130.4 355.4h1.25M130.2 359.9h1.25M130.5 354.5h1.25M131.7 360.4h1.25M132.2 354.1h1.25M129.7 355.9h1.25M130.9 355.7h1.25M128.5 355.7h1.25M139.2 358.7h1.25M129.6 355.0h1.25M131.3 355.5h1.25M137.1 359.7h1.25M135.6 362.1h1.25M134.5 354.9h1.25M131.2 357.3h1.25M133.2 359.6h1.25M135.1 356.2h1.25M130.3 354.9h1.25M130.5 361.8h1.25M139.2 358.8h1.25M131.0 355.5h1.25M128.5 360.8h1.25M129.9 358.5h1.25M130.5 350.3h1.25M129.1 360.4h1.25M131.0 350.6h1.25M134.9 357.7h1.25M129.2 355.4h1.25M132.1 355.3h1.25M132.9 354.0h1.25M140.1 356.4h1.25M130.5 358.0h1.25M137.4 357.4h1.25M130.4 355.2h1.25M129.8 354.6h1.25M132.6 359.5h1.25M133.0 356.5h1.25M133.8 360.5h1.25M133.1 360.2h1.25M129.5 358.0h1.25M134.7 354.9h1.25M132.8 357.0h1.25M130.2 351.7h1.25M128.2 357.1h1.25M128.4 354.9h1.25M130.1 351.9h1.25M128.3 358.5h1.25M136.9 386.0h1.25M132.3 382.9h1.25M136.9 384.8h1.25M127.1 387.3h1.25M136.0 383.2h1.25M132.9 386.9h1.25M149.0 388.6h1.25M131.2 381.1h1.25M140.0 388.3h1.25M144.2 388.5h1.25M148.9 388.9h1.25M129.2 384.5h1.25M130.1 390.6h1.25M148.1 388.7h1.25M154.0 387.6h1.25M127.1 384.0h1.25M140.9 383.2h1.25M135.1 385.6h1.25M140.7 376.3h1.25M138.9 382.9h1.25M128.6 387.1h1.25M129.3 391.7h1.25M139.9 385.4h1.25M137.8 395.0h1.25M141.6 386.8h1.25M138.2 389.2h1.25M127.8 388.4h1.25M127.9 386.0h1.25M140.5 379.7h1.25M130.1 386.4h1.25M139.4 386.6h1.25M137.7 390.1h1.25M134.9 383.6h1.25M133.4 388.6h1.25M139.5 384.3h1.25M129.2 385.4h1.25M138.7 384.3h1.25M145.9 390.9h1.25M133.0 388.3h1.25M131.9 382.0h1.25M133.9 382.2h1.25M134.9 387.0h1.25M140.6 386.1h1.25M135.5 385.0h1.25M136.2 392.4h1.25M136.8 390.2h1.25M137.2 388.8h1.25M133.3 376.8h1.25M135.5 382.7h1.25M133.2 388.8h1.25M141.2 385.8h1.25M135.1 387.0h1.25M134.1 381.9h1.25M134.1 384.6h1.25M130.1 386.9h1.25M142.3 384.4h1.25M132.1 385.4h1.25M134.4 390.6h1.25M144.3 388.7h1.25M145.4 385.7h1.25M131.2 383.3h1.25M146.5 385.0h1.25M147.4 383.6h1.25M131.8 386.6h1.25M138.7 386.0h1.25M147.6 381.5h1.25M145.1 383.8h1.25M130.3 386.9h1.25M135.2 385.2h1.25M128.2 385.7h1.25M139.0 394.1h1.25M141.1 387.2h1.25M135.6 388.4h1.25M143.2 390.9h1.25M126.2 386.4h1.25M149.1 379.5h1.25M130.5 383.4h1.25M145.0 385.4h1.25M135.2 388.5h1.25M139.5 386.6h1.25M143.9 384.9h1.25M141.6 387.0h1.25M134.0 392.2h1.25M143.8 381.0h1.25M141.2 383.3h1.25M140.2 391.1h1.25M142.0 386.8h1.25M150.4 381.0h1.25M152.4 385.1h1.25M131.6 391.4h1.25M140.2 382.4h1.25M139.7 389.0h1.25M149.5 383.9h1.25M142.7 382.8h1.25M136.1 381.6h1.25M139.9 382.8h1.25M142.5 385.5h1.25M132.7 386.2h1.25M140.4 385.2h1.25M140.2 386.3h1.25M141.4 389.7h1.25M134.1 386.1h1.25M131.9 386.4h1.25M137.5 388.7h1.25M126.9 388.3h1.25M133.4 383.6h1.25M137.6 386.8h1.25M143.3 381.9h1.25M144.7 381.7h1.25M138.0 384.1h1.25M131.6 388.7h1.25M140.5 383.8h1.25M150.3 386.5h1.25M143.5 386.9h1.25M136.8 389.4h1.25M136.4 384.5h1.25M142.7 388.0h1.25M144.2 390.3h1.25M128.7 384.3h1.25M145.1 394.0h1.25M155.1 385.8h1.25M128.6 387.8h1.25M145.5 388.8h1.25M134.7 388.9h1.25M138.6 385.3h1.25M133.2 386.6h1.25M147.0 388.5h1.25M127.2 389.6h1.25M143.6 384.7h1.25M138.5 384.7h1.25M146.2 386.6h1.25M129.4 384.3h1.25M150.9 390.0h1.25M136.1 392.2h1.25M143.3 386.0h1.25M135.5 376.4h1.25M134.6 383.7h1.25M148.0 389.2h1.25M137.1 388.9h1.25M132.7 386.0h1.25M141.0 386.2h1.25M127.4 380.5h1.25M142.3 388.9h1.25M142.0 391.2h1.25M137.3 383.7h1.25M146.0 387.8h1.25M142.5 383.4h1.25M150.8 387.4h1.25M136.8 388.6h1.25M135.6 391.2h1.25M138.3 393.3h1.25M142.1 384.2h1.25M131.6 383.2h1.25M140.7 382.5h1.25M143.8 389.5h1.25M139.8 392.4h1.25M137.5 388.6h1.25M137.5 390.4h1.25M133.8 394.2h1.25M142.2 380.0h1.25M144.8 380.8h1.25M139.2 389.9h1.25M141.7 387.5h1.25M139.3 383.5h1.25M132.8 388.5h1.25M138.9 384.8h1.25M142.1 384.7h1.25M148.5 385.6h1.25M141.0 383.3h1.25M135.7 382.2h1.25M130.9 384.7h1.25M139.6 389.9h1.25M140.7 390.9h1.25M138.1 381.7h1.25M138.1 385.9h1.25M137.8 385.2h1.25M145.6 385.3h1.25M129.5 388.9h1.25M145.2 381.5h1.25M130.1 383.8h1.25M138.6 387.5h1.25M137.0 382.4h1.25M137.8 382.2h1.25M142.9 386.3h1.25M142.1 387.1h1.25M130.6 383.8h1.25M127.2 380.9h1.25M138.8 387.5h1.25M133.5 388.0h1.25M136.3 388.5h1.25M136.7 384.7h1.25M126.3 389.9h1.25M142.0 385.9h1.25M145.8 387.7h1.25M126.1 385.9h1.25M146.9 386.7h1.25M140.3 384.8h1.25M147.8 389.6h1.25M144.7 389.7h1.25M138.6 381.6h1.25M139.8 388.6h1.25M128.4 382.8h1.25M148.6 388.3h1.25M137.8 383.0h1.25M131.7 390.5h1.25M144.6 385.8h1.25M142.0 388.6h1.25M147.7 386.3h1.25M136.9 389.9h1.25M142.1 389.4h1.25M126.5 381.3h1.25M139.8 383.8h1.25M148.1 386.9h1.25M133.8 385.9h1.25M142.1 387.9h1.25M139.5 391.6h1.25M144.1 389.0h1.25M151.9 386.1h1.25M135.6 392.1h1.25M137.1 386.4h1.25M133.9 382.7h1.25M138.3 388.8h1.25M137.5 381.8h1.25M137.9 379.8h1.25M139.2 387.5h1.25M145.3 390.8h1.25M138.2 390.4h1.25M140.9 389.3h1.25M133.2 387.8h1.25M133.8 387.7h1.25M151.0 383.5h1.25M146.0 383.5h1.25M143.9 383.3h1.25M132.0 379.7h1.25M140.7 388.8h1.25M133.9 387.8h1.25M133.2 386.8h1.25M134.8 388.0h1.25M145.1 389.5h1.25M139.5 388.6h1.25M128.5 385.4h1.25M135.9 384.7h1.25M130.9 386.3h1.25M146.4 386.2h1.25M140.9 388.5h1.25M140.0 391.5h1.25M143.0 388.9h1.25M135.2 385.2h1.25M127.4 384.3h1.25M137.7 390.5h1.25M151.5 383.4h1.25M148.4 379.7h1.25M151.8 385.5h1.25M132.5 388.0h1.25M128.6 385.9h1.25M138.8 393.8h1.25M142.6 385.9h1.25M142.7 388.0h1.25M140.1 385.8h1.25M139.2 384.1h1.25M134.4 389.3h1.25M149.4 377.5h1.25M129.0 388.1h1.25M144.0 386.1h1.25M132.0 383.2h1.25M144.7 385.4h1.25M142.1 387.4h1.25M136.8 395.5h1.25M139.2 384.8h1.25M149.9 381.0h1.25M131.3 383.8h1.25M132.5 391.4h1.25M143.4 385.0h1.25M134.9 383.6h1.25M148.1 382.3h1.25M142.3 386.8h1.25M129.4 385.2h1.25M139.5 397.0h1.25M140.0 384.5h1.25M138.6 393.6h1.25M151.8 385.9h1.25M132.6 384.1h1.25M154.7 385.7h1.25M142.9 386.4h1.25M147.7 379.8h1.25M128.9 382.7h1.25M132.0 386.4h1.25M143.3 383.6h1.25M133.9 389.7h1.25M142.4 384.5h1.25M140.4 382.6h1.25M129.5 374.4h1.25M132.8 378.0h1.25M128.6 377.2h1.25M130.0 379.1h1.25M131.5 377.9h1.25M132.3 372.4h1.25M137.0 374.9h1.25M129.9 377.2h1.25M131.6 374.9h1.25M133.5 384.5h1.25M132.7 380.5h1.25M135.1 371.1h1.25M128.3 369.8h1.25M130.5 378.3h1.25M131.6 380.9h1.25M145.0 373.5h1.25M139.6 363.7h1.25M127.7 374.4h1.25M138.6 379.4h1.25M136.4 378.4h1.25M135.8 372.3h1.25M131.5 371.6h1.25M140.9 374.0h1.25M134.6 378.1h1.25M129.5 374.4h1.25M134.8 375.4h1.25M129.5 371.4h1.25M134.8 378.1h1.25M129.6 377.5h1.25M136.4 374.6h1.25M138.8 377.6h1.25M141.3 373.3h1.25M128.7 372.1h1.25M144.2 366.4h1.25M131.7 372.0h1.25M133.6 371.9h1.25M133.5 376.5h1.25M135.2 382.1h1.25M143.2 373.6h1.25M132.7 375.5h1.25M132.8 370.1h1.25M126.2 381.6h1.25M127.2 378.1h1.25M129.4 376.8h1.25M139.8 373.5h1.25M132.2 374.3h1.25M126.1 379.0h1.25M144.5 379.3h1.25M136.8 368.7h1.25M141.2 376.5h1.25M137.4 375.4h1.25M135.9 379.3h1.25M137.0 377.8h1.25M128.6 375.5h1.25M129.2 373.7h1.25M136.7 377.9h1.25M137.2 374.2h1.25M134.3 373.0h1.25M132.3 369.9h1.25M135.8 373.8h1.25M134.7 375.2h1.25M127.7 370.0h1.25M136.8 376.3h1.25M129.6 374.4h1.25M129.2 383.0h1.25M137.0 378.5h1.25M145.5 366.2h1.25M133.6 375.6h1.25M131.7 375.1h1.25M133.7 380.0h1.25M132.8 366.4h1.25M140.5 373.1h1.25M132.8 374.4h1.25M146.3 377.5h1.25M134.2 372.7h1.25M134.7 371.4h1.25M134.8 378.5h1.25M139.5 377.4h1.25M136.5 376.3h1.25M130.8 378.2h1.25M135.7 379.2h1.25M132.2 379.0h1.25M141.0 382.2h1.25M144.0 370.2h1.25M130.7 390.4h1.25M130.7 382.3h1.25M127.1 380.6h1.25M128.8 371.5h1.25M132.5 375.5h1.25M128.9 351.6h1.25M129.3 361.9h1.25M129.5 391.7h1.25M128.2 373.4h1.25M131.6 343.8h1.25M127.4 360.0h1.25M130.3 363.5h1.25M130.0 369.1h1.25M127.4 377.0h1.25M133.0 372.9h1.25M130.3 368.0h1.25M131.3 366.7h1.25M129.3 369.7h1.25M128.7 384.1h1.25M130.2 368.7h1.25M126.9 388.7h1.25M128.2 379.4h1.25M129.5 377.9h1.25M130.2 349.1h1.25M129.8 365.2h1.25M128.6 383.7h1.25M131.0 380.8h1.25M126.9 392.2h1.25M127.2 355.3h1.25M126.6 365.0h1.25M127.2 388.8h1.25M127.7 351.2h1.25M129.4 366.2h1.25M127.2 353.4h1.25M127.0 350.1h1.25M128.7 342.2h1.25M130.5 374.6h1.25M126.4 346.9h1.25M129.3 350.7h1.25M128.4 346.2h1.25M128.9 384.6h1.25M126.3 374.7h1.25M128.6 390.9h1.25M130.8 372.5h1.25M126.7 381.5h1.25M127.7 374.9h1.25M130.9 388.1h1.25M129.0 375.6h1.25M133.2 374.5h1.25M129.1 365.7h1.25M132.9 367.8h1.25M126.6 352.6h1.25M129.8 370.6h1.25M127.3 363.2h1.25M128.7 354.7h1.25M133.2 370.6h1.25M129.2 386.1h1.25M127.8 375.9h1.25M130.3 347.2h1.25M126.4 370.2h1.25" stroke="#000" stroke-width="1.25" fill="none"/>
<rect x="252.40" y="328.00" width="99.10" height="75.20" fill="none" stroke="#000" stroke-width="1.45"/>
<path d="M252.40 403.20L252.40 407.50M256.27 403.20L256.27 405.80M260.15 403.20L260.15 405.80M264.02 403.20L264.02 405.80M267.90 403.20L267.90 405.80M271.77 403.20L271.77 407.50M275.65 403.20L275.65 405.80M279.52 403.20L279.52 405.80M283.40 403.20L283.40 405.80M287.27 403.20L287.27 405.80M291.15 403.20L291.15 407.50M295.02 403.20L295.02 405.80M298.90 403.20L298.90 405.80M302.77 403.20L302.77 405.80M306.65 403.20L306.65 405.80M310.52 403.20L310.52 407.50M314.40 403.20L314.40 405.80M318.27 403.20L318.27 405.80M322.15 403.20L322.15 405.80M326.02 403.20L326.02 405.80M329.90 403.20L329.90 407.50M333.77 403.20L333.77 405.80M337.65 403.20L337.65 405.80M341.52 403.20L341.52 405.80M345.40 403.20L345.40 405.80M349.27 403.20L349.27 407.50M247.80 403.20L252.40 403.20M249.80 397.54L252.40 397.54M249.80 394.23L252.40 394.23M249.80 391.88L252.40 391.88M249.80 390.06L252.40 390.06M249.80 388.57L252.40 388.57M249.80 387.31L252.40 387.31M249.80 386.22L252.40 386.22M249.80 385.26L252.40 385.26M247.80 384.40L252.40 384.40M249.80 378.74L252.40 378.74M249.80 375.43L252.40 375.43M249.80 373.08L252.40 373.08M249.80 371.26L252.40 371.26M249.80 369.77L252.40 369.77M249.80 368.51L252.40 368.51M249.80 367.42L252.40 367.42M249.80 366.46L252.40 366.46M247.80 365.60L252.40 365.60M249.80 359.94L252.40 359.94M249.80 356.63L252.40 356.63M249.80 354.28L252.40 354.28M249.80 352.46L252.40 352.46M249.80 350.97L252.40 350.97M249.80 349.71L252.40 349.71M249.80 348.62L252.40 348.62M249.80 347.66L252.40 347.66M247.80 346.80L252.40 346.80M249.80 341.14L252.40 341.14M249.80 337.83L252.40 337.83M249.80 335.48L252.40 335.48M249.80 333.66L252.40 333.66M249.80 332.17L252.40 332.17M249.80 330.91L252.40 330.91M249.80 329.82L252.40 329.82M249.80 328.86L252.40 328.86M247.80 328.00L252.40 328.00" stroke="#000" stroke-width="1.15" fill="none"/>
<text x="245.40" y="409.10" font-size="10.2" font-weight="bold" text-anchor="start" fill="#000" textLength="7.80" lengthAdjust="spacingAndGlyphs" transform="rotate(-90 245.40 409.10)"  stroke="#000" stroke-width="0.2">10</text>
<text x="239.90" y="400.30" font-size="9.4" font-weight="bold" text-anchor="start" fill="#000" textLength="4.60" lengthAdjust="spacingAndGlyphs" transform="rotate(-90 239.90 400.30)"  stroke="#000" stroke-width="0.2">0</text>
<text x="245.40" y="390.30" font-size="10.2" font-weight="bold" text-anchor="start" fill="#000" textLength="7.80" lengthAdjust="spacingAndGlyphs" transform="rotate(-90 245.40 390.30)"  stroke="#000" stroke-width="0.2">10</text>
<text x="239.90" y="381.50" font-size="9.4" font-weight="bold" text-anchor="start" fill="#000" textLength="4.60" lengthAdjust="spacingAndGlyphs" transform="rotate(-90 239.90 381.50)"  stroke="#000" stroke-width="0.2">1</text>
<text x="245.40" y="371.50" font-size="10.2" font-weight="bold" text-anchor="start" fill="#000" textLength="7.80" lengthAdjust="spacingAndGlyphs" transform="rotate(-90 245.40 371.50)"  stroke="#000" stroke-width="0.2">10</text>
<text x="239.90" y="362.70" font-size="9.4" font-weight="bold" text-anchor="start" fill="#000" textLength="4.60" lengthAdjust="spacingAndGlyphs" transform="rotate(-90 239.90 362.70)"  stroke="#000" stroke-width="0.2">2</text>
<text x="245.40" y="352.70" font-size="10.2" font-weight="bold" text-anchor="start" fill="#000" textLength="7.80" lengthAdjust="spacingAndGlyphs" transform="rotate(-90 245.40 352.70)"  stroke="#000" stroke-width="0.2">10</text>
<text x="239.90" y="343.90" font-size="9.4" font-weight="bold" text-anchor="start" fill="#000" textLength="4.60" lengthAdjust="spacingAndGlyphs" transform="rotate(-90 239.90 343.90)"  stroke="#000" stroke-width="0.2">3</text>
<text x="245.40" y="333.90" font-size="10.2" font-weight="bold" text-anchor="start" fill="#000" textLength="7.80" lengthAdjust="spacingAndGlyphs" transform="rotate(-90 245.40 333.90)"  stroke="#000" stroke-width="0.2">10</text>
<text x="239.90" y="325.10" font-size="9.4" font-weight="bold" text-anchor="start" fill="#000" textLength="4.60" lengthAdjust="spacingAndGlyphs" transform="rotate(-90 239.90 325.10)"  stroke="#000" stroke-width="0.2">4</text>
<text x="232.90" y="366.60" font-size="9.6" font-weight="bold" text-anchor="middle" fill="#000" textLength="66.00" lengthAdjust="spacingAndGlyphs" transform="rotate(-90 232.90 366.60)"  stroke="#000" stroke-width="0.3">Propidium Iodide</text>
<text x="253.90" y="415.50" font-size="9" font-weight="bold" text-anchor="middle" fill="#000"  stroke="#000" stroke-width="0.3">0</text>
<text x="349.47" y="415.50" font-size="9" font-weight="bold" text-anchor="middle" fill="#000" textLength="18.30" lengthAdjust="spacingAndGlyphs"  stroke="#000" stroke-width="0.3">1000</text>
<text x="300.70" y="426.50" font-size="9.0" font-weight="bold" text-anchor="middle" fill="#000" textLength="63.30" lengthAdjust="spacingAndGlyphs"  stroke="#000" stroke-width="0.3">Forward Scatter</text>
<path d="M298.1 333.7h1.25M306.0 348.1h1.25M305.8 348.9h1.25M283.6 337.2h1.25M294.5 352.4h1.25M301.5 349.2h1.25M294.8 337.1h1.25M291.1 347.5h1.25M297.0 354.7h1.25M299.4 350.9h1.25M308.5 358.0h1.25M305.0 342.1h1.25M296.5 339.8h1.25M302.6 354.8h1.25M300.4 352.7h1.25M293.8 343.6h1.25M304.3 356.1h1.25M304.2 345.2h1.25M295.8 341.4h1.25M287.0 353.2h1.25M310.0 347.2h1.25M314.8 345.4h1.25M300.5 351.7h1.25M288.8 357.8h1.25M286.1 348.6h1.25M300.1 357.3h1.25M308.0 340.6h1.25M294.3 352.6h1.25M297.4 338.7h1.25M297.1 344.9h1.25M283.1 336.4h1.25M302.1 335.5h1.25M332.5 360.2h1.25M298.4 356.8h1.25M295.7 351.7h1.25M287.4 341.6h1.25M289.5 354.8h1.25M287.9 352.3h1.25M292.2 346.4h1.25M294.9 358.1h1.25M307.5 341.7h1.25M299.9 339.5h1.25M285.4 348.4h1.25M296.0 349.8h1.25M306.4 343.6h1.25M293.6 341.8h1.25M305.8 345.7h1.25M289.3 343.6h1.25M291.6 355.3h1.25M295.6 354.1h1.25M296.1 351.1h1.25M292.3 349.4h1.25M308.1 342.2h1.25M297.1 344.6h1.25M301.2 348.9h1.25M304.3 337.2h1.25M299.9 354.9h1.25M297.0 343.3h1.25M292.9 353.5h1.25M286.0 348.6h1.25M304.9 346.4h1.25M313.1 350.4h1.25M282.0 344.8h1.25M288.9 340.5h1.25M305.3 339.3h1.25M300.7 344.8h1.25M290.0 347.6h1.25M303.9 341.9h1.25M313.1 352.4h1.25M308.0 360.2h1.25M297.3 347.4h1.25M298.7 347.8h1.25M315.9 343.3h1.25M319.5 348.5h1.25M292.2 349.1h1.25M313.2 349.9h1.25M285.3 348.5h1.25M298.9 348.8h1.25M294.6 346.6h1.25M308.8 341.7h1.25M297.4 354.6h1.25M300.2 350.3h1.25M285.5 344.2h1.25M311.4 350.0h1.25M308.5 350.5h1.25M295.7 345.8h1.25M295.4 352.9h1.25M308.2 352.2h1.25M291.6 342.3h1.25M302.8 346.8h1.25M313.9 344.2h1.25M326.1 348.1h1.25M306.2 340.7h1.25M330.7 337.6h1.25M303.2 354.3h1.25M317.6 347.0h1.25M323.0 347.2h1.25M332.0 349.0h1.25M283.8 365.8h1.25M287.6 364.6h1.25M282.8 370.4h1.25M304.9 369.1h1.25M305.9 367.4h1.25M283.1 359.5h1.25M282.0 366.4h1.25M282.8 371.5h1.25M297.6 364.3h1.25M283.5 367.0h1.25M282.0 367.7h1.25M298.9 362.7h1.25M297.7 364.7h1.25M281.9 360.3h1.25M291.1 370.1h1.25M286.3 362.9h1.25M292.5 362.6h1.25M290.8 363.6h1.25M286.7 364.3h1.25M293.0 363.9h1.25M284.1 366.2h1.25M298.5 363.7h1.25M284.3 361.7h1.25M283.7 363.7h1.25M293.5 362.9h1.25M328.8 366.0h1.25M323.0 367.4h1.25M302.0 364.7h1.25M283.2 362.5h1.25M285.0 365.8h1.25M294.7 368.8h1.25M296.2 368.8h1.25M287.3 368.0h1.25M298.9 369.0h1.25M283.8 368.4h1.25M312.3 362.6h1.25M294.4 366.2h1.25M302.4 366.4h1.25M288.9 364.8h1.25M285.1 363.6h1.25M293.0 360.6h1.25M285.6 359.4h1.25M293.9 364.7h1.25M287.0 366.1h1.25M283.0 365.0h1.25M291.7 364.6h1.25M287.3 367.6h1.25M306.9 365.8h1.25M304.5 363.3h1.25M282.9 365.5h1.25M294.5 364.2h1.25M310.5 364.7h1.25M290.5 364.3h1.25M285.6 365.5h1.25M289.5 367.1h1.25M297.6 362.8h1.25M290.0 367.1h1.25M285.0 371.2h1.25M284.6 370.7h1.25M287.0 366.8h1.25M311.7 365.9h1.25M286.7 370.5h1.25M286.6 366.2h1.25M292.3 365.4h1.25M289.6 360.6h1.25M284.6 361.5h1.25M282.3 362.0h1.25M295.0 362.7h1.25M297.8 365.2h1.25M286.9 367.2h1.25M285.4 365.0h1.25M300.9 366.4h1.25M283.8 358.5h1.25M287.5 364.6h1.25M281.8 367.5h1.25M307.9 362.4h1.25M285.7 366.9h1.25M284.4 361.9h1.25M290.0 364.6h1.25M298.4 363.1h1.25M286.1 365.9h1.25M298.9 367.4h1.25M288.6 358.7h1.25M300.1 363.1h1.25M297.8 361.7h1.25M286.3 360.9h1.25M282.4 364.3h1.25M287.5 364.8h1.25M292.5 359.8h1.25M289.6 370.3h1.25M283.5 366.6h1.25M302.5 363.1h1.25M286.5 370.0h1.25M284.4 363.4h1.25M283.9 362.8h1.25M319.4 363.0h1.25M282.9 367.7h1.25M284.6 362.4h1.25M295.5 367.9h1.25M282.6 373.2h1.25M291.4 366.0h1.25M327.7 364.6h1.25M284.4 365.8h1.25M294.8 371.5h1.25M288.7 359.4h1.25M286.7 365.8h1.25M291.1 364.6h1.25M290.1 366.8h1.25M307.5 368.1h1.25M283.5 362.4h1.25M292.9 365.8h1.25M304.2 365.7h1.25M298.9 363.6h1.25M282.8 369.9h1.25M290.8 363.9h1.25M302.9 367.6h1.25M294.7 361.5h1.25M302.7 364.7h1.25M282.3 369.4h1.25M289.3 367.5h1.25M314.7 367.0h1.25M294.2 365.6h1.25M306.8 363.0h1.25M284.9 363.5h1.25M313.6 365.7h1.25M286.0 365.3h1.25M288.4 365.5h1.25M296.8 361.8h1.25M292.0 362.4h1.25M292.2 368.6h1.25M291.5 361.8h1.25M312.0 363.1h1.25M285.9 365.7h1.25M290.0 368.9h1.25M299.3 363.8h1.25M305.7 367.8h1.25M302.7 365.4h1.25M305.7 362.8h1.25M294.5 366.3h1.25M304.5 363.6h1.25M309.0 364.8h1.25M283.2 365.6h1.25M282.9 366.1h1.25M287.7 369.5h1.25M307.2 366.3h1.25M285.2 368.0h1.25M285.0 364.6h1.25M291.6 367.5h1.25M288.8 363.2h1.25M285.0 370.0h1.25M287.5 362.7h1.25M292.6 368.7h1.25M317.3 365.6h1.25M293.7 365.0h1.25M285.6 367.4h1.25M285.1 362.9h1.25M289.7 367.3h1.25M294.8 363.6h1.25M288.3 366.4h1.25M284.5 369.7h1.25M289.0 361.1h1.25M303.9 364.1h1.25M299.3 366.6h1.25M301.7 369.2h1.25M289.6 362.2h1.25M322.6 363.8h1.25M292.5 361.9h1.25M293.3 367.0h1.25M286.5 364.8h1.25M286.4 371.6h1.25M293.5 367.4h1.25M283.1 366.9h1.25M292.3 369.7h1.25M322.7 364.0h1.25M304.7 365.0h1.25M285.8 363.1h1.25M295.9 366.0h1.25M327.9 363.7h1.25M295.0 363.6h1.25M293.7 364.3h1.25M285.3 360.3h1.25M285.5 364.4h1.25M288.7 364.0h1.25M286.4 364.4h1.25M295.8 366.6h1.25M302.5 365.5h1.25M285.5 360.4h1.25M314.0 366.2h1.25M297.0 362.0h1.25M283.8 367.0h1.25M309.3 365.0h1.25M284.1 371.0h1.25M290.0 367.6h1.25M288.6 369.1h1.25M285.1 370.5h1.25M293.1 367.6h1.25M313.6 365.8h1.25M287.0 367.7h1.25M303.7 369.6h1.25M300.0 366.6h1.25M301.8 361.3h1.25M289.7 369.7h1.25M290.9 361.9h1.25M285.1 370.7h1.25M307.7 364.8h1.25M291.9 370.8h1.25M285.2 359.7h1.25M286.9 362.3h1.25M282.1 368.7h1.25M296.4 368.7h1.25M310.1 367.8h1.25M288.1 364.8h1.25M288.8 365.9h1.25M283.4 367.7h1.25M296.6 368.1h1.25M304.6 367.0h1.25M283.1 362.5h1.25M303.6 364.7h1.25M282.8 371.6h1.25M287.2 365.3h1.25M297.9 366.8h1.25M314.6 363.1h1.25M304.8 361.9h1.25M319.2 369.4h1.25M308.4 368.3h1.25M294.8 366.0h1.25M297.6 362.1h1.25M316.2 365.3h1.25M283.0 359.8h1.25M286.0 368.1h1.25M296.2 365.5h1.25M283.8 365.8h1.25M294.8 359.1h1.25M286.1 364.9h1.25M291.7 361.2h1.25M285.1 365.3h1.25M285.9 362.8h1.25M282.2 365.8h1.25M285.9 364.9h1.25M288.4 364.5h1.25M290.1 370.0h1.25M290.5 364.2h1.25M296.6 360.9h1.25M285.5 370.3h1.25M315.4 367.5h1.25M294.5 369.1h1.25M291.4 360.9h1.25M294.3 363.0h1.25M281.7 368.6h1.25M288.6 371.9h1.25M308.4 365.8h1.25M286.4 364.2h1.25M285.4 365.0h1.25M292.4 366.2h1.25M292.0 365.2h1.25M301.7 364.8h1.25M286.9 362.2h1.25M286.7 361.7h1.25M286.2 363.5h1.25M282.7 366.7h1.25M287.8 364.1h1.25M310.6 365.3h1.25M309.9 367.8h1.25M282.5 365.7h1.25M291.2 365.5h1.25M304.1 365.8h1.25M307.8 362.1h1.25M288.4 363.2h1.25M289.0 362.2h1.25M286.3 367.7h1.25M289.6 365.2h1.25M317.0 364.5h1.25M302.8 367.0h1.25M282.7 366.3h1.25M296.7 363.6h1.25M288.4 369.1h1.25M308.3 366.3h1.25M286.0 368.2h1.25M288.1 364.2h1.25M291.7 364.1h1.25M288.5 363.1h1.25M289.3 364.5h1.25M300.0 364.7h1.25M290.4 367.6h1.25M288.0 374.4h1.25M287.7 366.7h1.25M283.8 369.5h1.25M290.0 361.9h1.25M300.7 363.1h1.25M292.1 369.2h1.25M291.5 362.5h1.25M287.6 365.2h1.25M291.5 363.0h1.25M296.1 367.4h1.25M285.6 365.1h1.25M284.1 368.5h1.25M300.1 366.3h1.25M294.1 365.2h1.25M292.8 365.7h1.25M300.1 364.9h1.25M297.4 364.9h1.25M294.4 365.7h1.25M292.1 362.7h1.25M297.1 368.1h1.25M286.5 363.5h1.25M322.4 364.5h1.25M292.9 365.5h1.25M293.7 363.8h1.25M311.7 362.9h1.25M292.1 362.0h1.25M287.4 363.3h1.25M302.0 365.3h1.25M301.0 361.5h1.25M284.3 367.5h1.25M290.2 363.6h1.25M285.2 363.0h1.25M285.3 365.6h1.25M296.0 366.7h1.25M310.0 366.5h1.25M296.4 366.8h1.25M289.3 370.1h1.25M289.1 369.2h1.25M288.3 364.8h1.25M289.8 368.4h1.25M297.8 358.9h1.25M293.8 360.8h1.25M304.1 357.2h1.25M294.8 364.9h1.25M287.4 364.4h1.25M288.4 368.2h1.25M289.7 371.4h1.25M283.9 365.2h1.25M299.0 363.2h1.25M283.7 357.9h1.25M284.7 369.2h1.25M289.6 368.3h1.25M282.4 365.6h1.25M287.9 366.9h1.25M299.6 362.7h1.25M291.0 363.7h1.25M293.7 364.1h1.25M292.2 364.8h1.25M315.8 366.2h1.25M299.6 366.9h1.25M292.3 368.3h1.25M288.0 364.5h1.25M291.1 368.6h1.25M291.3 359.7h1.25M294.2 361.9h1.25M286.6 364.1h1.25M297.1 366.2h1.25M296.4 365.4h1.25M300.0 365.5h1.25M326.9 364.8h1.25M305.4 367.7h1.25M291.4 361.2h1.25M294.5 363.8h1.25M282.8 366.6h1.25M283.4 367.7h1.25M297.6 361.7h1.25M289.4 369.8h1.25M283.1 360.3h1.25M299.3 368.3h1.25M291.5 369.7h1.25M288.3 361.8h1.25M286.5 360.0h1.25M292.4 364.0h1.25M288.9 369.8h1.25M302.8 368.0h1.25M283.3 365.1h1.25M296.2 364.6h1.25M283.6 356.2h1.25M316.1 360.6h1.25M291.7 368.6h1.25M297.8 365.3h1.25M285.4 358.9h1.25M293.0 365.5h1.25M283.3 367.3h1.25M284.0 361.4h1.25M296.2 360.3h1.25M295.0 367.9h1.25M310.9 364.7h1.25M295.8 365.5h1.25M304.5 364.2h1.25M284.9 358.9h1.25M284.3 364.2h1.25M287.1 363.6h1.25M286.8 365.7h1.25M292.0 366.8h1.25M301.9 367.7h1.25M282.7 365.4h1.25M283.0 364.6h1.25M287.6 359.2h1.25M305.1 366.3h1.25M300.1 367.0h1.25M293.7 366.3h1.25M283.0 367.3h1.25M286.5 367.2h1.25M282.9 365.4h1.25M283.2 368.7h1.25M284.9 363.8h1.25M282.3 364.6h1.25M294.1 365.6h1.25M282.8 362.3h1.25M290.4 365.5h1.25M295.5 364.7h1.25M290.1 365.6h1.25M285.8 365.1h1.25M293.8 364.6h1.25M291.0 363.4h1.25M289.9 365.6h1.25M290.4 368.4h1.25M286.5 363.7h1.25M284.0 359.9h1.25M299.3 367.7h1.25M295.3 366.6h1.25M293.4 365.6h1.25M284.2 364.6h1.25M289.7 363.0h1.25M281.7 366.6h1.25M288.2 367.5h1.25M299.5 367.2h1.25M287.0 363.3h1.25M283.3 355.3h1.25M294.8 367.3h1.25M299.6 357.6h1.25M296.5 362.8h1.25M293.2 362.8h1.25M285.0 362.8h1.25M282.7 360.0h1.25M288.2 363.3h1.25M306.4 364.0h1.25M293.7 366.3h1.25M297.3 366.0h1.25M287.0 365.6h1.25M287.0 360.0h1.25M311.8 365.8h1.25M283.9 362.7h1.25M302.3 367.7h1.25M295.3 368.0h1.25M294.4 365.0h1.25M297.5 366.2h1.25M305.8 358.9h1.25M293.5 362.7h1.25M304.8 364.1h1.25M284.0 364.9h1.25M305.6 361.4h1.25M288.2 363.6h1.25M306.3 365.4h1.25M298.4 368.6h1.25M289.6 367.2h1.25M283.3 364.2h1.25M300.8 368.6h1.25M310.7 368.5h1.25M297.0 365.3h1.25M296.3 364.6h1.25M306.8 364.8h1.25M293.5 367.4h1.25M295.3 363.0h1.25M288.9 360.5h1.25M282.1 362.9h1.25M288.0 367.1h1.25M299.9 367.7h1.25M294.1 362.6h1.25M304.9 366.4h1.25M282.3 361.4h1.25M301.0 365.8h1.25M292.3 367.7h1.25M286.0 360.3h1.25M288.1 362.1h1.25M309.5 360.9h1.25M294.7 365.9h1.25M294.2 373.0h1.25M289.7 359.8h1.25M310.8 363.7h1.25M289.3 363.0h1.25M285.1 366.0h1.25M305.2 362.5h1.25M298.2 365.4h1.25M288.1 366.0h1.25M283.6 367.7h1.25M294.7 362.0h1.25M301.6 365.1h1.25M287.5 368.2h1.25M297.7 361.1h1.25M292.9 361.6h1.25M298.3 367.4h1.25M288.5 363.9h1.25M294.2 364.3h1.25M294.7 367.1h1.25M286.8 368.9h1.25M286.6 364.0h1.25M303.0 369.6h1.25M292.6 365.1h1.25M315.2 362.4h1.25M298.6 370.6h1.25M286.9 366.2h1.25M289.8 359.9h1.25M292.4 366.1h1.25M296.8 363.5h1.25M309.8 373.7h1.25M296.6 367.4h1.25M292.0 367.9h1.25M292.2 362.8h1.25M296.9 364.8h1.25M299.5 364.7h1.25M285.9 365.6h1.25M290.1 364.3h1.25M285.7 361.0h1.25M290.9 365.5h1.25M284.0 364.1h1.25M296.6 365.5h1.25M293.5 365.0h1.25M302.1 373.0h1.25M297.2 357.7h1.25M299.0 365.9h1.25M288.1 365.6h1.25M296.5 362.8h1.25M293.0 373.8h1.25M287.3 365.0h1.25M292.8 359.7h1.25M288.7 367.0h1.25M298.6 363.6h1.25M292.8 363.6h1.25M294.6 363.2h1.25M291.6 363.1h1.25M292.8 367.9h1.25M303.3 359.1h1.25M283.4 365.8h1.25M285.6 367.5h1.25M301.2 365.0h1.25M297.3 362.0h1.25M284.8 368.7h1.25M288.2 358.1h1.25M303.2 368.7h1.25M287.6 361.9h1.25M299.4 369.5h1.25M288.5 370.4h1.25M289.2 363.1h1.25M295.0 362.7h1.25M284.9 359.6h1.25M299.9 368.0h1.25M282.9 368.7h1.25M281.7 356.9h1.25M292.5 365.6h1.25M294.4 364.3h1.25M284.9 364.5h1.25M308.6 361.6h1.25M301.7 360.6h1.25M287.7 368.6h1.25M287.2 363.2h1.25M287.7 363.0h1.25M290.5 368.7h1.25M288.0 364.5h1.25M302.3 366.7h1.25M303.2 365.7h1.25M284.4 362.3h1.25M294.4 366.8h1.25M302.8 366.7h1.25M288.4 363.9h1.25M287.7 362.5h1.25M299.9 359.1h1.25M312.1 364.6h1.25M291.7 363.4h1.25M293.1 368.8h1.25M294.0 363.4h1.25M304.7 369.4h1.25M285.9 366.7h1.25M285.0 358.7h1.25M301.5 368.2h1.25M287.7 366.4h1.25M293.9 367.3h1.25M285.2 367.7h1.25M293.0 358.9h1.25M296.1 366.9h1.25M296.3 365.5h1.25M295.9 362.2h1.25M285.4 361.1h1.25M305.1 367.2h1.25M281.9 364.6h1.25M296.7 365.5h1.25M285.4 363.3h1.25M299.4 366.0h1.25M308.6 365.2h1.25M283.5 363.4h1.25M293.7 366.8h1.25M283.3 360.2h1.25M295.2 368.5h1.25M301.4 359.5h1.25M297.1 363.6h1.25M282.9 381.9h1.25M298.1 385.8h1.25M288.3 386.5h1.25M285.5 390.0h1.25M288.1 386.6h1.25M288.4 383.8h1.25M282.5 376.8h1.25M290.0 386.8h1.25M295.6 388.2h1.25M287.9 377.7h1.25M288.0 386.6h1.25M284.0 379.7h1.25M291.8 384.0h1.25M302.4 385.5h1.25M287.2 377.4h1.25M296.1 388.1h1.25M292.7 384.0h1.25M301.8 374.2h1.25M296.6 388.6h1.25M291.9 383.3h1.25M293.7 382.9h1.25M300.3 386.8h1.25M288.4 381.5h1.25M300.0 388.8h1.25M292.6 395.4h1.25M300.8 384.0h1.25M295.7 382.0h1.25M289.3 386.4h1.25M305.3 379.7h1.25M292.8 386.2h1.25M299.5 388.9h1.25M297.2 385.4h1.25M296.1 381.7h1.25M301.6 382.4h1.25M293.3 388.7h1.25M308.6 376.9h1.25M304.5 390.8h1.25M291.4 380.5h1.25M291.5 391.7h1.25M293.2 391.0h1.25M302.2 387.4h1.25M287.9 391.6h1.25M288.0 395.0h1.25M296.4 391.9h1.25M293.1 384.5h1.25M289.1 401.3h1.25M299.5 382.6h1.25M282.3 381.5h1.25M291.5 386.7h1.25M296.8 390.5h1.25M301.5 383.3h1.25M304.8 388.1h1.25M294.1 385.9h1.25M305.2 380.6h1.25M285.7 387.3h1.25M292.1 392.6h1.25M307.2 392.6h1.25M298.2 386.2h1.25M294.0 380.1h1.25M283.2 383.2h1.25M291.6 389.3h1.25M293.9 387.4h1.25M285.9 385.4h1.25M296.1 385.3h1.25M296.8 393.7h1.25M292.7 386.7h1.25M282.5 390.5h1.25M293.8 390.1h1.25M297.9 391.4h1.25M301.9 395.1h1.25M284.9 389.4h1.25M288.9 386.1h1.25M288.6 382.0h1.25M298.0 388.3h1.25M304.5 393.4h1.25M304.5 391.6h1.25M291.5 391.5h1.25M298.8 384.1h1.25M300.8 390.9h1.25M285.3 376.2h1.25M299.0 386.9h1.25M285.5 385.4h1.25M288.1 384.6h1.25M305.0 385.5h1.25M298.8 392.1h1.25M293.7 394.1h1.25M299.7 379.9h1.25M294.6 383.6h1.25M289.3 387.2h1.25M286.2 391.0h1.25M293.8 383.1h1.25M303.9 378.8h1.25M291.8 391.2h1.25M302.4 388.8h1.25M294.8 389.6h1.25M295.3 389.6h1.25M287.0 382.3h1.25M287.7 382.1h1.25M291.1 391.0h1.25M294.1 384.9h1.25M290.3 386.5h1.25M283.8 382.3h1.25M299.5 381.0h1.25M291.6 376.6h1.25M284.3 387.7h1.25M291.1 385.7h1.25M300.8 388.1h1.25M293.3 386.6h1.25M298.4 385.5h1.25M289.7 378.6h1.25M294.9 380.8h1.25M289.3 388.7h1.25M295.4 385.7h1.25M302.4 387.2h1.25M297.7 386.3h1.25M295.2 396.1h1.25M291.5 378.5h1.25M296.7 382.8h1.25M289.1 392.2h1.25M293.4 389.2h1.25M298.0 391.6h1.25M298.8 384.4h1.25M300.7 380.7h1.25M298.0 377.7h1.25M295.3 380.9h1.25M294.3 385.3h1.25M292.8 381.0h1.25M295.0 382.6h1.25M296.0 388.8h1.25M295.1 377.0h1.25M301.4 382.8h1.25M294.3 382.0h1.25M285.6 376.3h1.25M297.7 384.4h1.25M285.9 384.8h1.25M307.4 387.1h1.25M298.0 386.6h1.25M298.2 388.7h1.25M287.9 389.7h1.25M287.8 393.8h1.25M306.6 381.2h1.25M303.7 380.2h1.25M296.9 381.2h1.25M300.3 382.4h1.25M297.2 379.4h1.25M303.4 379.4h1.25M298.1 378.6h1.25M285.7 384.0h1.25M294.5 382.9h1.25M298.6 385.2h1.25M300.7 381.3h1.25M300.6 381.2h1.25M288.4 382.2h1.25M295.6 393.4h1.25M300.0 377.8h1.25M293.4 379.6h1.25M295.1 379.7h1.25M311.2 389.5h1.25M287.9 388.1h1.25M292.1 375.6h1.25M296.9 381.7h1.25M292.9 380.8h1.25M306.1 380.1h1.25M291.6 379.8h1.25M301.9 380.1h1.25M289.4 382.3h1.25M287.7 385.7h1.25M298.8 388.2h1.25M300.4 387.5h1.25M291.4 373.5h1.25M298.5 385.7h1.25M296.7 387.8h1.25M292.0 385.3h1.25M294.0 386.4h1.25M294.0 388.6h1.25M292.9 389.6h1.25M303.0 384.5h1.25M286.9 381.3h1.25M302.8 385.4h1.25M293.6 387.8h1.25M291.0 386.9h1.25M302.9 383.6h1.25M288.4 382.6h1.25M307.9 388.1h1.25M295.5 376.3h1.25M294.3 389.5h1.25M296.5 391.2h1.25M293.6 392.3h1.25M293.2 392.5h1.25M290.8 388.7h1.25M292.3 379.8h1.25M294.7 382.2h1.25M296.5 384.9h1.25M297.9 383.8h1.25M292.9 392.5h1.25M293.4 381.8h1.25M295.9 387.6h1.25M301.8 385.0h1.25M292.9 385.6h1.25M290.2 382.7h1.25M292.4 384.0h1.25M291.4 387.3h1.25M287.5 389.9h1.25M292.1 381.9h1.25M292.5 381.2h1.25M298.2 386.7h1.25M304.7 390.2h1.25M291.6 378.1h1.25M287.3 381.8h1.25M301.7 382.3h1.25M287.6 390.0h1.25M294.3 381.1h1.25M295.5 388.9h1.25M294.2 378.3h1.25M299.8 387.5h1.25M302.2 383.3h1.25M305.6 386.3h1.25M293.9 387.9h1.25M293.5 377.6h1.25M296.2 382.9h1.25M290.4 377.8h1.25M294.2 391.7h1.25M292.6 385.2h1.25M293.5 391.5h1.25M293.1 386.0h1.25M301.8 377.4h1.25M285.3 389.8h1.25M296.4 382.1h1.25M301.8 381.6h1.25M288.4 388.3h1.25M293.7 377.6h1.25M305.5 383.2h1.25M299.1 379.9h1.25M301.3 387.0h1.25M299.7 392.2h1.25M293.0 383.0h1.25M295.1 381.8h1.25M305.4 388.9h1.25M302.0 390.6h1.25M302.0 378.9h1.25M293.4 381.6h1.25M293.6 379.7h1.25M295.0 380.5h1.25M297.2 385.4h1.25M300.8 379.3h1.25M289.7 384.9h1.25M298.4 389.3h1.25M293.9 389.8h1.25M296.9 384.7h1.25M296.1 389.4h1.25M293.4 380.8h1.25M298.1 380.6h1.25M294.0 385.0h1.25M288.2 384.9h1.25M302.6 382.6h1.25M295.7 386.8h1.25M295.7 389.1h1.25M299.3 386.6h1.25M302.4 386.3h1.25M290.9 379.2h1.25M283.1 382.6h1.25M295.8 386.2h1.25M286.4 394.7h1.25M288.7 383.2h1.25M305.3 384.0h1.25M297.3 382.8h1.25M303.0 387.0h1.25M287.7 379.1h1.25M292.3 386.4h1.25M292.0 380.0h1.25M286.9 384.4h1.25M304.5 382.3h1.25M290.9 384.5h1.25M297.9 387.0h1.25M300.7 374.4h1.25M288.0 385.6h1.25M297.6 387.1h1.25M288.7 390.0h1.25M286.1 390.1h1.25M297.9 387.6h1.25M302.3 385.6h1.25M297.1 382.8h1.25M289.2 389.4h1.25M305.9 389.2h1.25M294.7 390.0h1.25M297.9 394.5h1.25M298.4 394.2h1.25M305.1 390.0h1.25M287.0 380.5h1.25M295.9 387.7h1.25M292.9 383.9h1.25M293.5 388.5h1.25M295.3 387.6h1.25M297.0 382.8h1.25M299.4 387.1h1.25M285.5 384.9h1.25M297.4 384.8h1.25M295.2 375.3h1.25M297.1 388.3h1.25M294.7 382.0h1.25M300.1 384.5h1.25M302.8 386.6h1.25M290.5 384.3h1.25M292.4 391.1h1.25M300.9 381.3h1.25M301.5 392.9h1.25M297.0 384.9h1.25M299.0 387.0h1.25M295.6 385.2h1.25M300.9 387.5h1.25M297.1 385.3h1.25M293.9 381.7h1.25M295.1 385.2h1.25M292.4 382.1h1.25M292.8 394.0h1.25M290.8 380.1h1.25M287.2 377.5h1.25M300.9 391.0h1.25M298.7 392.0h1.25M293.2 383.4h1.25M293.1 379.6h1.25M299.9 393.0h1.25M286.6 377.1h1.25M293.8 383.5h1.25M298.9 389.1h1.25M288.2 382.8h1.25M307.5 383.2h1.25M298.6 385.0h1.25M295.8 393.6h1.25M292.3 384.6h1.25M285.5 386.3h1.25M293.4 392.7h1.25M293.9 388.3h1.25M291.2 385.4h1.25M285.6 388.7h1.25M305.0 384.4h1.25M293.5 377.0h1.25M298.7 382.8h1.25M296.1 387.6h1.25M304.6 388.6h1.25M289.8 371.7h1.25M302.8 378.1h1.25M287.0 384.6h1.25M290.8 383.2h1.25M286.7 381.4h1.25M293.2 379.6h1.25M299.4 388.0h1.25M295.5 384.9h1.25M304.3 382.9h1.25M297.5 389.3h1.25M301.1 380.6h1.25M301.8 383.8h1.25M289.2 381.1h1.25M289.6 383.6h1.25M290.1 382.1h1.25M293.5 389.0h1.25M286.9 385.4h1.25M305.8 385.3h1.25M293.4 393.2h1.25M309.2 373.8h1.25M289.8 392.9h1.25M301.4 383.4h1.25M302.7 396.7h1.25M295.6 387.4h1.25M289.8 378.6h1.25M294.0 386.5h1.25M304.8 382.6h1.25M295.0 383.9h1.25M295.8 390.0h1.25M293.4 387.3h1.25M295.1 395.6h1.25M288.8 380.8h1.25M286.9 392.9h1.25M297.3 387.8h1.25M293.1 389.8h1.25M300.2 384.0h1.25M300.5 375.4h1.25M291.9 390.2h1.25M292.7 394.1h1.25M296.3 384.8h1.25M301.5 379.8h1.25M284.5 383.4h1.25M288.6 382.8h1.25M289.2 395.6h1.25M302.4 382.8h1.25M296.3 383.1h1.25M287.8 381.9h1.25M302.3 386.8h1.25M296.7 382.6h1.25M297.1 382.4h1.25M295.5 384.5h1.25M294.2 395.8h1.25M290.4 384.8h1.25M285.7 380.6h1.25M292.0 387.1h1.25M295.9 387.2h1.25M310.0 386.8h1.25M296.6 382.7h1.25M293.3 388.4h1.25M291.6 385.6h1.25M295.8 378.5h1.25M295.1 391.2h1.25M293.0 390.4h1.25M285.8 377.1h1.25M287.9 394.9h1.25M292.3 386.8h1.25M286.5 386.7h1.25M294.6 387.8h1.25M302.1 390.5h1.25M285.2 392.7h1.25M282.1 383.7h1.25M286.3 390.1h1.25M296.8 389.3h1.25M285.8 383.1h1.25M288.0 390.0h1.25M301.3 384.3h1.25M299.0 385.7h1.25M284.1 385.8h1.25M282.9 388.7h1.25M303.6 392.0h1.25M291.5 380.7h1.25M291.7 380.3h1.25M299.2 389.1h1.25M300.6 393.5h1.25M298.7 386.0h1.25M294.2 382.0h1.25M306.6 388.5h1.25M297.7 390.4h1.25M294.0 385.9h1.25M292.3 382.3h1.25M287.3 387.0h1.25M289.8 390.7h1.25M293.2 379.2h1.25M299.5 386.8h1.25M287.4 384.5h1.25M292.6 379.9h1.25M286.2 389.6h1.25M289.5 382.5h1.25M301.5 383.5h1.25M295.1 377.6h1.25M284.9 383.6h1.25M292.6 381.4h1.25M295.1 388.7h1.25M297.9 386.1h1.25M286.6 385.4h1.25M303.0 384.6h1.25M292.1 392.1h1.25M289.0 392.0h1.25M301.8 381.4h1.25M296.9 381.0h1.25M301.0 383.7h1.25M290.7 390.4h1.25M299.1 392.8h1.25M294.4 376.4h1.25M291.9 383.0h1.25M301.4 381.6h1.25M289.8 381.0h1.25M296.8 382.2h1.25M297.5 377.3h1.25M290.1 393.3h1.25M291.8 381.6h1.25M303.7 393.1h1.25M297.5 389.6h1.25M300.6 374.8h1.25M303.4 382.9h1.25M298.0 384.8h1.25M292.0 385.3h1.25M305.4 393.3h1.25M292.8 390.8h1.25M300.5 391.8h1.25M293.3 383.5h1.25M295.9 385.4h1.25M295.6 382.6h1.25M290.8 370.6h1.25M291.1 383.9h1.25M297.7 387.0h1.25M295.3 387.7h1.25M292.4 393.8h1.25M292.0 382.7h1.25M289.7 385.8h1.25M299.1 386.0h1.25M293.7 390.7h1.25M289.5 394.3h1.25M302.8 374.2h1.25M293.7 384.9h1.25M297.1 396.5h1.25M292.0 384.1h1.25M292.7 390.3h1.25M304.3 387.3h1.25M296.7 380.8h1.25M284.3 390.7h1.25M288.1 383.8h1.25M291.4 388.2h1.25M295.6 384.7h1.25M301.9 379.0h1.25M286.9 367.6h1.25M295.6 375.5h1.25M291.2 386.5h1.25M301.9 383.3h1.25M295.2 389.7h1.25M291.5 388.9h1.25M308.0 378.2h1.25M300.9 382.7h1.25M298.3 381.8h1.25M285.8 385.5h1.25M295.7 378.6h1.25M294.7 380.2h1.25M285.4 392.2h1.25M300.8 379.6h1.25M291.2 379.2h1.25M300.4 389.8h1.25M290.0 388.3h1.25M310.4 379.8h1.25M290.7 375.3h1.25M297.9 390.2h1.25M293.3 378.7h1.25M289.3 374.8h1.25M305.0 390.6h1.25M298.2 379.4h1.25M290.1 382.6h1.25M292.5 384.7h1.25M309.1 386.8h1.25M310.2 391.6h1.25M297.7 379.8h1.25M288.7 394.0h1.25M294.8 388.6h1.25M293.7 380.9h1.25M298.1 381.9h1.25M306.8 387.6h1.25M289.7 386.3h1.25M293.9 384.0h1.25M295.6 383.3h1.25M292.9 389.2h1.25M291.1 386.5h1.25M290.8 380.6h1.25M296.3 385.5h1.25M293.1 378.1h1.25M282.4 387.4h1.25M299.1 392.8h1.25M290.1 387.2h1.25M307.5 390.8h1.25M295.9 384.3h1.25M302.0 386.6h1.25M300.5 391.6h1.25M290.3 389.6h1.25M287.4 386.6h1.25M294.8 386.3h1.25M286.1 387.6h1.25M287.0 388.6h1.25M297.9 382.5h1.25M305.0 390.1h1.25M296.1 383.6h1.25M301.8 380.0h1.25M286.2 393.5h1.25M296.1 378.8h1.25M296.8 394.1h1.25M298.0 383.0h1.25M299.3 383.9h1.25M303.2 388.7h1.25M293.9 389.6h1.25M297.1 379.5h1.25M293.3 382.8h1.25M299.3 378.8h1.25M304.7 389.2h1.25M295.5 390.8h1.25M298.7 390.9h1.25M291.5 384.8h1.25M285.8 387.3h1.25M300.1 385.1h1.25M300.5 388.7h1.25M289.2 385.8h1.25M300.9 383.5h1.25M284.1 382.6h1.25M294.7 382.9h1.25M285.5 384.9h1.25M296.4 388.1h1.25M291.6 391.8h1.25M289.7 385.3h1.25M296.7 383.3h1.25M294.7 386.0h1.25M301.1 380.1h1.25M304.2 389.7h1.25M292.6 388.5h1.25M292.4 386.9h1.25M300.8 386.0h1.25M287.0 387.7h1.25M283.6 389.1h1.25M289.5 390.9h1.25M294.6 385.8h1.25M295.1 387.5h1.25M288.5 384.2h1.25M288.2 386.8h1.25M285.7 390.7h1.25M299.6 392.0h1.25M294.6 386.1h1.25M291.8 391.1h1.25M291.7 382.9h1.25M286.7 383.5h1.25M297.4 384.4h1.25M297.1 386.3h1.25M291.7 387.2h1.25M283.6 395.1h1.25M292.6 386.9h1.25M291.6 389.2h1.25M294.0 384.1h1.25M287.2 382.6h1.25M304.7 386.2h1.25M283.3 388.5h1.25M306.5 382.6h1.25M303.4 382.3h1.25M301.0 383.8h1.25M292.3 386.9h1.25M303.9 387.8h1.25M296.6 386.0h1.25M289.7 394.7h1.25M291.0 377.8h1.25M292.1 378.3h1.25M294.9 388.8h1.25M297.7 373.3h1.25M291.9 380.6h1.25M295.0 390.1h1.25M290.2 384.6h1.25M304.0 384.2h1.25M299.8 390.1h1.25M287.9 396.2h1.25M293.9 389.9h1.25M294.9 384.9h1.25M299.6 386.7h1.25M300.2 382.4h1.25M288.8 383.8h1.25M299.5 390.2h1.25M287.0 379.6h1.25M287.9 384.7h1.25M305.9 380.5h1.25M290.3 377.6h1.25M310.4 386.9h1.25M295.7 382.5h1.25M300.6 382.7h1.25M292.2 377.2h1.25M300.8 385.8h1.25M293.9 381.0h1.25M294.8 392.8h1.25M293.8 382.9h1.25M295.8 379.0h1.25M294.2 384.3h1.25M290.0 380.4h1.25M298.2 389.8h1.25M291.5 388.2h1.25M291.3 389.5h1.25M297.1 382.5h1.25M284.6 385.5h1.25M304.1 394.1h1.25M302.3 388.7h1.25M290.3 384.1h1.25M290.3 385.1h1.25M300.7 381.3h1.25M288.5 380.3h1.25M293.8 384.1h1.25M301.5 392.8h1.25M290.6 388.8h1.25M292.6 383.6h1.25M296.5 380.1h1.25M296.6 385.2h1.25M298.7 387.3h1.25M299.9 386.3h1.25M302.5 379.1h1.25M292.0 376.6h1.25M304.5 389.9h1.25M294.4 390.6h1.25M293.4 388.2h1.25M305.5 392.5h1.25M293.2 377.4h1.25M299.2 388.4h1.25M294.6 387.9h1.25M287.3 385.5h1.25M302.0 381.8h1.25M302.6 380.4h1.25M296.4 385.1h1.25M296.7 393.2h1.25M298.7 385.9h1.25M297.6 384.1h1.25M283.3 387.3h1.25M288.4 389.2h1.25M301.7 394.7h1.25M292.0 391.2h1.25M298.7 382.2h1.25M303.6 392.2h1.25M300.5 388.1h1.25M291.4 389.1h1.25M288.5 382.8h1.25M297.5 387.0h1.25M296.1 391.7h1.25M293.9 386.3h1.25M288.9 387.9h1.25M292.7 390.4h1.25M295.9 386.4h1.25M298.5 383.1h1.25M301.0 378.3h1.25M298.6 378.5h1.25M307.4 382.7h1.25M295.8 370.2h1.25M299.7 382.6h1.25M285.6 388.1h1.25M296.1 381.6h1.25M296.7 387.2h1.25M295.1 387.2h1.25M291.2 391.7h1.25M286.4 391.0h1.25M296.1 392.2h1.25M294.6 385.0h1.25M291.1 383.1h1.25M290.6 383.5h1.25M294.0 387.8h1.25M294.5 382.9h1.25M288.4 388.3h1.25M297.9 379.6h1.25M287.0 382.8h1.25M304.6 378.3h1.25M288.6 384.9h1.25M290.6 386.2h1.25M293.0 383.3h1.25M284.3 382.6h1.25M298.0 378.1h1.25M296.2 375.6h1.25M294.5 379.7h1.25M289.4 387.5h1.25M297.6 392.6h1.25M290.6 386.3h1.25M302.3 387.6h1.25M293.7 390.1h1.25M292.1 383.9h1.25M300.2 389.7h1.25M286.4 388.7h1.25M304.2 384.1h1.25M297.8 383.0h1.25M296.7 384.5h1.25M297.3 383.4h1.25M297.3 377.2h1.25M301.2 379.9h1.25M285.0 389.5h1.25M294.0 392.5h1.25M296.8 389.3h1.25M294.7 390.2h1.25M283.8 390.6h1.25M294.6 388.9h1.25M293.6 381.7h1.25M300.6 380.7h1.25M295.3 380.6h1.25M290.4 389.6h1.25M290.1 385.5h1.25M288.3 385.3h1.25M298.4 381.5h1.25M287.8 380.8h1.25M292.0 384.1h1.25M303.4 378.8h1.25M291.4 390.7h1.25M300.5 379.6h1.25M302.3 388.4h1.25M285.9 383.0h1.25M302.3 384.4h1.25M296.2 384.7h1.25M293.7 378.4h1.25M292.0 386.7h1.25M295.0 389.3h1.25M292.3 385.2h1.25M290.5 390.2h1.25M291.2 388.0h1.25M296.4 385.9h1.25M302.5 385.5h1.25M300.5 387.8h1.25M286.2 389.0h1.25M290.1 389.6h1.25M287.3 390.6h1.25M297.8 384.6h1.25M298.8 390.8h1.25M286.5 389.1h1.25M290.4 391.1h1.25M286.9 393.9h1.25M284.9 386.3h1.25M291.0 383.9h1.25M307.0 390.2h1.25M287.9 386.7h1.25M300.9 385.5h1.25M297.5 388.7h1.25M292.7 380.6h1.25M309.5 374.1h1.25M293.1 384.1h1.25M300.1 387.5h1.25M283.3 387.9h1.25M288.5 383.7h1.25M292.9 388.4h1.25M296.1 382.4h1.25M286.4 383.8h1.25M301.1 382.2h1.25M294.5 387.4h1.25M295.5 390.5h1.25M296.5 390.4h1.25M297.8 383.8h1.25M298.8 386.7h1.25M299.7 387.2h1.25M294.9 382.9h1.25M306.5 390.6h1.25M294.7 382.5h1.25M292.4 386.8h1.25M312.6 384.4h1.25M290.8 388.1h1.25M290.2 382.1h1.25M296.3 386.7h1.25M293.7 383.6h1.25M289.3 384.0h1.25M290.9 378.7h1.25M289.2 384.5h1.25M285.0 389.5h1.25M302.0 386.7h1.25M289.6 388.8h1.25M284.4 386.8h1.25M297.5 381.2h1.25M297.6 382.3h1.25M289.1 386.6h1.25M286.2 382.2h1.25M289.1 372.1h1.25M295.5 370.5h1.25M297.0 377.8h1.25M285.1 375.2h1.25M294.4 378.7h1.25M286.2 372.6h1.25M295.2 371.3h1.25M283.0 377.6h1.25M284.6 375.3h1.25M287.8 373.2h1.25M288.8 375.0h1.25M289.0 373.9h1.25M290.9 373.5h1.25M289.6 375.0h1.25M285.6 375.4h1.25M293.1 372.2h1.25M297.3 374.0h1.25M287.4 367.1h1.25M290.2 373.2h1.25M285.1 373.8h1.25M291.3 365.9h1.25M283.5 384.4h1.25M294.4 379.0h1.25M292.7 379.6h1.25M292.7 377.4h1.25M298.0 366.8h1.25M292.2 371.2h1.25M308.0 372.3h1.25M290.6 377.0h1.25M296.5 375.6h1.25M286.2 373.7h1.25M285.4 372.9h1.25M282.9 378.4h1.25M290.3 371.7h1.25M287.5 381.7h1.25M290.7 379.5h1.25M285.0 378.6h1.25M290.3 376.8h1.25M290.7 375.7h1.25M291.7 370.8h1.25M294.3 375.3h1.25M293.4 373.7h1.25M290.4 373.7h1.25M294.6 374.5h1.25M298.0 377.7h1.25M289.3 372.9h1.25M286.9 374.2h1.25M288.5 370.6h1.25M291.3 371.4h1.25M285.4 366.9h1.25M294.0 375.0h1.25M290.2 375.8h1.25M289.5 375.9h1.25M282.6 376.4h1.25M289.1 372.2h1.25M289.8 374.9h1.25M283.8 376.4h1.25M290.6 375.1h1.25M291.6 373.1h1.25M302.4 376.5h1.25M294.8 377.5h1.25M296.5 375.2h1.25M292.0 376.4h1.25M298.6 377.6h1.25M283.0 369.4h1.25M285.9 375.2h1.25M288.3 379.9h1.25M294.1 369.1h1.25M295.5 373.5h1.25M291.7 378.9h1.25M291.5 371.8h1.25M290.7 376.0h1.25M292.9 375.0h1.25M289.0 373.4h1.25M297.5 369.5h1.25M289.4 371.5h1.25M294.4 371.8h1.25M284.3 381.5h1.25M287.7 370.5h1.25M291.1 374.5h1.25M283.7 369.9h1.25M284.6 379.1h1.25M300.8 372.5h1.25M289.1 372.1h1.25M289.4 378.5h1.25M283.5 375.6h1.25M289.5 377.4h1.25M288.0 371.2h1.25M291.0 377.6h1.25M288.5 371.5h1.25M291.6 370.9h1.25M292.8 378.6h1.25M283.0 374.4h1.25M294.6 372.9h1.25M287.4 367.7h1.25M289.8 374.7h1.25M289.1 371.9h1.25M292.1 373.0h1.25M287.6 373.0h1.25M289.9 370.8h1.25M293.5 374.7h1.25M290.9 371.4h1.25M291.5 383.3h1.25M285.5 374.8h1.25M289.7 376.7h1.25M293.3 376.6h1.25M286.3 375.2h1.25M288.9 375.9h1.25M294.7 378.2h1.25M288.8 376.8h1.25M282.7 372.1h1.25M289.7 372.2h1.25M289.2 378.7h1.25M283.7 376.4h1.25M283.0 375.2h1.25M287.3 378.1h1.25M289.3 373.4h1.25M287.5 375.4h1.25M288.0 370.8h1.25M283.3 381.0h1.25M290.1 374.1h1.25M284.2 376.1h1.25M284.9 376.8h1.25M286.5 373.3h1.25M287.3 375.0h1.25M294.8 374.9h1.25M290.0 375.3h1.25M295.1 370.1h1.25M290.8 369.1h1.25M286.3 377.4h1.25M286.6 376.4h1.25M287.4 376.5h1.25M285.4 374.0h1.25M285.0 373.9h1.25M293.2 375.7h1.25M286.1 375.0h1.25M288.6 370.8h1.25M284.1 378.1h1.25M294.9 376.7h1.25M285.3 371.6h1.25M290.0 375.9h1.25M299.0 372.5h1.25M290.7 374.6h1.25M288.8 372.7h1.25M283.8 381.7h1.25M293.8 372.4h1.25M282.8 377.7h1.25M283.5 375.8h1.25M293.1 374.3h1.25M290.3 377.1h1.25M303.1 371.3h1.25M309.6 381.6h1.25M323.1 368.6h1.25M308.8 353.2h1.25M304.0 368.7h1.25M321.7 370.2h1.25M329.1 375.3h1.25M303.0 366.8h1.25M308.1 376.5h1.25M321.0 365.5h1.25M314.5 375.9h1.25M327.3 373.2h1.25M307.9 374.3h1.25M306.1 376.7h1.25M299.9 381.9h1.25M304.2 370.6h1.25M300.2 356.4h1.25M310.0 365.6h1.25M309.4 382.4h1.25M301.9 382.1h1.25M317.8 377.4h1.25M311.1 371.7h1.25M306.7 372.7h1.25M317.2 371.4h1.25M319.9 365.6h1.25M310.7 368.8h1.25M301.4 359.6h1.25M301.8 365.0h1.25M322.7 381.3h1.25M310.2 373.4h1.25M327.4 362.2h1.25M302.6 359.6h1.25M312.8 355.3h1.25M314.7 378.8h1.25M313.1 346.0h1.25M307.5 373.0h1.25M311.0 358.1h1.25M309.7 370.9h1.25M335.5 373.4h1.25M321.2 371.4h1.25M309.1 377.9h1.25M330.5 374.4h1.25M309.4 374.1h1.25M334.2 368.0h1.25M309.1 376.5h1.25M305.2 364.6h1.25M306.6 376.5h1.25M299.7 372.6h1.25M305.6 374.6h1.25M309.0 371.5h1.25M307.3 390.8h1.25M304.7 371.9h1.25M309.7 361.0h1.25M323.9 383.1h1.25M314.5 381.4h1.25M322.6 380.7h1.25M316.1 384.9h1.25M299.2 376.9h1.25M317.2 371.2h1.25M314.8 353.9h1.25M322.4 378.7h1.25M298.7 371.1h1.25M304.2 391.9h1.25M317.3 366.0h1.25M303.9 383.3h1.25M315.5 367.6h1.25M307.2 385.9h1.25M296.7 368.2h1.25M300.1 372.8h1.25M326.0 370.1h1.25" stroke="#000" stroke-width="1.25" fill="none"/>
<text x="9.00" y="89.20" font-size="16.4" font-weight="bold" text-anchor="start" fill="#000" textLength="55.40" lengthAdjust="spacingAndGlyphs" >MTCB6</text>
<text x="0.30" y="224.20" font-size="16.2" font-weight="bold" text-anchor="start" fill="#000" textLength="64.20" lengthAdjust="spacingAndGlyphs" >MTINV-2</text>
<text x="0.30" y="370.00" font-size="16.2" font-weight="bold" text-anchor="start" fill="#000" textLength="64.20" lengthAdjust="spacingAndGlyphs" >MTINV-3</text>
<text x="2.80" y="19.80" font-size="23.3" font-weight="bold" text-anchor="start" fill="#000" textLength="16.50" lengthAdjust="spacingAndGlyphs" >A</text>
<text x="142.20" y="30.30" font-size="15.5" font-weight="bold" text-anchor="middle" fill="#000" textLength="24.30" lengthAdjust="spacingAndGlyphs" >-Zn</text>
<text x="295.20" y="30.30" font-size="15.5" font-weight="bold" text-anchor="middle" fill="#000" textLength="27.40" lengthAdjust="spacingAndGlyphs" >+Zn</text>
<text x="139.80" y="148.90" font-size="10.8" font-weight="bold" text-anchor="middle" fill="#000" textLength="53.00" lengthAdjust="spacingAndGlyphs"  stroke="#000" stroke-width="0.45">22% alive</text>
<text x="297.10" y="149.10" font-size="10.8" font-weight="bold" text-anchor="middle" fill="#000" textLength="53.00" lengthAdjust="spacingAndGlyphs"  stroke="#000" stroke-width="0.45">20% alive</text>
<text x="144.70" y="298.90" font-size="10.8" font-weight="bold" text-anchor="middle" fill="#000" textLength="53.00" lengthAdjust="spacingAndGlyphs"  stroke="#000" stroke-width="0.45">20% alive</text>
<text x="296.50" y="298.90" font-size="10.8" font-weight="bold" text-anchor="middle" fill="#000" textLength="53.00" lengthAdjust="spacingAndGlyphs"  stroke="#000" stroke-width="0.45">59% alive</text>
<text x="145.00" y="443.40" font-size="10.8" font-weight="bold" text-anchor="middle" fill="#000" textLength="53.00" lengthAdjust="spacingAndGlyphs"  stroke="#000" stroke-width="0.45">17% alive</text>
<text x="298.40" y="443.40" font-size="10.8" font-weight="bold" text-anchor="middle" fill="#000" textLength="53.00" lengthAdjust="spacingAndGlyphs"  stroke="#000" stroke-width="0.45">62% alive</text>
<rect x="407.50" y="37.40" width="100.80" height="75.10" fill="none" stroke="#000" stroke-width="1.45"/>
<path d="M407.50 112.50L407.50 115.50M415.09 112.50L415.09 114.20M419.52 112.50L419.52 114.20M422.67 112.50L422.67 114.20M425.11 112.50L425.11 114.20M427.11 112.50L427.11 114.20M428.80 112.50L428.80 114.20M430.26 112.50L430.26 114.20M431.55 112.50L431.55 114.20M432.70 112.50L432.70 115.50M440.29 112.50L440.29 114.20M444.72 112.50L444.72 114.20M447.87 112.50L447.87 114.20M450.31 112.50L450.31 114.20M452.31 112.50L452.31 114.20M454.00 112.50L454.00 114.20M455.46 112.50L455.46 114.20M456.75 112.50L456.75 114.20M457.90 112.50L457.90 115.50M465.49 112.50L465.49 114.20M469.92 112.50L469.92 114.20M473.07 112.50L473.07 114.20M475.51 112.50L475.51 114.20M477.51 112.50L477.51 114.20M479.20 112.50L479.20 114.20M480.66 112.50L480.66 114.20M481.95 112.50L481.95 114.20M483.10 112.50L483.10 115.50M490.69 112.50L490.69 114.20M495.12 112.50L495.12 114.20M498.27 112.50L498.27 114.20M500.71 112.50L500.71 114.20M502.71 112.50L502.71 114.20M504.40 112.50L504.40 114.20M505.86 112.50L505.86 114.20M507.15 112.50L507.15 114.20M508.30 112.50L508.30 115.50M402.30 112.50L407.50 112.50M405.00 110.66L407.50 110.66M405.00 108.82L407.50 108.82M405.00 106.98L407.50 106.98M405.00 105.14L407.50 105.14M402.30 103.30L407.50 103.30M405.00 101.46L407.50 101.46M405.00 99.62L407.50 99.62M405.00 97.78L407.50 97.78M405.00 95.94L407.50 95.94M402.30 94.10L407.50 94.10M405.00 92.26L407.50 92.26M405.00 90.42L407.50 90.42M405.00 88.58L407.50 88.58M405.00 86.74L407.50 86.74M402.30 84.90L407.50 84.90M405.00 83.06L407.50 83.06M405.00 81.22L407.50 81.22M405.00 79.38L407.50 79.38M405.00 77.54L407.50 77.54M402.30 75.70L407.50 75.70M405.00 73.86L407.50 73.86M405.00 72.02L407.50 72.02M405.00 70.18L407.50 70.18M405.00 68.34L407.50 68.34M402.30 66.50L407.50 66.50M405.00 64.66L407.50 64.66M405.00 62.82L407.50 62.82M405.00 60.98L407.50 60.98M405.00 59.14L407.50 59.14M402.30 57.30L407.50 57.30M405.00 55.46L407.50 55.46M405.00 53.62L407.50 53.62M405.00 51.78L407.50 51.78M405.00 49.94L407.50 49.94M402.30 48.10L407.50 48.10M405.00 46.26L407.50 46.26M405.00 44.42L407.50 44.42M405.00 42.58L407.50 42.58M405.00 40.74L407.50 40.74M402.30 38.90L407.50 38.90" stroke="#000" stroke-width="1.1" fill="none"/>
<text x="409.50" y="126.90" font-size="8.8" font-weight="bold" text-anchor="end" fill="#000" textLength="8.50" lengthAdjust="spacingAndGlyphs"  stroke="#000" stroke-width="0.2">10</text>
<text x="410.00" y="122.10" font-size="8.5" font-weight="bold" text-anchor="start" fill="#000"  stroke="#000" stroke-width="0.2">0</text>
<text x="434.70" y="126.90" font-size="8.8" font-weight="bold" text-anchor="end" fill="#000" textLength="8.50" lengthAdjust="spacingAndGlyphs"  stroke="#000" stroke-width="0.2">10</text>
<text x="435.20" y="122.10" font-size="8.5" font-weight="bold" text-anchor="start" fill="#000"  stroke="#000" stroke-width="0.2">1</text>
<text x="459.90" y="126.90" font-size="8.8" font-weight="bold" text-anchor="end" fill="#000" textLength="8.50" lengthAdjust="spacingAndGlyphs"  stroke="#000" stroke-width="0.2">10</text>
<text x="460.40" y="122.10" font-size="8.5" font-weight="bold" text-anchor="start" fill="#000"  stroke="#000" stroke-width="0.2">2</text>
<text x="485.10" y="126.90" font-size="8.8" font-weight="bold" text-anchor="end" fill="#000" textLength="8.50" lengthAdjust="spacingAndGlyphs"  stroke="#000" stroke-width="0.2">10</text>
<text x="485.60" y="122.10" font-size="8.5" font-weight="bold" text-anchor="start" fill="#000"  stroke="#000" stroke-width="0.2">3</text>
<text x="510.30" y="126.90" font-size="8.8" font-weight="bold" text-anchor="end" fill="#000" textLength="8.50" lengthAdjust="spacingAndGlyphs"  stroke="#000" stroke-width="0.2">10</text>
<text x="510.80" y="122.10" font-size="8.5" font-weight="bold" text-anchor="start" fill="#000"  stroke="#000" stroke-width="0.2">4</text>
<text x="457.00" y="135.80" font-size="8.8" font-weight="bold" text-anchor="middle" fill="#000" textLength="61.80" lengthAdjust="spacingAndGlyphs"  stroke="#000" stroke-width="0.3">Annexin V FITC</text>
<text x="399.40" y="34.90" font-size="9.2" font-weight="bold" text-anchor="end" fill="#000" textLength="9.00" lengthAdjust="spacingAndGlyphs" transform="rotate(-90 399.40 34.90)"  stroke="#000" stroke-width="0.15">80</text>
<text x="399.40" y="111.40" font-size="9.2" font-weight="bold" text-anchor="middle" fill="#000" transform="rotate(-90 399.40 111.40)"  stroke="#000" stroke-width="0.15">0</text>
<text x="389.00" y="75.80" font-size="9.0" font-weight="bold" text-anchor="middle" fill="#000" textLength="27.60" lengthAdjust="spacingAndGlyphs" transform="rotate(-90 389.00 75.80)"  stroke="#000" stroke-width="0.15">Counts</text>
<path d="M407.6 108.0L407.9 100.0L408.8 106.1L409.6 107.3L410.4 109.4L411.1 109.1L411.8 109.8L412.5 108.7L413.1 108.5L413.7 107.0L414.4 106.2L415.0 105.1L415.6 104.1L416.2 104.5L416.9 102.8L417.6 102.9L418.2 102.2L418.9 101.0L419.5 99.9L420.2 100.2L420.8 99.1L421.4 100.1L422.1 100.2L422.8 99.0L423.4 98.7L424.1 97.0L424.7 96.8L425.4 96.9L426.0 96.6L426.6 96.1L427.3 97.6L427.9 96.9L428.6 97.6L429.2 98.5L429.9 100.0L430.6 99.1L431.2 100.1L431.8 101.1L432.5 101.0L433.1 100.9L433.8 101.9L434.4 102.1L435.1 103.5L435.8 103.5L436.4 103.1L437.0 104.3L437.6 104.7L438.2 104.9L438.9 104.1L439.5 105.6L440.1 105.0L440.7 106.0L441.4 105.6L442.0 104.4L442.7 104.4L443.4 104.0L444.0 102.4L444.7 102.2L445.3 102.8L446.0 102.7L446.7 102.4L447.4 100.6L448.0 101.3L448.7 101.1L449.4 99.5L450.0 97.9L450.7 96.0L451.4 93.9L452.0 92.5L452.6 90.6L453.3 86.9L454.0 82.8L454.6 79.5L455.2 76.7L455.9 72.4L456.6 66.8L457.2 63.5L457.8 62.3L458.4 54.6L459.0 52.3L459.7 49.5L460.3 41.2L461.0 39.1L461.8 39.6L462.5 44.4L463.3 46.3L463.9 48.1L464.6 54.3L465.2 60.8L465.9 63.6L466.5 67.4L467.2 72.7L467.9 78.8L468.5 81.9L469.1 84.6L469.8 89.3L470.5 92.9L471.1 94.9L471.8 97.1L472.4 101.7L473.1 105.3L473.7 107.0L474.4 106.5L475.0 108.7L475.6 110.2L476.3 110.3L476.9 111.1L477.5 110.4L478.2 110.2L478.8 110.8L479.4 111.1L480.0 110.1L480.6 111.5L481.3 111.6L481.9 111.3L482.5 110.9L483.1 110.2L483.8 110.9L484.4 110.5L485.0 111.4L485.6 111.8L486.2 110.9L486.8 112.2L487.4 111.4L488.0 111.6L488.6 111.7L489.2 111.8L489.8 111.1L490.4 111.1L491.1 112.1L491.7 111.2L492.3 110.8L492.9 111.7L493.5 111.6L494.1 111.4L494.7 111.7L495.3 111.1L495.9 111.5L496.5 111.1L497.1 111.0L497.7 111.7L498.3 111.8L498.9 110.9L499.5 111.7L500.1 111.3L500.7 110.6L501.3 111.9L501.9 110.6L502.6 110.8L503.2 110.7L503.8 112.1L504.4 111.3L505.0 112.2L505.6 111.5L506.2 111.4L506.8 111.9L507.4 111.4L508.0 111.4" stroke="#000" stroke-width="2.1" fill="none" stroke-linejoin="round"/>
<path d="M412.1 106.4L412.7 105.9L413.3 105.2L414.0 103.9L414.6 102.5L415.2 102.5L415.9 103.5L416.5 101.5L417.2 101.6L417.8 99.8L418.5 100.1L419.1 99.4L419.8 99.3L420.4 98.6L421.1 98.0L421.7 98.3L422.4 97.3L423.0 97.7L423.7 95.8L424.3 95.2L425.0 95.8L425.6 96.0L426.2 96.1L426.9 95.6L427.6 96.2L428.2 96.4L428.9 98.1L429.5 97.7L430.2 98.9L430.8 98.4L431.4 98.4L432.1 99.3L432.8 99.6L433.4 99.4L434.1 100.0L434.7 101.7L435.4 101.2L436.0 101.8L436.6 102.8L437.2 102.6L437.8 102.1L438.5 102.7L439.1 103.2L439.7 103.2L440.3 103.3L441.0 103.4L441.6 103.6L442.3 102.8L443.0 101.3L443.6 101.9L444.3 101.1L444.9 101.2L445.6 100.3L446.3 99.6L447.0 98.8L447.6 98.9L448.3 98.4L449.0 98.4L449.6 96.3L450.3 94.9L451.0 90.9L451.6 90.5L452.2 88.8L452.9 85.1L453.6 79.7L454.2 79.0L454.9 75.8L455.5 71.1L456.2 64.8L456.8 63.2L457.4 59.8L458.0 53.1L458.6 50.4L459.3 47.9L459.9 41.3L460.6 37.2L461.4 38.1L462.1 41.2L462.9 43.4L463.6 46.6L464.2 53.4L464.9 60.2L465.5 63.5L466.1 65.7L466.8 70.8L467.5 76.6L468.1 79.8L468.8 82.6L469.4 87.4L470.1 92.2L470.7 94.8L471.4 96.4L472.0 99.8L472.7 102.9L473.3 103.6L474.0 104.9L474.6 106.3L475.2 107.6L475.9 109.2" stroke="#000" stroke-width="0.7" fill="none" stroke-linejoin="round" stroke-dasharray="1.6 2.4"/>
<rect x="403.90" y="187.30" width="102.40" height="75.30" fill="none" stroke="#000" stroke-width="1.45"/>
<path d="M403.90 262.60L403.90 265.60M411.61 262.60L411.61 264.30M416.11 262.60L416.11 264.30M419.31 262.60L419.31 264.30M421.79 262.60L421.79 264.30M423.82 262.60L423.82 264.30M425.53 262.60L425.53 264.30M427.02 262.60L427.02 264.30M428.33 262.60L428.33 264.30M429.50 262.60L429.50 265.60M437.21 262.60L437.21 264.30M441.71 262.60L441.71 264.30M444.91 262.60L444.91 264.30M447.39 262.60L447.39 264.30M449.42 262.60L449.42 264.30M451.13 262.60L451.13 264.30M452.62 262.60L452.62 264.30M453.93 262.60L453.93 264.30M455.10 262.60L455.10 265.60M462.81 262.60L462.81 264.30M467.31 262.60L467.31 264.30M470.51 262.60L470.51 264.30M472.99 262.60L472.99 264.30M475.02 262.60L475.02 264.30M476.73 262.60L476.73 264.30M478.22 262.60L478.22 264.30M479.53 262.60L479.53 264.30M480.70 262.60L480.70 265.60M488.41 262.60L488.41 264.30M492.91 262.60L492.91 264.30M496.11 262.60L496.11 264.30M498.59 262.60L498.59 264.30M500.62 262.60L500.62 264.30M502.33 262.60L502.33 264.30M503.82 262.60L503.82 264.30M505.13 262.60L505.13 264.30M506.30 262.60L506.30 265.60M398.70 262.60L403.90 262.60M401.40 259.92L403.90 259.92M401.40 257.24L403.90 257.24M401.40 254.56L403.90 254.56M401.40 251.88L403.90 251.88M398.70 249.20L403.90 249.20M401.40 246.52L403.90 246.52M401.40 243.84L403.90 243.84M401.40 241.16L403.90 241.16M401.40 238.48L403.90 238.48M398.70 235.80L403.90 235.80M401.40 233.12L403.90 233.12M401.40 230.44L403.90 230.44M401.40 227.76L403.90 227.76M401.40 225.08L403.90 225.08M398.70 222.40L403.90 222.40M401.40 219.72L403.90 219.72M401.40 217.04L403.90 217.04M401.40 214.36L403.90 214.36M401.40 211.68L403.90 211.68M398.70 209.00L403.90 209.00M401.40 206.32L403.90 206.32M401.40 203.64L403.90 203.64M401.40 200.96L403.90 200.96M401.40 198.28L403.90 198.28M398.70 195.60L403.90 195.60M401.40 192.92L403.90 192.92M401.40 190.24L403.90 190.24M401.40 187.56L403.90 187.56" stroke="#000" stroke-width="1.1" fill="none"/>
<text x="405.90" y="276.60" font-size="8.8" font-weight="bold" text-anchor="end" fill="#000" textLength="8.50" lengthAdjust="spacingAndGlyphs"  stroke="#000" stroke-width="0.2">10</text>
<text x="406.40" y="271.80" font-size="8.5" font-weight="bold" text-anchor="start" fill="#000"  stroke="#000" stroke-width="0.2">0</text>
<text x="431.50" y="276.60" font-size="8.8" font-weight="bold" text-anchor="end" fill="#000" textLength="8.50" lengthAdjust="spacingAndGlyphs"  stroke="#000" stroke-width="0.2">10</text>
<text x="432.00" y="271.80" font-size="8.5" font-weight="bold" text-anchor="start" fill="#000"  stroke="#000" stroke-width="0.2">1</text>
<text x="457.10" y="276.60" font-size="8.8" font-weight="bold" text-anchor="end" fill="#000" textLength="8.50" lengthAdjust="spacingAndGlyphs"  stroke="#000" stroke-width="0.2">10</text>
<text x="457.60" y="271.80" font-size="8.5" font-weight="bold" text-anchor="start" fill="#000"  stroke="#000" stroke-width="0.2">2</text>
<text x="482.70" y="276.60" font-size="8.8" font-weight="bold" text-anchor="end" fill="#000" textLength="8.50" lengthAdjust="spacingAndGlyphs"  stroke="#000" stroke-width="0.2">10</text>
<text x="483.20" y="271.80" font-size="8.5" font-weight="bold" text-anchor="start" fill="#000"  stroke="#000" stroke-width="0.2">3</text>
<text x="508.30" y="276.60" font-size="8.8" font-weight="bold" text-anchor="end" fill="#000" textLength="8.50" lengthAdjust="spacingAndGlyphs"  stroke="#000" stroke-width="0.2">10</text>
<text x="508.80" y="271.80" font-size="8.5" font-weight="bold" text-anchor="start" fill="#000"  stroke="#000" stroke-width="0.2">4</text>
<text x="454.00" y="285.90" font-size="8.8" font-weight="bold" text-anchor="middle" fill="#000" textLength="61.80" lengthAdjust="spacingAndGlyphs"  stroke="#000" stroke-width="0.3">Annexin V FITC</text>
<text x="395.20" y="185.60" font-size="7.4" font-weight="bold" text-anchor="end" fill="#000" textLength="12.80" lengthAdjust="spacingAndGlyphs" transform="rotate(-90 395.20 185.60)"  stroke="#000" stroke-width="0.15">350</text>
<text x="395.20" y="261.20" font-size="7.4" font-weight="bold" text-anchor="middle" fill="#000" transform="rotate(-90 395.20 261.20)"  stroke="#000" stroke-width="0.15">0</text>
<text x="385.90" y="225.80" font-size="9.0" font-weight="bold" text-anchor="middle" fill="#000" textLength="27.60" lengthAdjust="spacingAndGlyphs" transform="rotate(-90 385.90 225.80)"  stroke="#000" stroke-width="0.15">Counts</text>
<path d="M404.9 255.5L404.9 243.6L405.6 242.4L406.2 238.9L406.9 237.4L407.5 235.9L408.2 233.4L408.9 230.9L409.5 230.4L410.2 229.4L410.9 229.2L411.6 227.0L412.3 226.5L413.0 226.0L413.6 226.0L414.3 227.6L415.0 228.9L415.6 229.0L416.2 230.0L416.9 233.8L417.6 238.0L418.2 238.3L418.9 239.8L419.5 243.7L420.1 245.9L420.8 246.9L421.5 247.4L422.2 249.1L422.9 250.8L423.6 251.3L424.3 252.0L424.9 251.5L425.5 253.0L426.1 253.8L426.8 253.7L427.4 254.4L428.0 255.3L428.6 255.8L429.2 255.1L429.9 256.0L430.5 256.3L431.1 256.8L431.7 257.4L432.4 259.0L433.0 258.1L433.6 258.5L434.3 259.5L434.9 258.4L435.5 259.6L436.1 259.3L436.8 258.9L437.4 260.1L438.0 260.2L438.6 259.2L439.3 260.4L439.9 260.0L440.5 260.5L441.1 260.0L441.8 260.5L442.4 259.6L443.0 259.5L443.6 260.2L444.2 260.6L444.9 260.5L445.5 260.1L446.1 259.6L446.7 260.5L447.4 259.2L448.0 260.5L448.6 260.6L449.2 260.4L449.9 259.8L450.6 259.7L451.2 259.4L451.9 258.1L452.5 258.2L453.2 257.8L453.8 257.6L454.4 257.8L455.0 257.1L455.6 255.8L456.3 253.5L456.9 252.5L457.5 251.8L458.1 252.3L458.8 250.8L459.5 248.0L460.2 244.3L460.9 241.2L461.6 240.2L462.3 237.2L463.1 231.3L463.8 228.8L464.6 219.6L465.4 211.1L466.1 218.1L466.8 224.3L467.6 231.5L468.5 237.5L469.4 244.6L470.2 251.0L470.8 253.2L471.4 257.2L472.0 259.1L472.6 258.4L473.3 260.3L474.0 260.5L474.6 260.3L475.2 261.1L475.8 260.3L476.4 261.6L477.0 261.3L477.7 261.1L478.3 261.7L478.9 261.0L479.5 261.5L480.1 261.0L480.7 261.9L481.3 261.8L481.9 261.5L482.6 261.2L483.2 261.5L483.8 260.6L484.4 261.0L485.0 260.6L485.6 261.8L486.2 261.7L486.8 261.1L487.4 261.0L488.0 262.0L488.6 261.3L489.2 260.7L489.8 261.1L490.4 261.6L491.0 261.6L491.6 261.7L492.2 261.0L492.8 261.6L493.4 262.0L494.0 262.0L494.6 261.9L495.2 261.7L495.8 261.3L496.4 261.5L497.0 260.7L497.6 261.2L498.2 261.5L498.8 261.3L499.4 260.9L500.0 261.3L500.6 261.6L501.2 261.2L501.8 261.0L502.4 261.8L503.0 261.3L503.6 260.9L504.2 261.8L504.8 260.8L505.4 261.4L506.0 261.4" stroke="#000" stroke-width="2.4" fill="none" stroke-linejoin="round"/>
<path d="M406.9 253.5L407.5 252.5L408.2 250.4L408.9 248.4L409.5 247.4L410.3 247.0L411.0 246.1L411.8 245.7L412.5 246.5L413.2 248.3L414.0 250.1L414.7 250.9L415.4 251.3L416.1 252.4L416.8 253.7L417.5 254.8L418.2 255.2L418.8 255.4L419.4 255.9L420.0 256.6L420.7 257.3L421.3 258.0L421.9 258.5L422.5 258.7L423.1 258.8L423.8 258.9L424.4 259.1L425.1 259.4L425.8 259.6L426.4 259.8L427.1 259.9L427.7 260.0" stroke="#000" stroke-width="1.2" fill="none" stroke-linejoin="round" stroke-dasharray="2.2 2.2"/>
<path d="M446.8 257.8L447.4 256.7L448.1 254.4L448.8 252.0L449.4 250.9L450.0 248.7L450.7 243.9L451.4 239.2L452.0 237.0L452.6 234.3L453.3 228.3L454.0 222.4L454.6 219.7L455.5 211.0L456.4 202.3L457.0 200.1L457.7 195.4L458.4 190.7L459.0 188.5L459.9 193.7L460.7 198.9L461.4 207.6L462.1 216.2L463.3 237.0L464.1 245.7L465.0 254.4L465.8 256.0L466.5 258.8L467.3 260.4" stroke="#000" stroke-width="1.2" fill="none" stroke-linejoin="round" stroke-dasharray="3.2 2.4"/>
<rect x="403.90" y="327.90" width="102.40" height="75.20" fill="none" stroke="#000" stroke-width="1.45"/>
<path d="M403.90 403.10L403.90 406.10M411.61 403.10L411.61 404.80M416.11 403.10L416.11 404.80M419.31 403.10L419.31 404.80M421.79 403.10L421.79 404.80M423.82 403.10L423.82 404.80M425.53 403.10L425.53 404.80M427.02 403.10L427.02 404.80M428.33 403.10L428.33 404.80M429.50 403.10L429.50 406.10M437.21 403.10L437.21 404.80M441.71 403.10L441.71 404.80M444.91 403.10L444.91 404.80M447.39 403.10L447.39 404.80M449.42 403.10L449.42 404.80M451.13 403.10L451.13 404.80M452.62 403.10L452.62 404.80M453.93 403.10L453.93 404.80M455.10 403.10L455.10 406.10M462.81 403.10L462.81 404.80M467.31 403.10L467.31 404.80M470.51 403.10L470.51 404.80M472.99 403.10L472.99 404.80M475.02 403.10L475.02 404.80M476.73 403.10L476.73 404.80M478.22 403.10L478.22 404.80M479.53 403.10L479.53 404.80M480.70 403.10L480.70 406.10M488.41 403.10L488.41 404.80M492.91 403.10L492.91 404.80M496.11 403.10L496.11 404.80M498.59 403.10L498.59 404.80M500.62 403.10L500.62 404.80M502.33 403.10L502.33 404.80M503.82 403.10L503.82 404.80M505.13 403.10L505.13 404.80M506.30 403.10L506.30 406.10M398.70 403.10L403.90 403.10M401.40 400.42L403.90 400.42M401.40 397.74L403.90 397.74M401.40 395.06L403.90 395.06M401.40 392.38L403.90 392.38M398.70 389.70L403.90 389.70M401.40 387.02L403.90 387.02M401.40 384.34L403.90 384.34M401.40 381.66L403.90 381.66M401.40 378.98L403.90 378.98M398.70 376.30L403.90 376.30M401.40 373.62L403.90 373.62M401.40 370.94L403.90 370.94M401.40 368.26L403.90 368.26M401.40 365.58L403.90 365.58M398.70 362.90L403.90 362.90M401.40 360.22L403.90 360.22M401.40 357.54L403.90 357.54M401.40 354.86L403.90 354.86M401.40 352.18L403.90 352.18M398.70 349.50L403.90 349.50M401.40 346.82L403.90 346.82M401.40 344.14L403.90 344.14M401.40 341.46L403.90 341.46M401.40 338.78L403.90 338.78M398.70 336.10L403.90 336.10M401.40 333.42L403.90 333.42M401.40 330.74L403.90 330.74M401.40 328.06L403.90 328.06" stroke="#000" stroke-width="1.1" fill="none"/>
<text x="405.90" y="417.40" font-size="8.8" font-weight="bold" text-anchor="end" fill="#000" textLength="8.50" lengthAdjust="spacingAndGlyphs"  stroke="#000" stroke-width="0.2">10</text>
<text x="406.40" y="412.60" font-size="8.5" font-weight="bold" text-anchor="start" fill="#000"  stroke="#000" stroke-width="0.2">0</text>
<text x="431.50" y="417.40" font-size="8.8" font-weight="bold" text-anchor="end" fill="#000" textLength="8.50" lengthAdjust="spacingAndGlyphs"  stroke="#000" stroke-width="0.2">10</text>
<text x="432.00" y="412.60" font-size="8.5" font-weight="bold" text-anchor="start" fill="#000"  stroke="#000" stroke-width="0.2">1</text>
<text x="457.10" y="417.40" font-size="8.8" font-weight="bold" text-anchor="end" fill="#000" textLength="8.50" lengthAdjust="spacingAndGlyphs"  stroke="#000" stroke-width="0.2">10</text>
<text x="457.60" y="412.60" font-size="8.5" font-weight="bold" text-anchor="start" fill="#000"  stroke="#000" stroke-width="0.2">2</text>
<text x="482.70" y="417.40" font-size="8.8" font-weight="bold" text-anchor="end" fill="#000" textLength="8.50" lengthAdjust="spacingAndGlyphs"  stroke="#000" stroke-width="0.2">10</text>
<text x="483.20" y="412.60" font-size="8.5" font-weight="bold" text-anchor="start" fill="#000"  stroke="#000" stroke-width="0.2">3</text>
<text x="508.30" y="417.40" font-size="8.8" font-weight="bold" text-anchor="end" fill="#000" textLength="8.50" lengthAdjust="spacingAndGlyphs"  stroke="#000" stroke-width="0.2">10</text>
<text x="508.80" y="412.60" font-size="8.5" font-weight="bold" text-anchor="start" fill="#000"  stroke="#000" stroke-width="0.2">4</text>
<text x="454.20" y="426.70" font-size="8.8" font-weight="bold" text-anchor="middle" fill="#000" textLength="61.80" lengthAdjust="spacingAndGlyphs"  stroke="#000" stroke-width="0.3">Annexin V FITC</text>
<text x="395.20" y="327.40" font-size="7.4" font-weight="bold" text-anchor="end" fill="#000" textLength="7.50" lengthAdjust="spacingAndGlyphs" transform="rotate(-90 395.20 327.40)"  stroke="#000" stroke-width="0.15">90</text>
<text x="395.20" y="401.70" font-size="7.4" font-weight="bold" text-anchor="middle" fill="#000" transform="rotate(-90 395.20 401.70)"  stroke="#000" stroke-width="0.15">0</text>
<text x="386.30" y="367.30" font-size="9.0" font-weight="bold" text-anchor="middle" fill="#000" textLength="27.60" lengthAdjust="spacingAndGlyphs" transform="rotate(-90 386.30 367.30)"  stroke="#000" stroke-width="0.15">Counts</text>
<path d="M404.9 401.8L404.9 381.2L406.0 398.2L406.7 396.8L407.4 391.7L408.0 388.7L408.7 388.1L409.4 385.7L410.1 383.7L410.7 380.2L411.4 377.9L412.1 377.9L412.7 376.7L413.4 375.7L414.0 376.3L414.6 375.8L415.2 374.0L415.9 375.0L416.5 373.5L417.1 373.5L417.7 375.2L418.3 375.9L419.0 374.5L419.6 376.0L420.2 375.2L420.8 375.3L421.4 377.1L422.1 375.9L422.8 377.6L423.4 376.1L424.1 376.5L424.7 378.3L425.4 378.4L426.0 378.3L426.7 377.8L427.4 379.2L428.1 380.4L428.8 381.4L429.5 381.7L430.1 382.7L430.7 382.5L431.3 384.1L432.0 386.0L432.6 387.4L433.2 388.2L433.8 388.2L434.4 389.0L435.1 389.8L435.8 390.6L436.4 390.7L437.1 391.8L437.7 391.5L438.4 392.4L439.0 392.8L439.6 393.0L440.2 393.9L440.8 392.6L441.4 394.7L442.1 393.8L442.7 394.8L443.3 394.4L443.9 395.1L444.5 395.5L445.1 396.6L445.8 395.1L446.4 394.9L447.1 395.1L447.7 394.6L448.4 393.7L449.0 394.8L449.7 393.5L450.3 393.8L451.0 393.6L451.7 390.4L452.4 388.9L453.1 387.7L453.8 387.9L454.5 386.4L455.2 384.2L455.8 381.9L456.5 380.1L457.2 378.7L457.9 379.3L458.6 377.2L459.3 376.2L460.0 375.1L460.7 373.7L461.4 373.7L462.0 374.5L462.6 373.0L463.3 372.8L463.9 374.3L464.6 376.1L465.2 378.7L465.9 379.0L466.5 379.6L467.2 383.1L467.9 386.4L468.5 387.9L469.1 389.4L469.8 391.0L470.5 394.6L471.1 395.3L471.8 396.8L472.5 398.2L473.2 398.8L473.9 399.6L474.6 400.3L475.2 401.3L475.8 401.8L476.4 401.3L477.0 401.6L477.7 401.5L478.3 400.8L478.9 401.4L479.5 400.8L480.1 402.0L480.7 402.3L481.3 401.6L481.9 401.2L482.6 401.2L483.2 402.6L483.8 401.6L484.4 400.9L485.0 402.5L485.6 402.1L486.2 402.6L486.8 402.2L487.4 402.5L488.0 401.5L488.6 401.8L489.2 401.3L489.8 400.8L490.4 401.2L491.0 401.2L491.6 401.7L492.2 401.2L492.8 401.6L493.4 401.0L494.0 400.9L494.6 401.1L495.2 402.3L495.8 401.3L496.4 400.9L497.0 402.8L497.6 402.4L498.2 402.4L498.8 401.4L499.4 401.1L500.0 402.5L500.6 401.2L501.2 402.8L501.8 402.2L502.4 402.9L503.0 402.0L503.6 401.8L504.2 402.8L504.8 401.6L505.4 402.7L506.0 402.0" stroke="#000" stroke-width="2.4" fill="none" stroke-linejoin="round"/>
<path d="M411.3 392.1L411.9 391.9L412.5 391.6L413.1 390.9L413.8 390.5L414.4 390.3L415.0 390.4L415.6 390.2L416.2 390.1L416.9 390.2L417.6 391.3L418.2 391.9L418.9 392.5L419.5 392.9L420.2 393.2L420.8 393.3L421.4 393.8L422.1 393.5L422.8 393.8L423.4 394.7L424.1 394.7L424.7 395.2L425.4 395.5L426.0 395.0L426.6 394.9L427.3 394.9L427.9 395.1L428.5 395.7L429.2 395.8L429.8 395.6L430.5 395.5L431.1 396.0L431.7 396.3L432.4 396.4L433.0 396.1L433.6 396.5L434.2 395.9L434.8 396.3L435.5 396.3L436.1 396.1L436.7 396.5L437.3 396.4L437.9 396.8L438.5 396.9L439.1 396.5L439.8 396.5L440.4 396.9L441.0 397.2L441.6 397.0" stroke="#000" stroke-width="1.2" fill="none" stroke-linejoin="round" stroke-dasharray="2.4 2.4"/>
<path d="M449.4 390.9L450.0 389.8L450.7 387.4L451.4 385.1L452.0 384.0L452.6 381.8L453.3 377.0L454.0 372.2L454.6 370.0L455.2 367.6L455.9 362.2L456.6 356.9L457.2 354.5L457.8 350.5L458.4 342.9L459.0 338.9L459.6 337.8L460.2 335.2L460.9 332.2L461.5 329.6L462.1 328.5L462.8 331.2L463.5 336.2L464.2 338.9L464.9 347.5L465.5 356.2L466.1 364.9L466.8 373.6L467.6 379.6L468.5 385.7L469.4 391.8L470.2 397.8" stroke="#000" stroke-width="1.2" fill="none" stroke-linejoin="round" stroke-dasharray="3.2 2.4"/>
<path d="M423 8q2.4-1.4 4.8 0t4.8 0t4.8 0t4.8 0" stroke="#555" stroke-width="0.9" fill="none"/>
<line x1="423.00" y1="25.50" x2="442.30" y2="25.50" stroke="#000" stroke-width="1.5" />
<text x="448.50" y="12.30" font-size="15.5" font-weight="bold" text-anchor="start" fill="#000" textLength="24.30" lengthAdjust="spacingAndGlyphs" >-Zn</text>
<text x="448.50" y="30.30" font-size="15.5" font-weight="bold" text-anchor="start" fill="#000" textLength="24.30" lengthAdjust="spacingAndGlyphs" >-Zn</text>
<text x="388.00" y="149.20" font-size="11.6" font-weight="bold" text-anchor="start" fill="#000" textLength="125.80" lengthAdjust="spacingAndGlyphs"  stroke="#000" stroke-width="0.25">-Zn: 18% Annexin neg.</text>
<text x="388.00" y="162.90" font-size="11.6" font-weight="bold" text-anchor="start" fill="#000" textLength="131.30" lengthAdjust="spacingAndGlyphs"  stroke="#000" stroke-width="0.25">+Zn: 16% Annexin neg.</text>
<text x="388.00" y="300.30" font-size="11.6" font-weight="bold" text-anchor="start" fill="#000" textLength="125.80" lengthAdjust="spacingAndGlyphs"  stroke="#000" stroke-width="0.25">-Zn: 19% Annexin neg.</text>
<text x="388.00" y="312.70" font-size="11.6" font-weight="bold" text-anchor="start" fill="#000" textLength="127.50" lengthAdjust="spacingAndGlyphs"  stroke="#000" stroke-width="0.25">+Zn: 59% Annexin neg.</text>
<text x="386.70" y="443.80" font-size="11.6" font-weight="bold" text-anchor="start" fill="#000" textLength="127.10" lengthAdjust="spacingAndGlyphs"  stroke="#000" stroke-width="0.25">-Zn: 15% Annexin neg.</text>
<text x="386.70" y="457.20" font-size="11.6" font-weight="bold" text-anchor="start" fill="#000" textLength="128.70" lengthAdjust="spacingAndGlyphs"  stroke="#000" stroke-width="0.25">+Zn: 50% Annexin neg.</text>
</svg>
</body></html>
